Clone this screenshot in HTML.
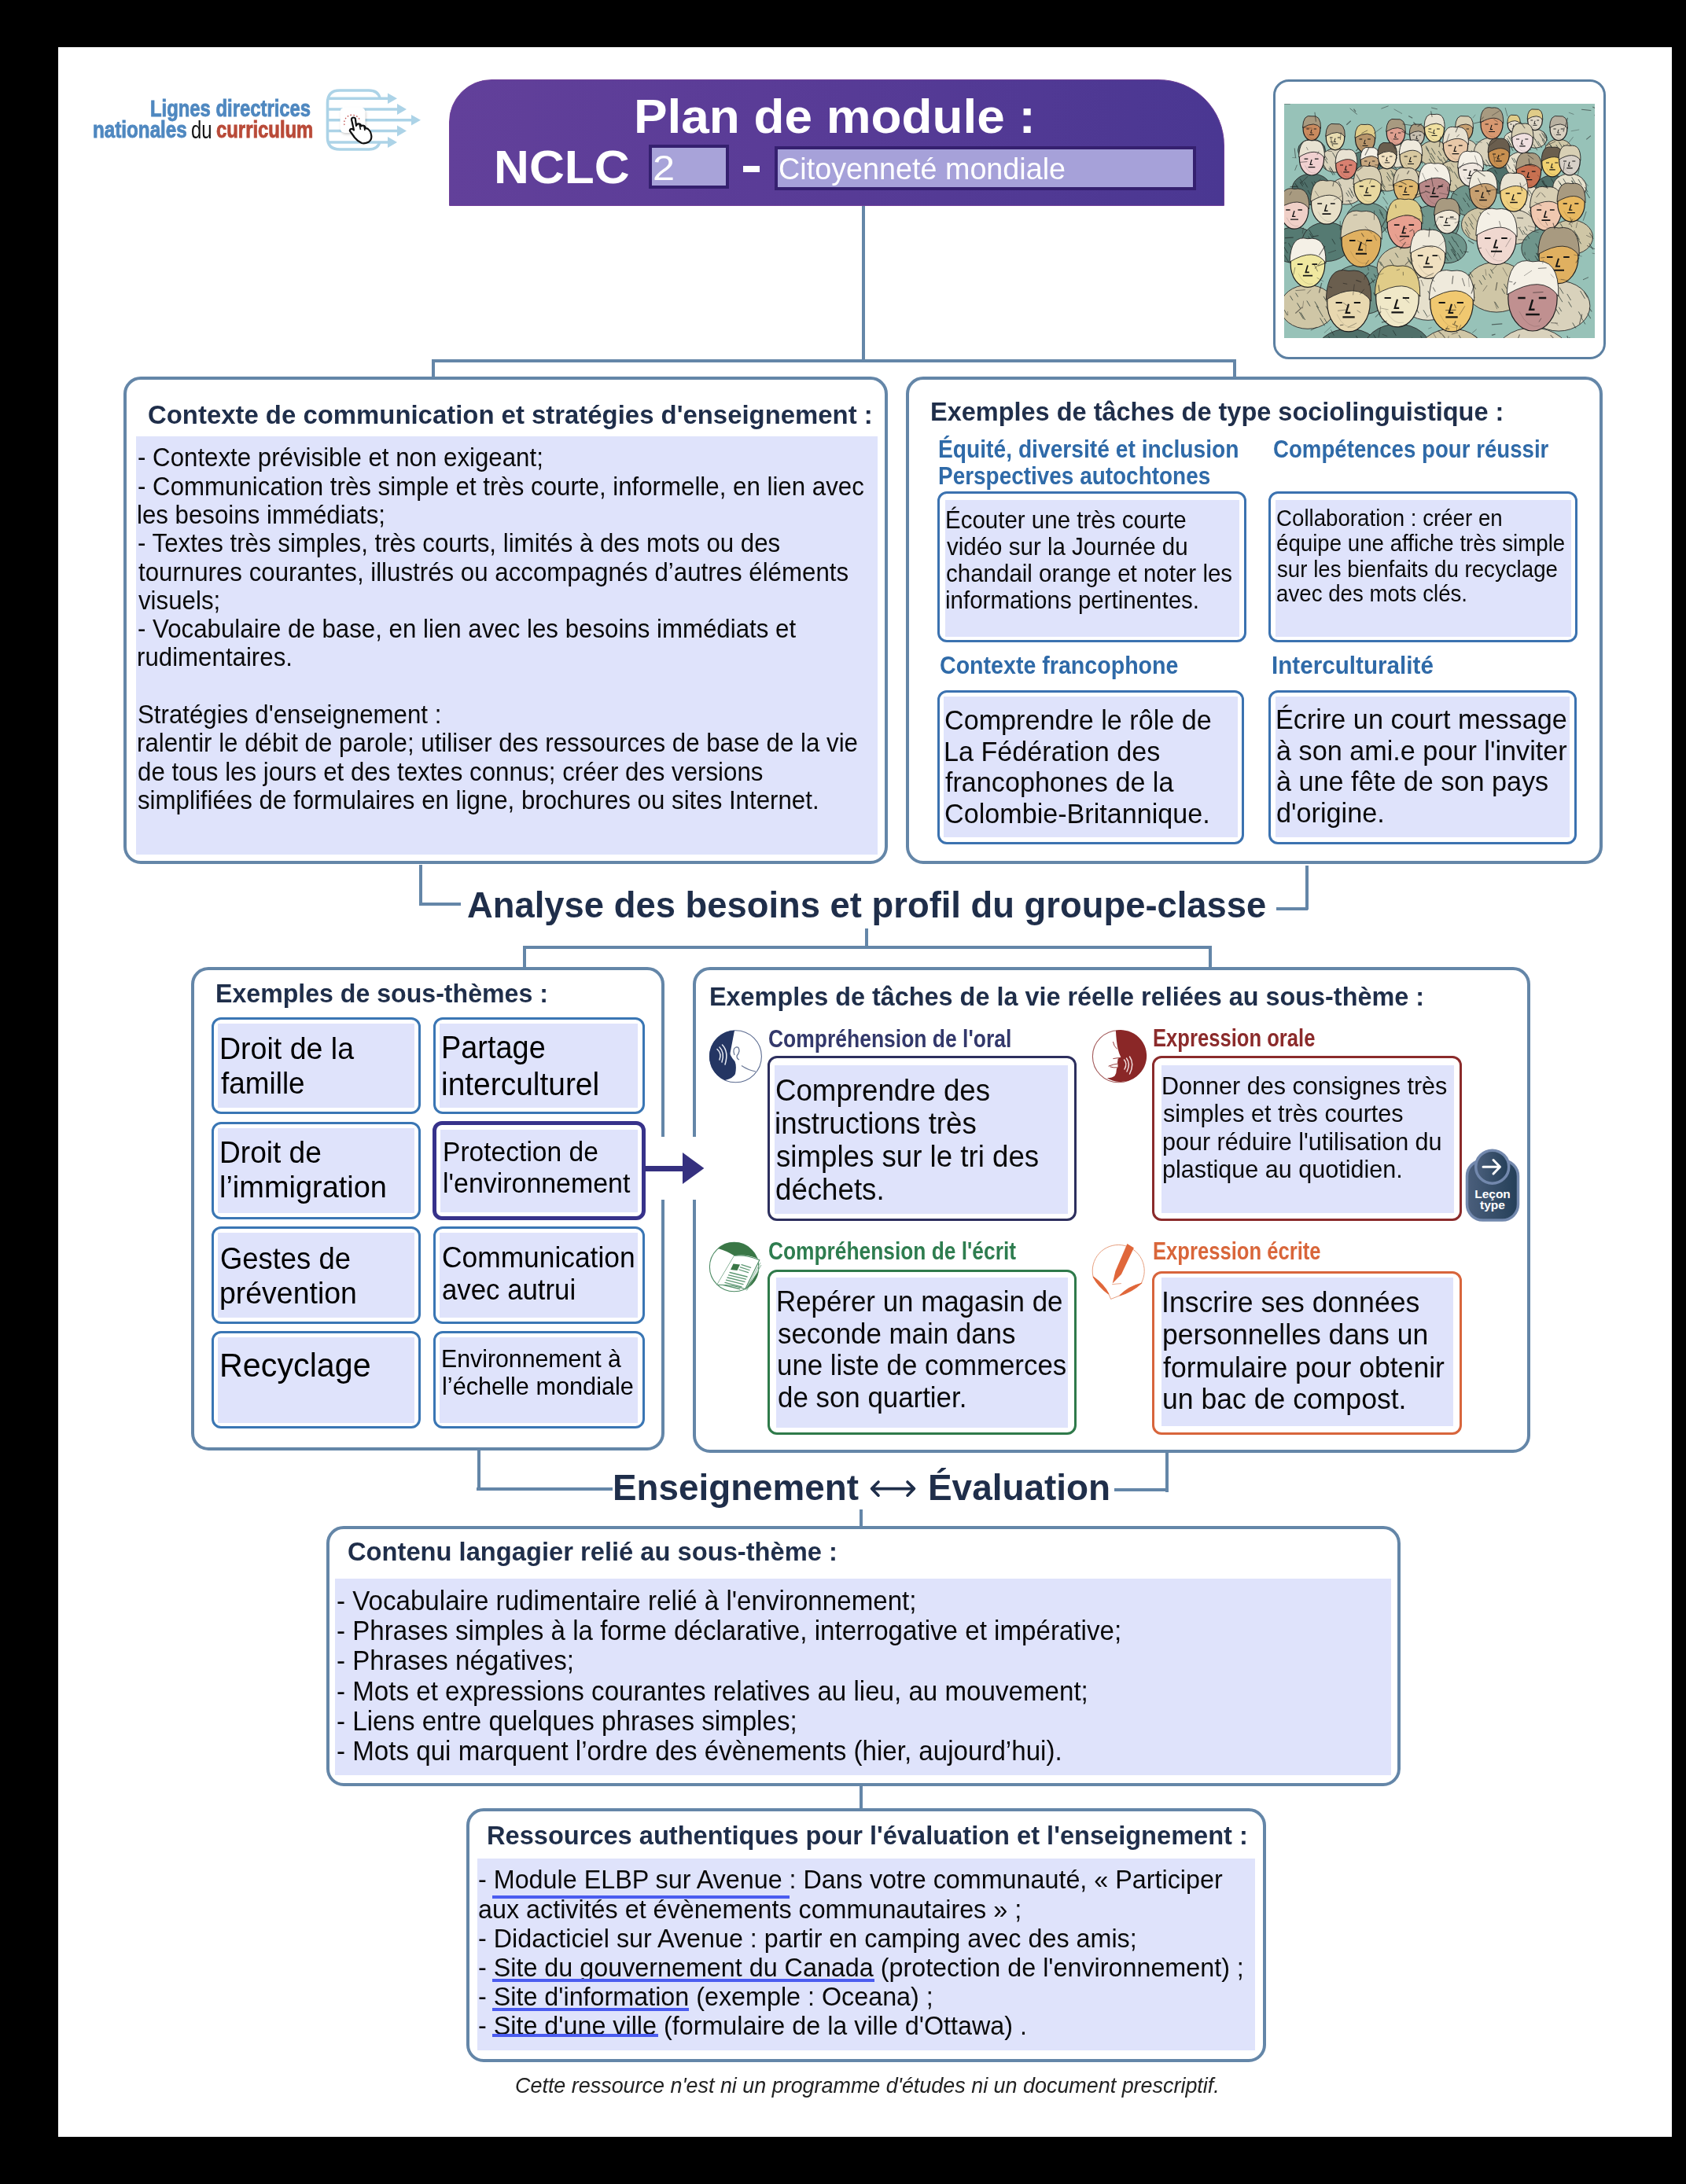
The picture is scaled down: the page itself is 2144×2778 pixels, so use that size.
<!DOCTYPE html>
<html><head><meta charset="utf-8">
<style>
html,body{margin:0;padding:0;}
body{width:2144px;height:2778px;background:#000;position:relative;overflow:hidden;font-family:"Liberation Sans",sans-serif;}
body>div,body>span,body>svg{position:absolute;box-sizing:border-box;}
.t{white-space:pre;transform-origin:0 0;display:block;}
</style></head><body>
<div style="left:74.0px;top:60.0px;width:2052.0px;height:2658.0px;background:#ffffff;"></div>
<span class="t" style="left:190.7px;top:122.6px;font-size:30.0px;line-height:30.0px;font-weight:bold;font-style:normal;color:#4f88c0;transform:scaleX(0.7948);-webkit-text-stroke:0.9px currentColor;">Lignes directrices</span>
<span class="t" style="left:118.2px;top:150.1px;font-size:30.0px;line-height:30.0px;font-weight:bold;font-style:normal;color:#4f88c0;transform:scaleX(0.8072);-webkit-text-stroke:0.9px currentColor;">nationales</span>
<span class="t" style="left:243.3px;top:149.7px;font-size:30.450000000000003px;line-height:30.450000000000003px;font-weight:normal;font-style:normal;color:#111;transform:scaleX(0.7875);">du</span>
<span class="t" style="left:275.4px;top:150.1px;font-size:30.0px;line-height:30.0px;font-weight:bold;font-style:normal;color:#b94a38;transform:scaleX(0.7955);-webkit-text-stroke:0.9px currentColor;">curriculum</span>
<svg style="left:405px;top:105px" width="140" height="95" viewBox="0 0 140 95">
<g fill="none" stroke="#acd3e7" stroke-width="3.6">
<path d="M11.5 26 Q11.5 10 27 10 L64 10 Q76 10 78 20 M11.5 26 L11.5 70 Q11.5 85 27 85 L64 85 Q76 85 78 75"/>
<line x1="13" y1="20.3" x2="90" y2="20.3"/><line x1="13" y1="34" x2="102" y2="34"/>
<line x1="13" y1="47.8" x2="120" y2="47.8"/><line x1="13" y1="61.5" x2="102" y2="61.5"/>
<line x1="13" y1="76" x2="90" y2="76"/>
</g>
<g fill="#acd3e7">
<polygon points="88,13.5 100,20.3 88,27"/><polygon points="100,27 112,34 100,41"/>
<polygon points="118,41 130,47.8 118,54.5"/><polygon points="100,54.5 112,61.5 100,68.5"/>
<polygon points="88,69 100,76 88,83"/>
</g>
<rect x="27.5" y="31.5" width="32" height="32.5" rx="6" fill="#fff" style="filter:drop-shadow(1px 2px 1.5px rgba(0,0,0,0.18))"/>
<g stroke="#c0504d" stroke-width="1.3" fill="none" stroke-dasharray="1.6 2.4">
<path d="M33 54 A10 10 0 1 1 53 49"/>
</g>
<path d="M42 47 Q42 44.5 44.5 44.5 Q47 44.5 47 47 L48 55 Q49 52 52 52.5 Q54 53 54 55.5 Q56 54 58 55 Q60 56.5 60 58.5 Q62 58 63.5 59.5 Q66 61.5 67 66 Q68.5 72 64 75.5 Q59 78 55 77 Q50 75 46 70 L41 63 Q39 61 40.5 59.5 Q42.5 58 45 60.5 Z" fill="#fff" stroke="#111" stroke-width="2.2" stroke-linejoin="round"/>
<path d="M52 53 L53.5 60 M58 55.5 L59 61" stroke="#111" stroke-width="1.6"/>
</svg>
<div style="left:571px;top:101px;width:986px;height:161px;border-radius:54px 84px 0 0;border:1.5px solid #70409a;background:linear-gradient(90deg,#62409a 0%,#5a3c97 40%,#4a3792 100%);"></div>
<span class="t" style="left:806.4px;top:118.0px;font-size:61.0px;line-height:61.0px;font-weight:bold;font-style:normal;color:#ffffff;transform:scaleX(1.0465);">Plan de module :</span>
<span class="t" style="left:628.0px;top:182.7px;font-size:60.0px;line-height:60.0px;font-weight:bold;font-style:normal;color:#ffffff;transform:scaleX(1.0366);">NCLC</span>
<div style="left:825.0px;top:184.0px;width:102.0px;height:56.0px;border:4px solid #35206f;border-radius:0;background:#a8a3d9;box-sizing:border-box;"></div>
<span class="t" style="left:829.5px;top:191.8px;font-size:44.625px;line-height:44.625px;font-weight:normal;font-style:normal;color:#ffffff;transform:scaleX(1.1328);">2</span>
<div style="left:945.0px;top:211.0px;width:21.0px;height:8.0px;background:#ffffff;"></div>
<div style="left:985.0px;top:186.0px;width:536.0px;height:55.5px;border:4px solid #35206f;border-radius:0;background:#a6a1d9;box-sizing:border-box;"></div>
<span class="t" style="left:990.1px;top:194.8px;font-size:39.165px;line-height:39.165px;font-weight:normal;font-style:normal;color:#ffffff;transform:scaleX(0.9640);">Citoyenneté mondiale</span>
<div style="left:1096.0px;top:262.0px;width:4.0px;height:198.0px;background:#6486a8;"></div>
<div style="left:549.0px;top:456.5px;width:1023.0px;height:4.0px;background:#6486a8;"></div>
<div style="left:549.0px;top:456.5px;width:4.0px;height:23.5px;background:#6486a8;"></div>
<div style="left:1568.0px;top:456.5px;width:4.0px;height:23.5px;background:#6486a8;"></div>
<div style="left:1619.2px;top:101.2px;width:422.8px;height:355.8px;border:3.6px solid #5c80a2;border-radius:20px;background:#ffffff;box-sizing:border-box;"></div>
<svg style="left:1633px;top:132px" width="395" height="298" viewBox="0 0 395 298">
<defs><clipPath id="ic"><rect width="395" height="298"/></clipPath></defs><g clip-path="url(#ic)">
<rect width="395" height="298" fill="#97c2b8"/>
<ellipse cx="35.0" cy="59.2" rx="17.5" ry="14.0" fill="#557a72" stroke="#2a2a2a" stroke-width="0.9"/>
<line x1="47.0" y1="65.8" x2="52.3" y2="74.7" stroke="#1f2f2c" stroke-width="0.7"/>
<line x1="33.4" y1="65.8" x2="37.0" y2="71.7" stroke="#1f2f2c" stroke-width="0.7"/>
<line x1="45.0" y1="58.0" x2="49.8" y2="66.0" stroke="#1f2f2c" stroke-width="0.7"/>
<line x1="24.7" y1="57.4" x2="28.1" y2="63.1" stroke="#1f2f2c" stroke-width="0.7"/>
<line x1="36.3" y1="66.5" x2="41.2" y2="74.7" stroke="#1f2f2c" stroke-width="0.7"/>
<line x1="38.1" y1="56.3" x2="42.5" y2="63.6" stroke="#1f2f2c" stroke-width="0.7"/>
<line x1="42.8" y1="61.5" x2="47.7" y2="69.7" stroke="#1f2f2c" stroke-width="0.7"/>
<line x1="45.9" y1="49.5" x2="49.0" y2="54.6" stroke="#1f2f2c" stroke-width="0.7"/>
<line x1="47.4" y1="60.5" x2="52.8" y2="69.4" stroke="#1f2f2c" stroke-width="0.7"/>
<line x1="29.3" y1="60.3" x2="32.9" y2="66.3" stroke="#1f2f2c" stroke-width="0.7"/>
<line x1="26.3" y1="54.2" x2="29.3" y2="59.2" stroke="#1f2f2c" stroke-width="0.7"/>
<line x1="21.4" y1="61.6" x2="25.6" y2="68.7" stroke="#1f2f2c" stroke-width="0.7"/>
<line x1="36.7" y1="67.3" x2="39.9" y2="72.8" stroke="#1f2f2c" stroke-width="0.7"/>
<line x1="26.9" y1="63.8" x2="31.5" y2="71.3" stroke="#1f2f2c" stroke-width="0.7"/>
<ellipse cx="65.0" cy="72.1" rx="18.7" ry="15.0" fill="#d9d2bc" stroke="#2a2a2a" stroke-width="0.9"/>
<line x1="49.9" y1="77.2" x2="54.1" y2="84.2" stroke="#1f2f2c" stroke-width="0.7"/>
<line x1="77.2" y1="68.8" x2="83.0" y2="78.6" stroke="#1f2f2c" stroke-width="0.7"/>
<line x1="77.2" y1="60.3" x2="80.8" y2="66.4" stroke="#1f2f2c" stroke-width="0.7"/>
<line x1="79.4" y1="70.7" x2="85.3" y2="80.6" stroke="#1f2f2c" stroke-width="0.7"/>
<line x1="61.4" y1="61.9" x2="66.3" y2="70.1" stroke="#1f2f2c" stroke-width="0.7"/>
<line x1="74.8" y1="66.3" x2="78.0" y2="71.7" stroke="#1f2f2c" stroke-width="0.7"/>
<line x1="59.1" y1="81.6" x2="64.4" y2="90.4" stroke="#1f2f2c" stroke-width="0.7"/>
<line x1="51.6" y1="65.8" x2="54.9" y2="71.3" stroke="#1f2f2c" stroke-width="0.7"/>
<line x1="49.6" y1="77.9" x2="53.1" y2="83.8" stroke="#1f2f2c" stroke-width="0.7"/>
<line x1="67.1" y1="70.2" x2="70.7" y2="76.1" stroke="#1f2f2c" stroke-width="0.7"/>
<line x1="73.1" y1="63.2" x2="78.1" y2="71.4" stroke="#1f2f2c" stroke-width="0.7"/>
<line x1="51.5" y1="69.6" x2="55.2" y2="75.7" stroke="#1f2f2c" stroke-width="0.7"/>
<line x1="56.9" y1="81.7" x2="62.3" y2="90.8" stroke="#1f2f2c" stroke-width="0.7"/>
<line x1="58.1" y1="79.8" x2="61.8" y2="85.9" stroke="#1f2f2c" stroke-width="0.7"/>
<ellipse cx="103.0" cy="76.1" rx="20.0" ry="16.0" fill="#557a72" stroke="#2a2a2a" stroke-width="0.9"/>
<line x1="121.6" y1="77.6" x2="126.3" y2="85.5" stroke="#1f2f2c" stroke-width="0.7"/>
<line x1="85.9" y1="66.9" x2="90.2" y2="74.1" stroke="#1f2f2c" stroke-width="0.7"/>
<line x1="84.6" y1="77.8" x2="90.1" y2="87.0" stroke="#1f2f2c" stroke-width="0.7"/>
<line x1="98.7" y1="65.2" x2="102.4" y2="71.3" stroke="#1f2f2c" stroke-width="0.7"/>
<line x1="108.1" y1="63.8" x2="112.2" y2="70.7" stroke="#1f2f2c" stroke-width="0.7"/>
<line x1="107.6" y1="66.5" x2="112.3" y2="74.4" stroke="#1f2f2c" stroke-width="0.7"/>
<line x1="115.4" y1="66.7" x2="119.6" y2="73.6" stroke="#1f2f2c" stroke-width="0.7"/>
<line x1="107.8" y1="70.8" x2="111.4" y2="76.9" stroke="#1f2f2c" stroke-width="0.7"/>
<line x1="107.1" y1="80.5" x2="110.6" y2="86.3" stroke="#1f2f2c" stroke-width="0.7"/>
<line x1="107.8" y1="76.5" x2="112.9" y2="84.9" stroke="#1f2f2c" stroke-width="0.7"/>
<line x1="98.8" y1="74.8" x2="102.1" y2="80.2" stroke="#1f2f2c" stroke-width="0.7"/>
<line x1="86.1" y1="66.0" x2="90.6" y2="73.6" stroke="#1f2f2c" stroke-width="0.7"/>
<line x1="93.8" y1="80.9" x2="98.0" y2="87.8" stroke="#1f2f2c" stroke-width="0.7"/>
<line x1="100.0" y1="84.8" x2="104.5" y2="92.2" stroke="#1f2f2c" stroke-width="0.7"/>
<ellipse cx="142.0" cy="66.1" rx="18.7" ry="15.0" fill="#e6e0cc" stroke="#2a2a2a" stroke-width="0.9"/>
<line x1="130.6" y1="70.2" x2="133.8" y2="75.6" stroke="#1f2f2c" stroke-width="0.7"/>
<line x1="132.5" y1="66.7" x2="138.0" y2="75.9" stroke="#1f2f2c" stroke-width="0.7"/>
<line x1="146.0" y1="60.5" x2="151.8" y2="70.1" stroke="#1f2f2c" stroke-width="0.7"/>
<line x1="131.6" y1="54.7" x2="135.4" y2="61.0" stroke="#1f2f2c" stroke-width="0.7"/>
<line x1="140.1" y1="55.7" x2="143.6" y2="61.5" stroke="#1f2f2c" stroke-width="0.7"/>
<line x1="137.4" y1="66.9" x2="140.8" y2="72.6" stroke="#1f2f2c" stroke-width="0.7"/>
<line x1="137.2" y1="74.0" x2="143.1" y2="83.9" stroke="#1f2f2c" stroke-width="0.7"/>
<line x1="147.5" y1="69.6" x2="152.3" y2="77.5" stroke="#1f2f2c" stroke-width="0.7"/>
<line x1="129.4" y1="55.1" x2="132.4" y2="60.2" stroke="#1f2f2c" stroke-width="0.7"/>
<line x1="156.4" y1="69.8" x2="162.3" y2="79.6" stroke="#1f2f2c" stroke-width="0.7"/>
<line x1="125.2" y1="68.4" x2="129.6" y2="75.8" stroke="#1f2f2c" stroke-width="0.7"/>
<line x1="150.1" y1="61.4" x2="156.1" y2="71.4" stroke="#1f2f2c" stroke-width="0.7"/>
<line x1="127.1" y1="66.4" x2="132.3" y2="75.1" stroke="#1f2f2c" stroke-width="0.7"/>
<line x1="156.0" y1="70.6" x2="161.2" y2="79.1" stroke="#1f2f2c" stroke-width="0.7"/>
<ellipse cx="169.0" cy="63.3" rx="15.0" ry="12.0" fill="#cfc6a6" stroke="#2a2a2a" stroke-width="0.9"/>
<line x1="164.8" y1="65.9" x2="170.5" y2="75.5" stroke="#1f2f2c" stroke-width="0.7"/>
<line x1="179.4" y1="61.2" x2="184.8" y2="70.2" stroke="#1f2f2c" stroke-width="0.7"/>
<line x1="179.2" y1="64.0" x2="184.1" y2="72.1" stroke="#1f2f2c" stroke-width="0.7"/>
<line x1="165.7" y1="64.1" x2="170.5" y2="72.2" stroke="#1f2f2c" stroke-width="0.7"/>
<line x1="157.2" y1="65.1" x2="163.2" y2="75.1" stroke="#1f2f2c" stroke-width="0.7"/>
<line x1="179.7" y1="66.7" x2="183.8" y2="73.6" stroke="#1f2f2c" stroke-width="0.7"/>
<line x1="175.6" y1="64.1" x2="179.9" y2="71.3" stroke="#1f2f2c" stroke-width="0.7"/>
<line x1="178.5" y1="55.3" x2="183.8" y2="64.1" stroke="#1f2f2c" stroke-width="0.7"/>
<line x1="155.8" y1="64.5" x2="160.2" y2="71.9" stroke="#1f2f2c" stroke-width="0.7"/>
<line x1="161.4" y1="66.2" x2="165.9" y2="73.7" stroke="#1f2f2c" stroke-width="0.7"/>
<line x1="172.2" y1="70.1" x2="176.0" y2="76.4" stroke="#1f2f2c" stroke-width="0.7"/>
<line x1="155.3" y1="59.2" x2="160.3" y2="67.6" stroke="#1f2f2c" stroke-width="0.7"/>
<line x1="160.6" y1="56.9" x2="166.4" y2="66.4" stroke="#1f2f2c" stroke-width="0.7"/>
<line x1="173.5" y1="61.7" x2="179.2" y2="71.1" stroke="#1f2f2c" stroke-width="0.7"/>
<ellipse cx="191.0" cy="63.1" rx="20.0" ry="16.0" fill="#cfc6a6" stroke="#2a2a2a" stroke-width="0.9"/>
<line x1="187.4" y1="56.4" x2="192.3" y2="64.5" stroke="#1f2f2c" stroke-width="0.7"/>
<line x1="202.4" y1="68.2" x2="206.0" y2="74.2" stroke="#1f2f2c" stroke-width="0.7"/>
<line x1="180.3" y1="55.6" x2="186.1" y2="65.2" stroke="#1f2f2c" stroke-width="0.7"/>
<line x1="180.1" y1="53.6" x2="184.2" y2="60.4" stroke="#1f2f2c" stroke-width="0.7"/>
<line x1="205.8" y1="51.4" x2="209.0" y2="56.8" stroke="#1f2f2c" stroke-width="0.7"/>
<line x1="209.0" y1="69.8" x2="212.3" y2="75.4" stroke="#1f2f2c" stroke-width="0.7"/>
<line x1="189.9" y1="72.3" x2="195.4" y2="81.4" stroke="#1f2f2c" stroke-width="0.7"/>
<line x1="186.6" y1="62.7" x2="191.6" y2="71.1" stroke="#1f2f2c" stroke-width="0.7"/>
<line x1="199.1" y1="70.3" x2="204.0" y2="78.4" stroke="#1f2f2c" stroke-width="0.7"/>
<line x1="184.3" y1="70.0" x2="188.1" y2="76.4" stroke="#1f2f2c" stroke-width="0.7"/>
<line x1="195.0" y1="66.4" x2="198.9" y2="72.8" stroke="#1f2f2c" stroke-width="0.7"/>
<line x1="185.5" y1="65.8" x2="190.2" y2="73.6" stroke="#1f2f2c" stroke-width="0.7"/>
<line x1="196.3" y1="60.0" x2="199.8" y2="66.0" stroke="#1f2f2c" stroke-width="0.7"/>
<line x1="201.1" y1="56.7" x2="206.4" y2="65.6" stroke="#1f2f2c" stroke-width="0.7"/>
<ellipse cx="229.0" cy="59.2" rx="17.5" ry="14.0" fill="#d9d2bc" stroke="#2a2a2a" stroke-width="0.9"/>
<line x1="244.9" y1="50.5" x2="248.2" y2="56.1" stroke="#1f2f2c" stroke-width="0.7"/>
<line x1="230.2" y1="61.3" x2="234.3" y2="68.2" stroke="#1f2f2c" stroke-width="0.7"/>
<line x1="215.2" y1="52.2" x2="220.6" y2="61.4" stroke="#1f2f2c" stroke-width="0.7"/>
<line x1="221.0" y1="62.9" x2="226.3" y2="71.6" stroke="#1f2f2c" stroke-width="0.7"/>
<line x1="230.1" y1="48.9" x2="233.8" y2="55.0" stroke="#1f2f2c" stroke-width="0.7"/>
<line x1="238.1" y1="59.3" x2="244.0" y2="69.0" stroke="#1f2f2c" stroke-width="0.7"/>
<line x1="229.0" y1="68.7" x2="232.5" y2="74.5" stroke="#1f2f2c" stroke-width="0.7"/>
<line x1="240.4" y1="62.6" x2="244.1" y2="68.7" stroke="#1f2f2c" stroke-width="0.7"/>
<line x1="226.1" y1="66.5" x2="230.2" y2="73.5" stroke="#1f2f2c" stroke-width="0.7"/>
<line x1="227.4" y1="52.2" x2="233.0" y2="61.7" stroke="#1f2f2c" stroke-width="0.7"/>
<line x1="212.8" y1="59.5" x2="217.8" y2="67.8" stroke="#1f2f2c" stroke-width="0.7"/>
<line x1="229.1" y1="65.0" x2="233.1" y2="71.7" stroke="#1f2f2c" stroke-width="0.7"/>
<line x1="223.3" y1="68.4" x2="226.6" y2="73.9" stroke="#1f2f2c" stroke-width="0.7"/>
<line x1="241.0" y1="64.6" x2="246.8" y2="74.2" stroke="#1f2f2c" stroke-width="0.7"/>
<ellipse cx="264.0" cy="61.0" rx="22.5" ry="18.0" fill="#d9d2bc" stroke="#2a2a2a" stroke-width="0.9"/>
<line x1="251.9" y1="70.6" x2="257.9" y2="80.5" stroke="#1f2f2c" stroke-width="0.7"/>
<line x1="284.1" y1="61.0" x2="289.5" y2="70.0" stroke="#1f2f2c" stroke-width="0.7"/>
<line x1="256.4" y1="70.9" x2="262.0" y2="80.1" stroke="#1f2f2c" stroke-width="0.7"/>
<line x1="257.6" y1="49.0" x2="261.9" y2="56.2" stroke="#1f2f2c" stroke-width="0.7"/>
<line x1="266.1" y1="67.1" x2="270.6" y2="74.6" stroke="#1f2f2c" stroke-width="0.7"/>
<line x1="244.1" y1="68.2" x2="247.3" y2="73.5" stroke="#1f2f2c" stroke-width="0.7"/>
<line x1="276.6" y1="51.4" x2="280.6" y2="58.0" stroke="#1f2f2c" stroke-width="0.7"/>
<line x1="276.1" y1="50.5" x2="279.6" y2="56.3" stroke="#1f2f2c" stroke-width="0.7"/>
<line x1="264.7" y1="65.9" x2="270.2" y2="75.1" stroke="#1f2f2c" stroke-width="0.7"/>
<line x1="272.0" y1="71.8" x2="276.5" y2="79.3" stroke="#1f2f2c" stroke-width="0.7"/>
<line x1="282.9" y1="49.1" x2="286.6" y2="55.2" stroke="#1f2f2c" stroke-width="0.7"/>
<line x1="265.1" y1="54.5" x2="270.3" y2="63.1" stroke="#1f2f2c" stroke-width="0.7"/>
<line x1="269.8" y1="60.6" x2="275.4" y2="69.8" stroke="#1f2f2c" stroke-width="0.7"/>
<line x1="266.5" y1="55.0" x2="270.7" y2="61.9" stroke="#1f2f2c" stroke-width="0.7"/>
<ellipse cx="292.0" cy="45.4" rx="12.5" ry="10.0" fill="#e6e0cc" stroke="#2a2a2a" stroke-width="0.9"/>
<line x1="285.2" y1="50.1" x2="291.1" y2="59.9" stroke="#1f2f2c" stroke-width="0.7"/>
<line x1="292.6" y1="46.0" x2="296.2" y2="52.0" stroke="#1f2f2c" stroke-width="0.7"/>
<line x1="292.8" y1="44.9" x2="297.7" y2="53.0" stroke="#1f2f2c" stroke-width="0.7"/>
<line x1="280.9" y1="51.8" x2="285.5" y2="59.4" stroke="#1f2f2c" stroke-width="0.7"/>
<line x1="289.7" y1="49.3" x2="294.4" y2="57.1" stroke="#1f2f2c" stroke-width="0.7"/>
<line x1="291.8" y1="47.7" x2="295.0" y2="53.0" stroke="#1f2f2c" stroke-width="0.7"/>
<line x1="292.9" y1="43.6" x2="298.8" y2="53.4" stroke="#1f2f2c" stroke-width="0.7"/>
<line x1="301.9" y1="41.5" x2="306.3" y2="48.9" stroke="#1f2f2c" stroke-width="0.7"/>
<line x1="283.3" y1="43.9" x2="288.7" y2="53.0" stroke="#1f2f2c" stroke-width="0.7"/>
<line x1="301.4" y1="44.6" x2="305.3" y2="51.1" stroke="#1f2f2c" stroke-width="0.7"/>
<line x1="284.8" y1="46.6" x2="290.6" y2="56.3" stroke="#1f2f2c" stroke-width="0.7"/>
<line x1="283.3" y1="49.0" x2="286.4" y2="54.1" stroke="#1f2f2c" stroke-width="0.7"/>
<line x1="284.8" y1="40.9" x2="289.9" y2="49.3" stroke="#1f2f2c" stroke-width="0.7"/>
<line x1="287.8" y1="42.8" x2="292.7" y2="50.9" stroke="#1f2f2c" stroke-width="0.7"/>
<ellipse cx="319.0" cy="44.3" rx="15.0" ry="12.0" fill="#d9d2bc" stroke="#2a2a2a" stroke-width="0.9"/>
<line x1="319.0" y1="45.1" x2="324.5" y2="54.4" stroke="#1f2f2c" stroke-width="0.7"/>
<line x1="322.5" y1="47.5" x2="327.6" y2="56.0" stroke="#1f2f2c" stroke-width="0.7"/>
<line x1="329.6" y1="35.3" x2="334.5" y2="43.4" stroke="#1f2f2c" stroke-width="0.7"/>
<line x1="328.1" y1="45.7" x2="332.7" y2="53.4" stroke="#1f2f2c" stroke-width="0.7"/>
<line x1="329.2" y1="44.3" x2="332.9" y2="50.4" stroke="#1f2f2c" stroke-width="0.7"/>
<line x1="311.0" y1="44.4" x2="315.8" y2="52.4" stroke="#1f2f2c" stroke-width="0.7"/>
<line x1="308.8" y1="51.0" x2="313.7" y2="59.1" stroke="#1f2f2c" stroke-width="0.7"/>
<line x1="314.7" y1="38.1" x2="319.5" y2="46.1" stroke="#1f2f2c" stroke-width="0.7"/>
<line x1="330.0" y1="38.3" x2="335.3" y2="47.2" stroke="#1f2f2c" stroke-width="0.7"/>
<line x1="310.4" y1="36.6" x2="316.1" y2="46.0" stroke="#1f2f2c" stroke-width="0.7"/>
<line x1="308.7" y1="36.4" x2="312.8" y2="43.4" stroke="#1f2f2c" stroke-width="0.7"/>
<line x1="317.2" y1="51.5" x2="321.8" y2="59.2" stroke="#1f2f2c" stroke-width="0.7"/>
<line x1="324.8" y1="38.4" x2="329.6" y2="46.5" stroke="#1f2f2c" stroke-width="0.7"/>
<line x1="327.4" y1="36.6" x2="332.1" y2="44.4" stroke="#1f2f2c" stroke-width="0.7"/>
<ellipse cx="349.0" cy="59.2" rx="17.5" ry="14.0" fill="#cfc6a6" stroke="#2a2a2a" stroke-width="0.9"/>
<line x1="362.5" y1="68.1" x2="365.8" y2="73.7" stroke="#1f2f2c" stroke-width="0.7"/>
<line x1="349.2" y1="63.8" x2="353.7" y2="71.3" stroke="#1f2f2c" stroke-width="0.7"/>
<line x1="355.1" y1="52.1" x2="358.3" y2="57.4" stroke="#1f2f2c" stroke-width="0.7"/>
<line x1="336.1" y1="48.9" x2="340.8" y2="56.7" stroke="#1f2f2c" stroke-width="0.7"/>
<line x1="349.5" y1="59.9" x2="352.9" y2="65.6" stroke="#1f2f2c" stroke-width="0.7"/>
<line x1="338.7" y1="52.4" x2="344.2" y2="61.6" stroke="#1f2f2c" stroke-width="0.7"/>
<line x1="365.1" y1="67.2" x2="368.3" y2="72.7" stroke="#1f2f2c" stroke-width="0.7"/>
<line x1="334.6" y1="67.8" x2="339.0" y2="75.1" stroke="#1f2f2c" stroke-width="0.7"/>
<line x1="357.7" y1="54.9" x2="362.1" y2="62.2" stroke="#1f2f2c" stroke-width="0.7"/>
<line x1="349.5" y1="57.0" x2="354.3" y2="65.0" stroke="#1f2f2c" stroke-width="0.7"/>
<line x1="333.1" y1="62.6" x2="338.6" y2="71.8" stroke="#1f2f2c" stroke-width="0.7"/>
<line x1="338.6" y1="57.5" x2="343.8" y2="66.2" stroke="#1f2f2c" stroke-width="0.7"/>
<line x1="345.9" y1="52.2" x2="349.4" y2="58.0" stroke="#1f2f2c" stroke-width="0.7"/>
<line x1="349.4" y1="48.5" x2="355.1" y2="58.0" stroke="#1f2f2c" stroke-width="0.7"/>
<ellipse cx="35.0" cy="108.8" rx="25.0" ry="19.9" fill="#4f6f69" stroke="#2a2a2a" stroke-width="0.9"/>
<line x1="52.6" y1="119.8" x2="58.4" y2="129.5" stroke="#1f2f2c" stroke-width="0.7"/>
<line x1="38.3" y1="98.7" x2="43.0" y2="106.6" stroke="#1f2f2c" stroke-width="0.7"/>
<line x1="27.6" y1="115.5" x2="31.4" y2="121.9" stroke="#1f2f2c" stroke-width="0.7"/>
<line x1="17.0" y1="114.9" x2="20.5" y2="120.7" stroke="#1f2f2c" stroke-width="0.7"/>
<line x1="55.3" y1="97.0" x2="59.3" y2="103.7" stroke="#1f2f2c" stroke-width="0.7"/>
<line x1="36.8" y1="104.0" x2="41.1" y2="111.1" stroke="#1f2f2c" stroke-width="0.7"/>
<line x1="20.1" y1="99.2" x2="23.7" y2="105.1" stroke="#1f2f2c" stroke-width="0.7"/>
<line x1="48.9" y1="102.0" x2="52.2" y2="107.5" stroke="#1f2f2c" stroke-width="0.7"/>
<line x1="53.2" y1="122.2" x2="58.9" y2="131.7" stroke="#1f2f2c" stroke-width="0.7"/>
<line x1="13.9" y1="101.1" x2="19.8" y2="110.9" stroke="#1f2f2c" stroke-width="0.7"/>
<line x1="25.6" y1="99.5" x2="29.8" y2="106.5" stroke="#1f2f2c" stroke-width="0.7"/>
<line x1="20.1" y1="95.4" x2="24.7" y2="102.9" stroke="#1f2f2c" stroke-width="0.7"/>
<line x1="34.9" y1="99.4" x2="38.2" y2="105.0" stroke="#1f2f2c" stroke-width="0.7"/>
<line x1="30.1" y1="110.0" x2="33.4" y2="115.6" stroke="#1f2f2c" stroke-width="0.7"/>
<ellipse cx="79.0" cy="111.0" rx="21.2" ry="17.0" fill="#d9d2bc" stroke="#2a2a2a" stroke-width="0.9"/>
<line x1="88.5" y1="104.0" x2="92.7" y2="111.1" stroke="#1f2f2c" stroke-width="0.7"/>
<line x1="61.1" y1="102.5" x2="65.2" y2="109.4" stroke="#1f2f2c" stroke-width="0.7"/>
<line x1="63.0" y1="103.9" x2="68.7" y2="113.4" stroke="#1f2f2c" stroke-width="0.7"/>
<line x1="81.0" y1="110.3" x2="86.9" y2="120.2" stroke="#1f2f2c" stroke-width="0.7"/>
<line x1="81.7" y1="122.5" x2="86.6" y2="130.7" stroke="#1f2f2c" stroke-width="0.7"/>
<line x1="91.3" y1="99.5" x2="96.1" y2="107.5" stroke="#1f2f2c" stroke-width="0.7"/>
<line x1="89.3" y1="98.8" x2="95.1" y2="108.4" stroke="#1f2f2c" stroke-width="0.7"/>
<line x1="65.5" y1="109.4" x2="69.0" y2="115.3" stroke="#1f2f2c" stroke-width="0.7"/>
<line x1="78.8" y1="112.9" x2="82.0" y2="118.2" stroke="#1f2f2c" stroke-width="0.7"/>
<line x1="96.7" y1="108.1" x2="101.3" y2="115.8" stroke="#1f2f2c" stroke-width="0.7"/>
<line x1="82.9" y1="106.8" x2="86.7" y2="113.2" stroke="#1f2f2c" stroke-width="0.7"/>
<line x1="85.2" y1="111.6" x2="89.0" y2="118.1" stroke="#1f2f2c" stroke-width="0.7"/>
<line x1="87.6" y1="105.0" x2="90.7" y2="110.1" stroke="#1f2f2c" stroke-width="0.7"/>
<line x1="68.9" y1="98.7" x2="72.3" y2="104.5" stroke="#1f2f2c" stroke-width="0.7"/>
<ellipse cx="109.0" cy="102.1" rx="18.7" ry="15.0" fill="#4f6f69" stroke="#2a2a2a" stroke-width="0.9"/>
<line x1="105.1" y1="110.1" x2="110.4" y2="118.9" stroke="#1f2f2c" stroke-width="0.7"/>
<line x1="93.2" y1="112.1" x2="99.0" y2="121.8" stroke="#1f2f2c" stroke-width="0.7"/>
<line x1="94.0" y1="110.3" x2="98.3" y2="117.4" stroke="#1f2f2c" stroke-width="0.7"/>
<line x1="108.2" y1="111.8" x2="111.9" y2="118.0" stroke="#1f2f2c" stroke-width="0.7"/>
<line x1="109.8" y1="111.0" x2="115.0" y2="119.6" stroke="#1f2f2c" stroke-width="0.7"/>
<line x1="107.9" y1="111.9" x2="113.3" y2="121.0" stroke="#1f2f2c" stroke-width="0.7"/>
<line x1="112.6" y1="92.9" x2="117.5" y2="101.0" stroke="#1f2f2c" stroke-width="0.7"/>
<line x1="107.4" y1="94.8" x2="110.6" y2="100.1" stroke="#1f2f2c" stroke-width="0.7"/>
<line x1="110.0" y1="93.1" x2="114.3" y2="100.3" stroke="#1f2f2c" stroke-width="0.7"/>
<line x1="114.9" y1="100.4" x2="118.7" y2="106.7" stroke="#1f2f2c" stroke-width="0.7"/>
<line x1="111.9" y1="99.6" x2="117.2" y2="108.5" stroke="#1f2f2c" stroke-width="0.7"/>
<line x1="110.1" y1="112.3" x2="115.9" y2="122.1" stroke="#1f2f2c" stroke-width="0.7"/>
<line x1="117.2" y1="95.6" x2="120.6" y2="101.2" stroke="#1f2f2c" stroke-width="0.7"/>
<line x1="122.8" y1="107.6" x2="127.7" y2="115.7" stroke="#1f2f2c" stroke-width="0.7"/>
<ellipse cx="131.0" cy="96.1" rx="18.7" ry="15.0" fill="#cfc6a6" stroke="#2a2a2a" stroke-width="0.9"/>
<line x1="123.1" y1="97.8" x2="128.3" y2="106.4" stroke="#1f2f2c" stroke-width="0.7"/>
<line x1="138.0" y1="88.5" x2="141.8" y2="94.9" stroke="#1f2f2c" stroke-width="0.7"/>
<line x1="121.9" y1="105.3" x2="126.4" y2="112.8" stroke="#1f2f2c" stroke-width="0.7"/>
<line x1="136.4" y1="88.6" x2="141.4" y2="97.1" stroke="#1f2f2c" stroke-width="0.7"/>
<line x1="135.5" y1="84.5" x2="139.3" y2="90.8" stroke="#1f2f2c" stroke-width="0.7"/>
<line x1="114.4" y1="85.2" x2="118.1" y2="91.3" stroke="#1f2f2c" stroke-width="0.7"/>
<line x1="123.2" y1="101.0" x2="129.0" y2="110.6" stroke="#1f2f2c" stroke-width="0.7"/>
<line x1="119.1" y1="89.5" x2="125.0" y2="99.4" stroke="#1f2f2c" stroke-width="0.7"/>
<line x1="130.4" y1="92.1" x2="134.5" y2="98.8" stroke="#1f2f2c" stroke-width="0.7"/>
<line x1="130.8" y1="87.3" x2="136.4" y2="96.6" stroke="#1f2f2c" stroke-width="0.7"/>
<line x1="141.6" y1="94.2" x2="147.1" y2="103.3" stroke="#1f2f2c" stroke-width="0.7"/>
<line x1="142.9" y1="101.3" x2="147.2" y2="108.5" stroke="#1f2f2c" stroke-width="0.7"/>
<line x1="139.7" y1="92.9" x2="143.1" y2="98.7" stroke="#1f2f2c" stroke-width="0.7"/>
<line x1="118.8" y1="102.8" x2="123.6" y2="110.7" stroke="#1f2f2c" stroke-width="0.7"/>
<ellipse cx="161.0" cy="102.0" rx="22.5" ry="18.0" fill="#cfc6a6" stroke="#2a2a2a" stroke-width="0.9"/>
<line x1="163.0" y1="107.5" x2="168.8" y2="117.1" stroke="#1f2f2c" stroke-width="0.7"/>
<line x1="158.0" y1="97.6" x2="161.2" y2="103.0" stroke="#1f2f2c" stroke-width="0.7"/>
<line x1="176.8" y1="89.9" x2="180.1" y2="95.3" stroke="#1f2f2c" stroke-width="0.7"/>
<line x1="163.7" y1="100.6" x2="168.8" y2="109.0" stroke="#1f2f2c" stroke-width="0.7"/>
<line x1="152.5" y1="108.3" x2="155.8" y2="113.7" stroke="#1f2f2c" stroke-width="0.7"/>
<line x1="148.9" y1="105.3" x2="152.2" y2="110.7" stroke="#1f2f2c" stroke-width="0.7"/>
<line x1="152.7" y1="107.0" x2="157.8" y2="115.4" stroke="#1f2f2c" stroke-width="0.7"/>
<line x1="151.9" y1="91.6" x2="155.9" y2="98.4" stroke="#1f2f2c" stroke-width="0.7"/>
<line x1="170.5" y1="97.5" x2="173.9" y2="103.1" stroke="#1f2f2c" stroke-width="0.7"/>
<line x1="169.8" y1="102.9" x2="175.6" y2="112.4" stroke="#1f2f2c" stroke-width="0.7"/>
<line x1="179.5" y1="112.0" x2="183.8" y2="119.1" stroke="#1f2f2c" stroke-width="0.7"/>
<line x1="173.8" y1="95.9" x2="177.7" y2="102.4" stroke="#1f2f2c" stroke-width="0.7"/>
<line x1="156.8" y1="112.5" x2="162.5" y2="122.0" stroke="#1f2f2c" stroke-width="0.7"/>
<line x1="150.4" y1="97.4" x2="154.5" y2="104.2" stroke="#1f2f2c" stroke-width="0.7"/>
<ellipse cx="218.0" cy="91.8" rx="25.0" ry="19.9" fill="#cfc6a6" stroke="#2a2a2a" stroke-width="0.9"/>
<line x1="226.3" y1="93.3" x2="231.7" y2="102.3" stroke="#1f2f2c" stroke-width="0.7"/>
<line x1="229.2" y1="86.9" x2="233.3" y2="93.9" stroke="#1f2f2c" stroke-width="0.7"/>
<line x1="201.8" y1="93.5" x2="205.4" y2="99.4" stroke="#1f2f2c" stroke-width="0.7"/>
<line x1="198.8" y1="89.5" x2="204.4" y2="98.7" stroke="#1f2f2c" stroke-width="0.7"/>
<line x1="232.6" y1="82.6" x2="235.8" y2="87.9" stroke="#1f2f2c" stroke-width="0.7"/>
<line x1="202.0" y1="84.8" x2="205.1" y2="89.9" stroke="#1f2f2c" stroke-width="0.7"/>
<line x1="234.0" y1="88.5" x2="238.7" y2="96.4" stroke="#1f2f2c" stroke-width="0.7"/>
<line x1="208.9" y1="92.1" x2="212.9" y2="98.8" stroke="#1f2f2c" stroke-width="0.7"/>
<line x1="207.4" y1="79.2" x2="211.3" y2="85.8" stroke="#1f2f2c" stroke-width="0.7"/>
<line x1="195.8" y1="95.3" x2="199.1" y2="100.8" stroke="#1f2f2c" stroke-width="0.7"/>
<line x1="232.8" y1="88.5" x2="237.9" y2="97.1" stroke="#1f2f2c" stroke-width="0.7"/>
<line x1="217.5" y1="102.8" x2="221.5" y2="109.5" stroke="#1f2f2c" stroke-width="0.7"/>
<line x1="216.1" y1="86.4" x2="221.5" y2="95.4" stroke="#1f2f2c" stroke-width="0.7"/>
<line x1="210.2" y1="80.1" x2="214.6" y2="87.6" stroke="#1f2f2c" stroke-width="0.7"/>
<ellipse cx="273.0" cy="97.0" rx="21.2" ry="17.0" fill="#4f6f69" stroke="#2a2a2a" stroke-width="0.9"/>
<line x1="256.0" y1="99.1" x2="259.1" y2="104.3" stroke="#1f2f2c" stroke-width="0.7"/>
<line x1="283.2" y1="108.3" x2="287.3" y2="115.0" stroke="#1f2f2c" stroke-width="0.7"/>
<line x1="253.3" y1="93.1" x2="256.5" y2="98.5" stroke="#1f2f2c" stroke-width="0.7"/>
<line x1="271.6" y1="97.2" x2="274.7" y2="102.3" stroke="#1f2f2c" stroke-width="0.7"/>
<line x1="267.5" y1="83.9" x2="270.8" y2="89.4" stroke="#1f2f2c" stroke-width="0.7"/>
<line x1="289.8" y1="106.5" x2="293.6" y2="112.7" stroke="#1f2f2c" stroke-width="0.7"/>
<line x1="259.6" y1="99.5" x2="264.6" y2="107.9" stroke="#1f2f2c" stroke-width="0.7"/>
<line x1="265.9" y1="93.4" x2="270.5" y2="101.0" stroke="#1f2f2c" stroke-width="0.7"/>
<line x1="264.0" y1="105.8" x2="268.4" y2="113.1" stroke="#1f2f2c" stroke-width="0.7"/>
<line x1="282.2" y1="91.2" x2="285.6" y2="97.0" stroke="#1f2f2c" stroke-width="0.7"/>
<line x1="289.7" y1="106.4" x2="295.0" y2="115.2" stroke="#1f2f2c" stroke-width="0.7"/>
<line x1="253.8" y1="95.7" x2="259.2" y2="104.7" stroke="#1f2f2c" stroke-width="0.7"/>
<line x1="265.5" y1="88.6" x2="269.6" y2="95.4" stroke="#1f2f2c" stroke-width="0.7"/>
<line x1="276.5" y1="98.6" x2="280.9" y2="106.0" stroke="#1f2f2c" stroke-width="0.7"/>
<ellipse cx="303.0" cy="78.0" rx="21.2" ry="17.0" fill="#e6e0cc" stroke="#2a2a2a" stroke-width="0.9"/>
<line x1="292.0" y1="69.3" x2="295.9" y2="75.7" stroke="#1f2f2c" stroke-width="0.7"/>
<line x1="290.0" y1="83.6" x2="293.9" y2="90.1" stroke="#1f2f2c" stroke-width="0.7"/>
<line x1="304.9" y1="85.1" x2="309.4" y2="92.5" stroke="#1f2f2c" stroke-width="0.7"/>
<line x1="293.5" y1="86.8" x2="299.2" y2="96.4" stroke="#1f2f2c" stroke-width="0.7"/>
<line x1="296.7" y1="78.3" x2="302.6" y2="88.1" stroke="#1f2f2c" stroke-width="0.7"/>
<line x1="302.3" y1="70.2" x2="305.5" y2="75.4" stroke="#1f2f2c" stroke-width="0.7"/>
<line x1="320.8" y1="84.7" x2="325.0" y2="91.6" stroke="#1f2f2c" stroke-width="0.7"/>
<line x1="304.1" y1="77.5" x2="307.9" y2="83.9" stroke="#1f2f2c" stroke-width="0.7"/>
<line x1="322.5" y1="81.1" x2="326.2" y2="87.3" stroke="#1f2f2c" stroke-width="0.7"/>
<line x1="283.5" y1="76.4" x2="287.7" y2="83.3" stroke="#1f2f2c" stroke-width="0.7"/>
<line x1="314.8" y1="82.5" x2="319.6" y2="90.5" stroke="#1f2f2c" stroke-width="0.7"/>
<line x1="289.4" y1="68.6" x2="293.3" y2="75.2" stroke="#1f2f2c" stroke-width="0.7"/>
<line x1="293.4" y1="86.4" x2="298.0" y2="93.9" stroke="#1f2f2c" stroke-width="0.7"/>
<line x1="308.4" y1="89.5" x2="312.2" y2="95.8" stroke="#1f2f2c" stroke-width="0.7"/>
<ellipse cx="311.0" cy="124.8" rx="25.0" ry="19.9" fill="#e6e0cc" stroke="#2a2a2a" stroke-width="0.9"/>
<line x1="290.1" y1="125.9" x2="293.6" y2="131.8" stroke="#1f2f2c" stroke-width="0.7"/>
<line x1="297.2" y1="136.0" x2="300.6" y2="141.8" stroke="#1f2f2c" stroke-width="0.7"/>
<line x1="293.6" y1="119.4" x2="298.5" y2="127.5" stroke="#1f2f2c" stroke-width="0.7"/>
<line x1="312.3" y1="135.3" x2="317.4" y2="143.7" stroke="#1f2f2c" stroke-width="0.7"/>
<line x1="291.5" y1="131.1" x2="296.1" y2="138.8" stroke="#1f2f2c" stroke-width="0.7"/>
<line x1="311.3" y1="109.7" x2="314.8" y2="115.6" stroke="#1f2f2c" stroke-width="0.7"/>
<line x1="296.6" y1="129.2" x2="302.0" y2="138.1" stroke="#1f2f2c" stroke-width="0.7"/>
<line x1="308.2" y1="110.2" x2="312.4" y2="117.3" stroke="#1f2f2c" stroke-width="0.7"/>
<line x1="310.7" y1="136.9" x2="316.6" y2="146.7" stroke="#1f2f2c" stroke-width="0.7"/>
<line x1="302.4" y1="121.0" x2="307.1" y2="128.8" stroke="#1f2f2c" stroke-width="0.7"/>
<line x1="334.3" y1="128.7" x2="337.5" y2="134.0" stroke="#1f2f2c" stroke-width="0.7"/>
<line x1="291.1" y1="113.2" x2="296.1" y2="121.6" stroke="#1f2f2c" stroke-width="0.7"/>
<line x1="319.2" y1="131.1" x2="324.6" y2="140.0" stroke="#1f2f2c" stroke-width="0.7"/>
<line x1="293.3" y1="122.2" x2="298.9" y2="131.5" stroke="#1f2f2c" stroke-width="0.7"/>
<ellipse cx="341.0" cy="108.0" rx="21.2" ry="17.0" fill="#4f6f69" stroke="#2a2a2a" stroke-width="0.9"/>
<line x1="349.4" y1="100.6" x2="354.0" y2="108.4" stroke="#1f2f2c" stroke-width="0.7"/>
<line x1="339.3" y1="94.9" x2="345.3" y2="104.9" stroke="#1f2f2c" stroke-width="0.7"/>
<line x1="352.9" y1="99.8" x2="357.8" y2="107.9" stroke="#1f2f2c" stroke-width="0.7"/>
<line x1="332.7" y1="104.0" x2="337.3" y2="111.7" stroke="#1f2f2c" stroke-width="0.7"/>
<line x1="333.0" y1="103.1" x2="337.1" y2="110.0" stroke="#1f2f2c" stroke-width="0.7"/>
<line x1="347.6" y1="101.0" x2="351.2" y2="107.0" stroke="#1f2f2c" stroke-width="0.7"/>
<line x1="350.2" y1="102.9" x2="356.0" y2="112.6" stroke="#1f2f2c" stroke-width="0.7"/>
<line x1="343.5" y1="112.7" x2="347.5" y2="119.4" stroke="#1f2f2c" stroke-width="0.7"/>
<line x1="354.0" y1="96.9" x2="357.4" y2="102.6" stroke="#1f2f2c" stroke-width="0.7"/>
<line x1="324.9" y1="111.6" x2="330.0" y2="120.1" stroke="#1f2f2c" stroke-width="0.7"/>
<line x1="328.3" y1="104.7" x2="333.8" y2="113.9" stroke="#1f2f2c" stroke-width="0.7"/>
<line x1="344.7" y1="96.9" x2="348.4" y2="103.0" stroke="#1f2f2c" stroke-width="0.7"/>
<line x1="327.4" y1="97.7" x2="331.6" y2="104.8" stroke="#1f2f2c" stroke-width="0.7"/>
<line x1="324.0" y1="117.6" x2="328.3" y2="124.8" stroke="#1f2f2c" stroke-width="0.7"/>
<ellipse cx="363.0" cy="106.0" rx="21.2" ry="17.0" fill="#e6e0cc" stroke="#2a2a2a" stroke-width="0.9"/>
<line x1="348.6" y1="97.8" x2="352.1" y2="103.5" stroke="#1f2f2c" stroke-width="0.7"/>
<line x1="370.6" y1="104.7" x2="376.4" y2="114.3" stroke="#1f2f2c" stroke-width="0.7"/>
<line x1="367.9" y1="110.8" x2="372.7" y2="118.9" stroke="#1f2f2c" stroke-width="0.7"/>
<line x1="355.7" y1="112.3" x2="359.5" y2="118.6" stroke="#1f2f2c" stroke-width="0.7"/>
<line x1="382.3" y1="105.9" x2="386.1" y2="112.2" stroke="#1f2f2c" stroke-width="0.7"/>
<line x1="350.6" y1="100.3" x2="354.9" y2="107.5" stroke="#1f2f2c" stroke-width="0.7"/>
<line x1="365.3" y1="97.8" x2="369.3" y2="104.4" stroke="#1f2f2c" stroke-width="0.7"/>
<line x1="354.8" y1="95.2" x2="359.9" y2="103.8" stroke="#1f2f2c" stroke-width="0.7"/>
<line x1="353.2" y1="106.1" x2="357.1" y2="112.6" stroke="#1f2f2c" stroke-width="0.7"/>
<line x1="352.4" y1="107.9" x2="357.0" y2="115.5" stroke="#1f2f2c" stroke-width="0.7"/>
<line x1="365.9" y1="97.6" x2="371.8" y2="107.3" stroke="#1f2f2c" stroke-width="0.7"/>
<line x1="382.8" y1="110.3" x2="388.6" y2="120.0" stroke="#1f2f2c" stroke-width="0.7"/>
<line x1="365.7" y1="93.3" x2="370.7" y2="101.6" stroke="#1f2f2c" stroke-width="0.7"/>
<line x1="374.0" y1="96.0" x2="378.4" y2="103.4" stroke="#1f2f2c" stroke-width="0.7"/>
<ellipse cx="13.0" cy="179.7" rx="28.7" ry="22.9" fill="#557a72" stroke="#2a2a2a" stroke-width="0.9"/>
<line x1="23.6" y1="172.7" x2="29.4" y2="182.3" stroke="#1f2f2c" stroke-width="0.7"/>
<line x1="5.5" y1="177.2" x2="8.9" y2="182.8" stroke="#1f2f2c" stroke-width="0.7"/>
<line x1="38.5" y1="166.1" x2="44.2" y2="175.7" stroke="#1f2f2c" stroke-width="0.7"/>
<line x1="15.3" y1="180.5" x2="20.0" y2="188.3" stroke="#1f2f2c" stroke-width="0.7"/>
<line x1="0.3" y1="192.3" x2="6.3" y2="202.3" stroke="#1f2f2c" stroke-width="0.7"/>
<line x1="30.1" y1="181.9" x2="33.5" y2="187.5" stroke="#1f2f2c" stroke-width="0.7"/>
<line x1="30.5" y1="171.3" x2="36.2" y2="180.8" stroke="#1f2f2c" stroke-width="0.7"/>
<line x1="-0.9" y1="181.0" x2="4.5" y2="190.1" stroke="#1f2f2c" stroke-width="0.7"/>
<line x1="-3.9" y1="180.1" x2="-0.7" y2="185.5" stroke="#1f2f2c" stroke-width="0.7"/>
<line x1="-12.2" y1="167.7" x2="-6.2" y2="177.6" stroke="#1f2f2c" stroke-width="0.7"/>
<line x1="36.7" y1="183.8" x2="40.6" y2="190.4" stroke="#1f2f2c" stroke-width="0.7"/>
<line x1="22.2" y1="186.5" x2="26.4" y2="193.4" stroke="#1f2f2c" stroke-width="0.7"/>
<line x1="17.9" y1="188.7" x2="21.0" y2="193.8" stroke="#1f2f2c" stroke-width="0.7"/>
<line x1="-3.2" y1="177.4" x2="0.3" y2="183.1" stroke="#1f2f2c" stroke-width="0.7"/>
<ellipse cx="54.0" cy="175.6" rx="31.2" ry="24.9" fill="#557a72" stroke="#2a2a2a" stroke-width="0.9"/>
<line x1="31.7" y1="170.8" x2="35.7" y2="177.5" stroke="#1f2f2c" stroke-width="0.7"/>
<line x1="32.4" y1="164.8" x2="38.2" y2="174.5" stroke="#1f2f2c" stroke-width="0.7"/>
<line x1="27.9" y1="184.7" x2="33.0" y2="193.3" stroke="#1f2f2c" stroke-width="0.7"/>
<line x1="70.8" y1="170.7" x2="75.3" y2="178.2" stroke="#1f2f2c" stroke-width="0.7"/>
<line x1="30.7" y1="168.6" x2="36.4" y2="178.1" stroke="#1f2f2c" stroke-width="0.7"/>
<line x1="78.2" y1="176.6" x2="82.4" y2="183.7" stroke="#1f2f2c" stroke-width="0.7"/>
<line x1="41.2" y1="188.6" x2="45.6" y2="195.9" stroke="#1f2f2c" stroke-width="0.7"/>
<line x1="77.7" y1="181.2" x2="83.2" y2="190.4" stroke="#1f2f2c" stroke-width="0.7"/>
<line x1="31.6" y1="160.1" x2="37.4" y2="169.8" stroke="#1f2f2c" stroke-width="0.7"/>
<line x1="44.1" y1="175.0" x2="48.3" y2="182.1" stroke="#1f2f2c" stroke-width="0.7"/>
<line x1="26.2" y1="189.2" x2="30.1" y2="195.7" stroke="#1f2f2c" stroke-width="0.7"/>
<line x1="60.8" y1="171.8" x2="64.9" y2="178.7" stroke="#1f2f2c" stroke-width="0.7"/>
<line x1="43.6" y1="184.9" x2="49.2" y2="194.3" stroke="#1f2f2c" stroke-width="0.7"/>
<line x1="76.1" y1="164.9" x2="81.6" y2="174.1" stroke="#1f2f2c" stroke-width="0.7"/>
<ellipse cx="106.0" cy="147.7" rx="27.5" ry="21.9" fill="#6f958b" stroke="#2a2a2a" stroke-width="0.9"/>
<line x1="106.1" y1="143.2" x2="109.3" y2="148.5" stroke="#1f2f2c" stroke-width="0.7"/>
<line x1="116.0" y1="147.4" x2="119.8" y2="153.6" stroke="#1f2f2c" stroke-width="0.7"/>
<line x1="96.0" y1="143.2" x2="99.7" y2="149.4" stroke="#1f2f2c" stroke-width="0.7"/>
<line x1="83.8" y1="159.9" x2="89.7" y2="169.7" stroke="#1f2f2c" stroke-width="0.7"/>
<line x1="114.5" y1="158.4" x2="118.8" y2="165.5" stroke="#1f2f2c" stroke-width="0.7"/>
<line x1="121.7" y1="137.6" x2="127.0" y2="146.3" stroke="#1f2f2c" stroke-width="0.7"/>
<line x1="109.4" y1="159.6" x2="112.7" y2="165.1" stroke="#1f2f2c" stroke-width="0.7"/>
<line x1="121.1" y1="134.4" x2="125.7" y2="142.1" stroke="#1f2f2c" stroke-width="0.7"/>
<line x1="129.2" y1="130.4" x2="132.9" y2="136.6" stroke="#1f2f2c" stroke-width="0.7"/>
<line x1="95.7" y1="140.9" x2="98.9" y2="146.2" stroke="#1f2f2c" stroke-width="0.7"/>
<line x1="126.3" y1="156.8" x2="130.5" y2="163.8" stroke="#1f2f2c" stroke-width="0.7"/>
<line x1="98.6" y1="149.3" x2="101.8" y2="154.6" stroke="#1f2f2c" stroke-width="0.7"/>
<line x1="81.9" y1="159.5" x2="85.8" y2="166.0" stroke="#1f2f2c" stroke-width="0.7"/>
<line x1="105.9" y1="160.6" x2="111.9" y2="170.5" stroke="#1f2f2c" stroke-width="0.7"/>
<ellipse cx="155.0" cy="143.8" rx="25.0" ry="19.9" fill="#557a72" stroke="#2a2a2a" stroke-width="0.9"/>
<line x1="172.7" y1="134.1" x2="178.3" y2="143.4" stroke="#1f2f2c" stroke-width="0.7"/>
<line x1="164.0" y1="129.8" x2="168.0" y2="136.4" stroke="#1f2f2c" stroke-width="0.7"/>
<line x1="171.8" y1="154.5" x2="174.9" y2="159.6" stroke="#1f2f2c" stroke-width="0.7"/>
<line x1="161.3" y1="148.6" x2="166.0" y2="156.4" stroke="#1f2f2c" stroke-width="0.7"/>
<line x1="156.5" y1="135.0" x2="162.4" y2="144.8" stroke="#1f2f2c" stroke-width="0.7"/>
<line x1="177.3" y1="147.2" x2="181.2" y2="153.7" stroke="#1f2f2c" stroke-width="0.7"/>
<line x1="169.9" y1="156.4" x2="173.7" y2="162.7" stroke="#1f2f2c" stroke-width="0.7"/>
<line x1="151.3" y1="153.9" x2="155.3" y2="160.6" stroke="#1f2f2c" stroke-width="0.7"/>
<line x1="176.4" y1="151.0" x2="180.6" y2="158.1" stroke="#1f2f2c" stroke-width="0.7"/>
<line x1="139.5" y1="153.4" x2="142.9" y2="159.0" stroke="#1f2f2c" stroke-width="0.7"/>
<line x1="163.9" y1="136.0" x2="169.1" y2="144.6" stroke="#1f2f2c" stroke-width="0.7"/>
<line x1="155.1" y1="136.8" x2="158.9" y2="143.2" stroke="#1f2f2c" stroke-width="0.7"/>
<line x1="169.2" y1="143.5" x2="172.6" y2="149.1" stroke="#1f2f2c" stroke-width="0.7"/>
<line x1="155.7" y1="156.8" x2="161.4" y2="166.3" stroke="#1f2f2c" stroke-width="0.7"/>
<ellipse cx="191.0" cy="153.6" rx="31.2" ry="24.9" fill="#6f958b" stroke="#2a2a2a" stroke-width="0.9"/>
<line x1="200.8" y1="144.0" x2="205.7" y2="152.2" stroke="#1f2f2c" stroke-width="0.7"/>
<line x1="167.0" y1="170.0" x2="171.3" y2="177.2" stroke="#1f2f2c" stroke-width="0.7"/>
<line x1="192.7" y1="153.4" x2="195.8" y2="158.6" stroke="#1f2f2c" stroke-width="0.7"/>
<line x1="196.8" y1="144.3" x2="200.6" y2="150.6" stroke="#1f2f2c" stroke-width="0.7"/>
<line x1="208.7" y1="137.1" x2="212.6" y2="143.5" stroke="#1f2f2c" stroke-width="0.7"/>
<line x1="206.0" y1="142.9" x2="209.8" y2="149.3" stroke="#1f2f2c" stroke-width="0.7"/>
<line x1="193.8" y1="140.7" x2="199.5" y2="150.2" stroke="#1f2f2c" stroke-width="0.7"/>
<line x1="219.5" y1="135.1" x2="223.9" y2="142.4" stroke="#1f2f2c" stroke-width="0.7"/>
<line x1="205.7" y1="148.0" x2="211.4" y2="157.7" stroke="#1f2f2c" stroke-width="0.7"/>
<line x1="191.0" y1="140.5" x2="195.7" y2="148.3" stroke="#1f2f2c" stroke-width="0.7"/>
<line x1="199.5" y1="147.1" x2="204.5" y2="155.4" stroke="#1f2f2c" stroke-width="0.7"/>
<line x1="207.6" y1="152.9" x2="212.1" y2="160.4" stroke="#1f2f2c" stroke-width="0.7"/>
<line x1="211.2" y1="159.0" x2="215.8" y2="166.6" stroke="#1f2f2c" stroke-width="0.7"/>
<line x1="217.4" y1="140.3" x2="222.8" y2="149.2" stroke="#1f2f2c" stroke-width="0.7"/>
<ellipse cx="207.0" cy="182.8" rx="25.0" ry="19.9" fill="#6f958b" stroke="#2a2a2a" stroke-width="0.9"/>
<line x1="188.8" y1="179.9" x2="193.9" y2="188.2" stroke="#1f2f2c" stroke-width="0.7"/>
<line x1="209.2" y1="174.6" x2="214.4" y2="183.2" stroke="#1f2f2c" stroke-width="0.7"/>
<line x1="217.4" y1="174.7" x2="222.0" y2="182.5" stroke="#1f2f2c" stroke-width="0.7"/>
<line x1="223.5" y1="184.8" x2="227.3" y2="191.1" stroke="#1f2f2c" stroke-width="0.7"/>
<line x1="193.1" y1="195.6" x2="196.2" y2="200.9" stroke="#1f2f2c" stroke-width="0.7"/>
<line x1="204.6" y1="193.0" x2="208.6" y2="199.6" stroke="#1f2f2c" stroke-width="0.7"/>
<line x1="212.1" y1="185.0" x2="217.5" y2="194.0" stroke="#1f2f2c" stroke-width="0.7"/>
<line x1="207.2" y1="188.4" x2="212.7" y2="197.6" stroke="#1f2f2c" stroke-width="0.7"/>
<line x1="185.0" y1="170.5" x2="188.6" y2="176.4" stroke="#1f2f2c" stroke-width="0.7"/>
<line x1="213.5" y1="184.1" x2="218.7" y2="192.7" stroke="#1f2f2c" stroke-width="0.7"/>
<line x1="212.8" y1="168.7" x2="217.0" y2="175.8" stroke="#1f2f2c" stroke-width="0.7"/>
<line x1="216.2" y1="191.2" x2="221.4" y2="199.9" stroke="#1f2f2c" stroke-width="0.7"/>
<line x1="220.1" y1="189.6" x2="224.6" y2="197.1" stroke="#1f2f2c" stroke-width="0.7"/>
<line x1="214.0" y1="182.1" x2="218.2" y2="189.0" stroke="#1f2f2c" stroke-width="0.7"/>
<ellipse cx="237.0" cy="122.8" rx="25.0" ry="19.9" fill="#6f958b" stroke="#2a2a2a" stroke-width="0.9"/>
<line x1="221.1" y1="127.4" x2="226.6" y2="136.6" stroke="#1f2f2c" stroke-width="0.7"/>
<line x1="250.4" y1="108.9" x2="254.6" y2="116.0" stroke="#1f2f2c" stroke-width="0.7"/>
<line x1="230.7" y1="113.5" x2="236.6" y2="123.3" stroke="#1f2f2c" stroke-width="0.7"/>
<line x1="215.6" y1="121.5" x2="220.9" y2="130.3" stroke="#1f2f2c" stroke-width="0.7"/>
<line x1="259.8" y1="111.4" x2="264.1" y2="118.6" stroke="#1f2f2c" stroke-width="0.7"/>
<line x1="248.5" y1="108.3" x2="252.2" y2="114.5" stroke="#1f2f2c" stroke-width="0.7"/>
<line x1="255.3" y1="111.3" x2="259.4" y2="118.2" stroke="#1f2f2c" stroke-width="0.7"/>
<line x1="227.5" y1="119.6" x2="230.8" y2="125.0" stroke="#1f2f2c" stroke-width="0.7"/>
<line x1="215.2" y1="136.4" x2="220.5" y2="145.2" stroke="#1f2f2c" stroke-width="0.7"/>
<line x1="248.0" y1="113.9" x2="251.7" y2="120.1" stroke="#1f2f2c" stroke-width="0.7"/>
<line x1="239.4" y1="114.2" x2="243.8" y2="121.5" stroke="#1f2f2c" stroke-width="0.7"/>
<line x1="257.2" y1="117.8" x2="261.2" y2="124.5" stroke="#1f2f2c" stroke-width="0.7"/>
<line x1="259.5" y1="125.1" x2="262.6" y2="130.3" stroke="#1f2f2c" stroke-width="0.7"/>
<line x1="232.5" y1="126.2" x2="235.6" y2="131.5" stroke="#1f2f2c" stroke-width="0.7"/>
<ellipse cx="253.0" cy="153.7" rx="27.5" ry="21.9" fill="#cfc6a6" stroke="#2a2a2a" stroke-width="0.9"/>
<line x1="256.5" y1="165.9" x2="262.1" y2="175.3" stroke="#1f2f2c" stroke-width="0.7"/>
<line x1="274.8" y1="142.1" x2="280.4" y2="151.4" stroke="#1f2f2c" stroke-width="0.7"/>
<line x1="275.4" y1="143.3" x2="279.6" y2="150.2" stroke="#1f2f2c" stroke-width="0.7"/>
<line x1="229.8" y1="149.9" x2="233.5" y2="156.2" stroke="#1f2f2c" stroke-width="0.7"/>
<line x1="268.1" y1="162.4" x2="272.5" y2="169.8" stroke="#1f2f2c" stroke-width="0.7"/>
<line x1="247.9" y1="155.6" x2="253.1" y2="164.4" stroke="#1f2f2c" stroke-width="0.7"/>
<line x1="251.6" y1="152.3" x2="256.5" y2="160.4" stroke="#1f2f2c" stroke-width="0.7"/>
<line x1="236.6" y1="152.2" x2="241.2" y2="159.9" stroke="#1f2f2c" stroke-width="0.7"/>
<line x1="248.8" y1="137.9" x2="252.7" y2="144.3" stroke="#1f2f2c" stroke-width="0.7"/>
<line x1="276.1" y1="156.5" x2="280.7" y2="164.1" stroke="#1f2f2c" stroke-width="0.7"/>
<line x1="265.4" y1="153.0" x2="270.1" y2="160.8" stroke="#1f2f2c" stroke-width="0.7"/>
<line x1="260.7" y1="143.4" x2="264.0" y2="149.0" stroke="#1f2f2c" stroke-width="0.7"/>
<line x1="230.2" y1="160.0" x2="235.5" y2="168.8" stroke="#1f2f2c" stroke-width="0.7"/>
<line x1="234.3" y1="144.2" x2="239.8" y2="153.4" stroke="#1f2f2c" stroke-width="0.7"/>
<ellipse cx="292.0" cy="156.7" rx="27.5" ry="21.9" fill="#d9d2bc" stroke="#2a2a2a" stroke-width="0.9"/>
<line x1="267.3" y1="149.8" x2="271.5" y2="156.7" stroke="#1f2f2c" stroke-width="0.7"/>
<line x1="270.5" y1="167.9" x2="274.5" y2="174.6" stroke="#1f2f2c" stroke-width="0.7"/>
<line x1="305.9" y1="156.2" x2="309.1" y2="161.5" stroke="#1f2f2c" stroke-width="0.7"/>
<line x1="286.5" y1="147.1" x2="289.7" y2="152.3" stroke="#1f2f2c" stroke-width="0.7"/>
<line x1="274.0" y1="158.7" x2="277.1" y2="163.8" stroke="#1f2f2c" stroke-width="0.7"/>
<line x1="282.3" y1="153.1" x2="287.0" y2="160.8" stroke="#1f2f2c" stroke-width="0.7"/>
<line x1="273.3" y1="162.3" x2="277.0" y2="168.6" stroke="#1f2f2c" stroke-width="0.7"/>
<line x1="303.6" y1="161.0" x2="307.0" y2="166.7" stroke="#1f2f2c" stroke-width="0.7"/>
<line x1="276.8" y1="148.5" x2="281.9" y2="157.0" stroke="#1f2f2c" stroke-width="0.7"/>
<line x1="287.1" y1="151.9" x2="292.7" y2="161.2" stroke="#1f2f2c" stroke-width="0.7"/>
<line x1="277.9" y1="148.9" x2="281.9" y2="155.6" stroke="#1f2f2c" stroke-width="0.7"/>
<line x1="277.4" y1="140.7" x2="280.4" y2="145.8" stroke="#1f2f2c" stroke-width="0.7"/>
<line x1="298.7" y1="157.7" x2="304.1" y2="166.8" stroke="#1f2f2c" stroke-width="0.7"/>
<line x1="316.5" y1="149.1" x2="321.5" y2="157.4" stroke="#1f2f2c" stroke-width="0.7"/>
<ellipse cx="333.0" cy="183.6" rx="31.2" ry="24.9" fill="#6f958b" stroke="#2a2a2a" stroke-width="0.9"/>
<line x1="336.4" y1="176.9" x2="339.8" y2="182.5" stroke="#1f2f2c" stroke-width="0.7"/>
<line x1="349.1" y1="177.6" x2="354.4" y2="186.5" stroke="#1f2f2c" stroke-width="0.7"/>
<line x1="318.9" y1="193.3" x2="322.3" y2="198.9" stroke="#1f2f2c" stroke-width="0.7"/>
<line x1="332.6" y1="181.9" x2="338.4" y2="191.5" stroke="#1f2f2c" stroke-width="0.7"/>
<line x1="320.4" y1="189.7" x2="324.1" y2="195.8" stroke="#1f2f2c" stroke-width="0.7"/>
<line x1="357.9" y1="171.3" x2="363.2" y2="180.1" stroke="#1f2f2c" stroke-width="0.7"/>
<line x1="324.3" y1="190.1" x2="328.8" y2="197.7" stroke="#1f2f2c" stroke-width="0.7"/>
<line x1="347.2" y1="197.2" x2="352.6" y2="206.2" stroke="#1f2f2c" stroke-width="0.7"/>
<line x1="331.7" y1="173.3" x2="337.3" y2="182.6" stroke="#1f2f2c" stroke-width="0.7"/>
<line x1="321.8" y1="197.5" x2="327.5" y2="207.0" stroke="#1f2f2c" stroke-width="0.7"/>
<line x1="310.8" y1="197.3" x2="316.5" y2="206.9" stroke="#1f2f2c" stroke-width="0.7"/>
<line x1="319.7" y1="177.7" x2="325.2" y2="187.0" stroke="#1f2f2c" stroke-width="0.7"/>
<line x1="321.3" y1="190.3" x2="327.0" y2="199.7" stroke="#1f2f2c" stroke-width="0.7"/>
<line x1="308.0" y1="165.2" x2="311.9" y2="171.8" stroke="#1f2f2c" stroke-width="0.7"/>
<ellipse cx="365.0" cy="169.7" rx="27.5" ry="21.9" fill="#cfc6a6" stroke="#2a2a2a" stroke-width="0.9"/>
<line x1="368.4" y1="160.9" x2="373.4" y2="169.2" stroke="#1f2f2c" stroke-width="0.7"/>
<line x1="348.8" y1="167.6" x2="353.7" y2="175.7" stroke="#1f2f2c" stroke-width="0.7"/>
<line x1="388.4" y1="164.1" x2="393.1" y2="172.0" stroke="#1f2f2c" stroke-width="0.7"/>
<line x1="387.8" y1="177.4" x2="392.7" y2="185.5" stroke="#1f2f2c" stroke-width="0.7"/>
<line x1="371.2" y1="165.7" x2="375.5" y2="172.8" stroke="#1f2f2c" stroke-width="0.7"/>
<line x1="353.5" y1="179.2" x2="359.1" y2="188.6" stroke="#1f2f2c" stroke-width="0.7"/>
<line x1="358.9" y1="181.8" x2="362.0" y2="187.0" stroke="#1f2f2c" stroke-width="0.7"/>
<line x1="346.3" y1="168.8" x2="350.2" y2="175.4" stroke="#1f2f2c" stroke-width="0.7"/>
<line x1="357.8" y1="184.0" x2="361.3" y2="189.8" stroke="#1f2f2c" stroke-width="0.7"/>
<line x1="349.2" y1="159.8" x2="354.2" y2="168.2" stroke="#1f2f2c" stroke-width="0.7"/>
<line x1="351.3" y1="152.4" x2="356.0" y2="160.2" stroke="#1f2f2c" stroke-width="0.7"/>
<line x1="359.5" y1="160.2" x2="364.0" y2="167.6" stroke="#1f2f2c" stroke-width="0.7"/>
<line x1="372.7" y1="170.1" x2="377.6" y2="178.3" stroke="#1f2f2c" stroke-width="0.7"/>
<line x1="368.1" y1="179.3" x2="374.0" y2="189.1" stroke="#1f2f2c" stroke-width="0.7"/>
<ellipse cx="30.0" cy="258.4" rx="34.9" ry="27.9" fill="#cfc6a6" stroke="#2a2a2a" stroke-width="0.9"/>
<line x1="14.5" y1="240.6" x2="17.6" y2="245.7" stroke="#1f2f2c" stroke-width="0.7"/>
<line x1="50.0" y1="244.9" x2="54.2" y2="251.9" stroke="#1f2f2c" stroke-width="0.7"/>
<line x1="7.5" y1="244.3" x2="11.0" y2="250.1" stroke="#1f2f2c" stroke-width="0.7"/>
<line x1="19.1" y1="264.7" x2="24.5" y2="273.7" stroke="#1f2f2c" stroke-width="0.7"/>
<line x1="16.5" y1="253.4" x2="20.6" y2="260.2" stroke="#1f2f2c" stroke-width="0.7"/>
<line x1="41.0" y1="256.9" x2="45.9" y2="265.1" stroke="#1f2f2c" stroke-width="0.7"/>
<line x1="21.0" y1="265.4" x2="26.7" y2="275.0" stroke="#1f2f2c" stroke-width="0.7"/>
<line x1="45.6" y1="272.5" x2="51.5" y2="282.4" stroke="#1f2f2c" stroke-width="0.7"/>
<line x1="50.8" y1="272.8" x2="54.8" y2="279.3" stroke="#1f2f2c" stroke-width="0.7"/>
<line x1="52.9" y1="257.4" x2="57.9" y2="265.8" stroke="#1f2f2c" stroke-width="0.7"/>
<line x1="-0.1" y1="261.9" x2="4.1" y2="269.0" stroke="#1f2f2c" stroke-width="0.7"/>
<line x1="28.8" y1="250.5" x2="33.0" y2="257.5" stroke="#1f2f2c" stroke-width="0.7"/>
<line x1="45.7" y1="264.9" x2="49.4" y2="271.2" stroke="#1f2f2c" stroke-width="0.7"/>
<line x1="38.8" y1="251.5" x2="43.9" y2="259.9" stroke="#1f2f2c" stroke-width="0.7"/>
<ellipse cx="98.0" cy="236.2" rx="39.9" ry="31.9" fill="#6f958b" stroke="#2a2a2a" stroke-width="0.9"/>
<line x1="85.6" y1="246.7" x2="91.1" y2="255.9" stroke="#1f2f2c" stroke-width="0.7"/>
<line x1="122.6" y1="237.7" x2="126.9" y2="244.8" stroke="#1f2f2c" stroke-width="0.7"/>
<line x1="113.5" y1="240.3" x2="119.0" y2="249.4" stroke="#1f2f2c" stroke-width="0.7"/>
<line x1="120.6" y1="216.9" x2="124.7" y2="223.7" stroke="#1f2f2c" stroke-width="0.7"/>
<line x1="110.7" y1="221.8" x2="114.2" y2="227.8" stroke="#1f2f2c" stroke-width="0.7"/>
<line x1="61.6" y1="238.5" x2="67.4" y2="248.2" stroke="#1f2f2c" stroke-width="0.7"/>
<line x1="133.2" y1="217.3" x2="138.3" y2="225.7" stroke="#1f2f2c" stroke-width="0.7"/>
<line x1="92.0" y1="240.7" x2="96.1" y2="247.6" stroke="#1f2f2c" stroke-width="0.7"/>
<line x1="130.5" y1="257.5" x2="133.6" y2="262.7" stroke="#1f2f2c" stroke-width="0.7"/>
<line x1="114.0" y1="216.5" x2="117.1" y2="221.7" stroke="#1f2f2c" stroke-width="0.7"/>
<line x1="82.0" y1="245.4" x2="88.0" y2="255.3" stroke="#1f2f2c" stroke-width="0.7"/>
<line x1="69.6" y1="226.5" x2="72.6" y2="231.6" stroke="#1f2f2c" stroke-width="0.7"/>
<line x1="101.2" y1="233.7" x2="105.3" y2="240.5" stroke="#1f2f2c" stroke-width="0.7"/>
<line x1="83.7" y1="248.6" x2="89.2" y2="257.8" stroke="#1f2f2c" stroke-width="0.7"/>
<ellipse cx="153.0" cy="208.4" rx="34.9" ry="27.9" fill="#cfc6a6" stroke="#2a2a2a" stroke-width="0.9"/>
<line x1="134.9" y1="216.1" x2="139.1" y2="223.1" stroke="#1f2f2c" stroke-width="0.7"/>
<line x1="129.5" y1="210.1" x2="134.6" y2="218.4" stroke="#1f2f2c" stroke-width="0.7"/>
<line x1="134.4" y1="198.0" x2="140.0" y2="207.3" stroke="#1f2f2c" stroke-width="0.7"/>
<line x1="149.2" y1="220.7" x2="153.9" y2="228.4" stroke="#1f2f2c" stroke-width="0.7"/>
<line x1="179.0" y1="222.6" x2="183.3" y2="229.7" stroke="#1f2f2c" stroke-width="0.7"/>
<line x1="130.2" y1="222.7" x2="134.0" y2="229.1" stroke="#1f2f2c" stroke-width="0.7"/>
<line x1="157.5" y1="197.6" x2="161.7" y2="204.6" stroke="#1f2f2c" stroke-width="0.7"/>
<line x1="141.3" y1="189.7" x2="145.0" y2="195.7" stroke="#1f2f2c" stroke-width="0.7"/>
<line x1="156.4" y1="209.3" x2="159.8" y2="215.1" stroke="#1f2f2c" stroke-width="0.7"/>
<line x1="120.7" y1="217.6" x2="125.7" y2="226.0" stroke="#1f2f2c" stroke-width="0.7"/>
<line x1="120.5" y1="200.2" x2="123.9" y2="205.9" stroke="#1f2f2c" stroke-width="0.7"/>
<line x1="171.9" y1="227.2" x2="176.2" y2="234.2" stroke="#1f2f2c" stroke-width="0.7"/>
<line x1="122.3" y1="200.8" x2="127.0" y2="208.6" stroke="#1f2f2c" stroke-width="0.7"/>
<line x1="156.8" y1="195.2" x2="161.6" y2="203.3" stroke="#1f2f2c" stroke-width="0.7"/>
<ellipse cx="183.0" cy="247.4" rx="34.9" ry="27.9" fill="#e6e0cc" stroke="#2a2a2a" stroke-width="0.9"/>
<line x1="166.8" y1="233.1" x2="170.7" y2="239.6" stroke="#1f2f2c" stroke-width="0.7"/>
<line x1="166.6" y1="258.5" x2="171.3" y2="266.3" stroke="#1f2f2c" stroke-width="0.7"/>
<line x1="211.9" y1="227.3" x2="217.5" y2="236.6" stroke="#1f2f2c" stroke-width="0.7"/>
<line x1="212.1" y1="247.5" x2="217.2" y2="255.9" stroke="#1f2f2c" stroke-width="0.7"/>
<line x1="168.0" y1="226.3" x2="172.7" y2="234.1" stroke="#1f2f2c" stroke-width="0.7"/>
<line x1="154.4" y1="244.5" x2="160.0" y2="253.9" stroke="#1f2f2c" stroke-width="0.7"/>
<line x1="154.4" y1="240.3" x2="159.7" y2="249.2" stroke="#1f2f2c" stroke-width="0.7"/>
<line x1="167.6" y1="235.4" x2="173.4" y2="245.0" stroke="#1f2f2c" stroke-width="0.7"/>
<line x1="182.7" y1="238.0" x2="187.3" y2="245.7" stroke="#1f2f2c" stroke-width="0.7"/>
<line x1="193.9" y1="258.4" x2="199.2" y2="267.2" stroke="#1f2f2c" stroke-width="0.7"/>
<line x1="211.6" y1="245.2" x2="217.1" y2="254.4" stroke="#1f2f2c" stroke-width="0.7"/>
<line x1="177.0" y1="262.3" x2="181.9" y2="270.5" stroke="#1f2f2c" stroke-width="0.7"/>
<line x1="150.9" y1="231.1" x2="154.8" y2="237.8" stroke="#1f2f2c" stroke-width="0.7"/>
<line x1="197.7" y1="246.2" x2="201.5" y2="252.6" stroke="#1f2f2c" stroke-width="0.7"/>
<ellipse cx="270.0" cy="233.2" rx="39.9" ry="31.9" fill="#cfc6a6" stroke="#2a2a2a" stroke-width="0.9"/>
<line x1="279.5" y1="229.1" x2="283.4" y2="235.7" stroke="#1f2f2c" stroke-width="0.7"/>
<line x1="237.6" y1="238.7" x2="242.3" y2="246.7" stroke="#1f2f2c" stroke-width="0.7"/>
<line x1="252.4" y1="218.0" x2="255.9" y2="223.9" stroke="#1f2f2c" stroke-width="0.7"/>
<line x1="236.1" y1="214.1" x2="240.0" y2="220.6" stroke="#1f2f2c" stroke-width="0.7"/>
<line x1="248.0" y1="224.3" x2="251.5" y2="230.1" stroke="#1f2f2c" stroke-width="0.7"/>
<line x1="260.5" y1="216.5" x2="263.5" y2="221.6" stroke="#1f2f2c" stroke-width="0.7"/>
<line x1="262.5" y1="210.4" x2="265.8" y2="215.9" stroke="#1f2f2c" stroke-width="0.7"/>
<line x1="303.7" y1="247.5" x2="309.0" y2="256.3" stroke="#1f2f2c" stroke-width="0.7"/>
<line x1="234.1" y1="216.2" x2="237.3" y2="221.5" stroke="#1f2f2c" stroke-width="0.7"/>
<line x1="276.7" y1="235.2" x2="280.6" y2="241.8" stroke="#1f2f2c" stroke-width="0.7"/>
<line x1="268.0" y1="252.1" x2="272.5" y2="259.6" stroke="#1f2f2c" stroke-width="0.7"/>
<line x1="291.0" y1="249.7" x2="296.4" y2="258.8" stroke="#1f2f2c" stroke-width="0.7"/>
<line x1="237.8" y1="226.3" x2="243.6" y2="235.9" stroke="#1f2f2c" stroke-width="0.7"/>
<line x1="298.6" y1="244.5" x2="303.1" y2="252.2" stroke="#1f2f2c" stroke-width="0.7"/>
<ellipse cx="349.0" cy="257.2" rx="39.9" ry="31.9" fill="#d9d2bc" stroke="#2a2a2a" stroke-width="0.9"/>
<line x1="322.7" y1="261.8" x2="326.8" y2="268.7" stroke="#1f2f2c" stroke-width="0.7"/>
<line x1="359.8" y1="241.9" x2="364.6" y2="250.0" stroke="#1f2f2c" stroke-width="0.7"/>
<line x1="378.0" y1="272.2" x2="382.9" y2="280.4" stroke="#1f2f2c" stroke-width="0.7"/>
<line x1="349.4" y1="258.7" x2="352.7" y2="264.2" stroke="#1f2f2c" stroke-width="0.7"/>
<line x1="374.3" y1="264.4" x2="378.6" y2="271.7" stroke="#1f2f2c" stroke-width="0.7"/>
<line x1="361.4" y1="251.7" x2="365.5" y2="258.6" stroke="#1f2f2c" stroke-width="0.7"/>
<line x1="328.8" y1="260.2" x2="333.5" y2="268.1" stroke="#1f2f2c" stroke-width="0.7"/>
<line x1="350.1" y1="233.5" x2="355.0" y2="241.6" stroke="#1f2f2c" stroke-width="0.7"/>
<line x1="345.0" y1="259.9" x2="349.8" y2="267.8" stroke="#1f2f2c" stroke-width="0.7"/>
<line x1="381.3" y1="239.1" x2="385.7" y2="246.5" stroke="#1f2f2c" stroke-width="0.7"/>
<line x1="385.9" y1="266.7" x2="389.8" y2="273.2" stroke="#1f2f2c" stroke-width="0.7"/>
<line x1="366.7" y1="278.5" x2="370.9" y2="285.5" stroke="#1f2f2c" stroke-width="0.7"/>
<line x1="376.5" y1="237.9" x2="382.5" y2="247.9" stroke="#1f2f2c" stroke-width="0.7"/>
<line x1="348.3" y1="243.0" x2="353.9" y2="252.2" stroke="#1f2f2c" stroke-width="0.7"/>
<ellipse cx="82.0" cy="321.0" rx="43.7" ry="34.9" fill="#4f6f69" stroke="#2a2a2a" stroke-width="0.9"/>
<line x1="105.7" y1="300.7" x2="109.1" y2="306.3" stroke="#1f2f2c" stroke-width="0.7"/>
<line x1="49.6" y1="306.4" x2="53.4" y2="312.7" stroke="#1f2f2c" stroke-width="0.7"/>
<line x1="56.2" y1="295.4" x2="60.2" y2="302.1" stroke="#1f2f2c" stroke-width="0.7"/>
<line x1="83.4" y1="311.4" x2="87.1" y2="317.4" stroke="#1f2f2c" stroke-width="0.7"/>
<line x1="42.2" y1="315.4" x2="46.7" y2="322.8" stroke="#1f2f2c" stroke-width="0.7"/>
<line x1="119.8" y1="305.7" x2="123.1" y2="311.2" stroke="#1f2f2c" stroke-width="0.7"/>
<line x1="77.1" y1="332.4" x2="82.8" y2="341.8" stroke="#1f2f2c" stroke-width="0.7"/>
<line x1="47.0" y1="319.0" x2="50.1" y2="324.3" stroke="#1f2f2c" stroke-width="0.7"/>
<line x1="112.3" y1="343.5" x2="115.5" y2="348.8" stroke="#1f2f2c" stroke-width="0.7"/>
<line x1="118.2" y1="335.2" x2="121.7" y2="341.1" stroke="#1f2f2c" stroke-width="0.7"/>
<line x1="68.4" y1="341.2" x2="74.2" y2="351.0" stroke="#1f2f2c" stroke-width="0.7"/>
<line x1="59.0" y1="308.3" x2="63.3" y2="315.3" stroke="#1f2f2c" stroke-width="0.7"/>
<line x1="91.4" y1="295.0" x2="96.4" y2="303.4" stroke="#1f2f2c" stroke-width="0.7"/>
<line x1="79.2" y1="318.6" x2="82.5" y2="324.0" stroke="#1f2f2c" stroke-width="0.7"/>
<ellipse cx="144.0" cy="315.0" rx="43.7" ry="34.9" fill="#4f6f69" stroke="#2a2a2a" stroke-width="0.9"/>
<line x1="120.0" y1="319.8" x2="125.6" y2="329.2" stroke="#1f2f2c" stroke-width="0.7"/>
<line x1="162.6" y1="297.6" x2="167.7" y2="305.9" stroke="#1f2f2c" stroke-width="0.7"/>
<line x1="138.3" y1="288.2" x2="142.3" y2="294.9" stroke="#1f2f2c" stroke-width="0.7"/>
<line x1="128.9" y1="319.8" x2="132.7" y2="326.2" stroke="#1f2f2c" stroke-width="0.7"/>
<line x1="152.4" y1="323.2" x2="156.0" y2="329.1" stroke="#1f2f2c" stroke-width="0.7"/>
<line x1="113.5" y1="323.1" x2="117.9" y2="330.5" stroke="#1f2f2c" stroke-width="0.7"/>
<line x1="113.6" y1="293.4" x2="119.4" y2="303.1" stroke="#1f2f2c" stroke-width="0.7"/>
<line x1="153.0" y1="305.8" x2="156.6" y2="311.8" stroke="#1f2f2c" stroke-width="0.7"/>
<line x1="184.5" y1="323.0" x2="189.7" y2="331.7" stroke="#1f2f2c" stroke-width="0.7"/>
<line x1="132.6" y1="303.4" x2="136.8" y2="310.4" stroke="#1f2f2c" stroke-width="0.7"/>
<line x1="115.0" y1="319.9" x2="119.3" y2="327.0" stroke="#1f2f2c" stroke-width="0.7"/>
<line x1="170.2" y1="308.5" x2="174.6" y2="315.8" stroke="#1f2f2c" stroke-width="0.7"/>
<line x1="144.5" y1="335.9" x2="148.6" y2="342.6" stroke="#1f2f2c" stroke-width="0.7"/>
<line x1="160.7" y1="299.5" x2="165.4" y2="307.4" stroke="#1f2f2c" stroke-width="0.7"/>
<ellipse cx="213.0" cy="321.0" rx="43.7" ry="34.9" fill="#cfc6a6" stroke="#2a2a2a" stroke-width="0.9"/>
<line x1="182.1" y1="338.5" x2="188.0" y2="348.3" stroke="#1f2f2c" stroke-width="0.7"/>
<line x1="178.5" y1="326.8" x2="182.1" y2="332.9" stroke="#1f2f2c" stroke-width="0.7"/>
<line x1="211.2" y1="303.6" x2="215.4" y2="310.7" stroke="#1f2f2c" stroke-width="0.7"/>
<line x1="190.1" y1="326.3" x2="194.2" y2="333.2" stroke="#1f2f2c" stroke-width="0.7"/>
<line x1="199.3" y1="323.5" x2="204.3" y2="331.8" stroke="#1f2f2c" stroke-width="0.7"/>
<line x1="194.0" y1="327.5" x2="197.0" y2="332.5" stroke="#1f2f2c" stroke-width="0.7"/>
<line x1="222.1" y1="294.2" x2="226.2" y2="301.1" stroke="#1f2f2c" stroke-width="0.7"/>
<line x1="220.6" y1="338.0" x2="224.8" y2="344.9" stroke="#1f2f2c" stroke-width="0.7"/>
<line x1="194.8" y1="298.7" x2="200.5" y2="308.1" stroke="#1f2f2c" stroke-width="0.7"/>
<line x1="235.0" y1="298.8" x2="240.0" y2="307.1" stroke="#1f2f2c" stroke-width="0.7"/>
<line x1="209.2" y1="304.2" x2="214.5" y2="313.1" stroke="#1f2f2c" stroke-width="0.7"/>
<line x1="173.4" y1="295.0" x2="178.1" y2="302.9" stroke="#1f2f2c" stroke-width="0.7"/>
<line x1="229.2" y1="344.4" x2="234.6" y2="353.4" stroke="#1f2f2c" stroke-width="0.7"/>
<line x1="243.6" y1="327.8" x2="247.0" y2="333.6" stroke="#1f2f2c" stroke-width="0.7"/>
<ellipse cx="316.0" cy="324.7" rx="49.9" ry="39.9" fill="#d9d2bc" stroke="#2a2a2a" stroke-width="0.9"/>
<line x1="303.1" y1="320.5" x2="307.0" y2="327.1" stroke="#1f2f2c" stroke-width="0.7"/>
<line x1="332.0" y1="328.8" x2="337.9" y2="338.7" stroke="#1f2f2c" stroke-width="0.7"/>
<line x1="360.6" y1="351.6" x2="364.8" y2="358.5" stroke="#1f2f2c" stroke-width="0.7"/>
<line x1="346.8" y1="331.4" x2="351.9" y2="339.9" stroke="#1f2f2c" stroke-width="0.7"/>
<line x1="362.6" y1="297.1" x2="367.0" y2="304.4" stroke="#1f2f2c" stroke-width="0.7"/>
<line x1="306.8" y1="331.8" x2="310.4" y2="337.9" stroke="#1f2f2c" stroke-width="0.7"/>
<line x1="361.8" y1="305.5" x2="366.0" y2="312.4" stroke="#1f2f2c" stroke-width="0.7"/>
<line x1="282.6" y1="316.4" x2="287.8" y2="325.1" stroke="#1f2f2c" stroke-width="0.7"/>
<line x1="277.0" y1="303.0" x2="282.0" y2="311.3" stroke="#1f2f2c" stroke-width="0.7"/>
<line x1="327.5" y1="336.8" x2="331.3" y2="343.1" stroke="#1f2f2c" stroke-width="0.7"/>
<line x1="345.1" y1="336.2" x2="350.5" y2="345.1" stroke="#1f2f2c" stroke-width="0.7"/>
<line x1="280.4" y1="320.8" x2="283.5" y2="325.8" stroke="#1f2f2c" stroke-width="0.7"/>
<line x1="349.7" y1="348.7" x2="355.4" y2="358.2" stroke="#1f2f2c" stroke-width="0.7"/>
<line x1="271.5" y1="313.8" x2="276.1" y2="321.5" stroke="#1f2f2c" stroke-width="0.7"/>
<ellipse cx="35.0" cy="32.0" rx="10.9" ry="14.7" fill="#c98a5e" stroke="#1e1e1e" stroke-width="1.2"/>
<path d="M23.5 30.5 Q24.1 12.9 35.0 15.8 Q47.0 13.6 46.5 31.3 Q39.4 21.0 23.5 30.5 Z" fill="#a89a80" stroke="#222" stroke-width="0.9"/>
<path d="M28.4 32.0 h3.3 M37.7 32.0 h3.3 M31.9 39.4 h6.1 M35.0 32.7 l-1.3 4.4 h2.2" fill="none" stroke="#151515" stroke-width="0.90"/>
<path d="M29.0 37.9 Q32.8 46.0 38.3 44.5" fill="none" stroke="#000" stroke-width="0.4" opacity="0.3"/>
<ellipse cx="65.0" cy="43.0" rx="11.7" ry="15.8" fill="#e8dcb0" stroke="#1e1e1e" stroke-width="1.2"/>
<path d="M52.7 41.4 Q53.3 22.5 65.0 25.7 Q77.9 23.3 77.3 42.2 Q69.7 31.2 52.7 41.4 Z" fill="#a89a80" stroke="#222" stroke-width="0.9"/>
<path d="M58.0 43.0 h3.5 M67.9 43.0 h3.5 M61.7 50.9 h6.6 M65.0 43.8 l-1.4 4.7 h2.3" fill="none" stroke="#151515" stroke-width="0.94"/>
<path d="M58.6 49.3 Q62.7 58.0 68.5 56.4" fill="none" stroke="#000" stroke-width="0.4" opacity="0.3"/>
<ellipse cx="103.0" cy="45.0" rx="12.5" ry="16.8" fill="#b8956a" stroke="#1e1e1e" stroke-width="1.2"/>
<path d="M89.9 43.3 Q90.5 23.2 103.0 26.5 Q116.7 24.0 116.1 44.2 Q108.0 32.4 89.9 43.3 Z" fill="#e0cc88" stroke="#222" stroke-width="0.9"/>
<path d="M95.5 45.0 h3.7 M106.1 45.0 h3.7 M99.5 53.4 h7.0 M103.0 45.8 l-1.5 5.0 h2.5" fill="none" stroke="#151515" stroke-width="1.00"/>
<path d="M96.1 51.7 Q100.5 61.0 106.7 59.3" fill="none" stroke="#000" stroke-width="0.4" opacity="0.3"/>
<ellipse cx="142.0" cy="37.0" rx="11.7" ry="15.8" fill="#e0a090" stroke="#1e1e1e" stroke-width="1.2"/>
<path d="M129.7 35.4 Q130.3 16.5 142.0 19.7 Q154.9 17.3 154.3 36.2 Q146.7 25.2 129.7 35.4 Z" fill="#a89a80" stroke="#222" stroke-width="0.9"/>
<path d="M135.0 37.0 h3.5 M144.9 37.0 h3.5 M138.7 44.9 h6.6 M142.0 37.8 l-1.4 4.7 h2.3" fill="none" stroke="#151515" stroke-width="0.94"/>
<path d="M135.6 43.3 Q139.7 52.0 145.5 50.4" fill="none" stroke="#000" stroke-width="0.4" opacity="0.3"/>
<ellipse cx="169.0" cy="40.0" rx="9.4" ry="12.6" fill="#c8c0b0" stroke="#1e1e1e" stroke-width="1.2"/>
<path d="M159.2 38.7 Q159.6 23.6 169.0 26.1 Q179.3 24.2 178.8 39.4 Q172.7 30.5 159.2 38.7 Z" fill="#a89a80" stroke="#222" stroke-width="0.9"/>
<path d="M163.4 40.0 h2.8 M171.3 40.0 h2.8 M166.4 46.3 h5.2 M169.0 40.6 l-1.1 3.8 h1.9" fill="none" stroke="#151515" stroke-width="0.90"/>
<path d="M163.9 45.0 Q167.1 52.0 171.8 50.7" fill="none" stroke="#000" stroke-width="0.4" opacity="0.3"/>
<ellipse cx="191.0" cy="32.0" rx="12.5" ry="16.8" fill="#f0e0a0" stroke="#1e1e1e" stroke-width="1.2"/>
<path d="M177.9 30.3 Q178.5 10.2 191.0 13.5 Q204.7 11.0 204.1 31.2 Q196.0 19.4 177.9 30.3 Z" fill="#e8e2d2" stroke="#222" stroke-width="0.9"/>
<path d="M183.5 32.0 h3.7 M194.1 32.0 h3.7 M187.5 40.4 h7.0 M191.0 32.8 l-1.5 5.0 h2.5" fill="none" stroke="#151515" stroke-width="1.00"/>
<path d="M184.1 38.7 Q188.5 48.0 194.7 46.3" fill="none" stroke="#000" stroke-width="0.4" opacity="0.3"/>
<ellipse cx="229.0" cy="32.0" rx="10.9" ry="14.7" fill="#c8a070" stroke="#1e1e1e" stroke-width="1.2"/>
<path d="M217.5 30.5 Q218.1 12.9 229.0 15.8 Q241.0 13.6 240.5 31.3 Q233.4 21.0 217.5 30.5 Z" fill="#d8cfb4" stroke="#222" stroke-width="0.9"/>
<path d="M222.4 32.0 h3.3 M231.7 32.0 h3.3 M225.9 39.4 h6.1 M229.0 32.7 l-1.3 4.4 h2.2" fill="none" stroke="#151515" stroke-width="0.90"/>
<path d="M223.0 37.9 Q226.8 46.0 232.3 44.5" fill="none" stroke="#000" stroke-width="0.4" opacity="0.3"/>
<ellipse cx="264.0" cy="26.0" rx="14.0" ry="18.9" fill="#d89870" stroke="#1e1e1e" stroke-width="1.2"/>
<path d="M249.3 24.1 Q250.0 1.4 264.0 5.2 Q279.4 2.4 278.7 25.1 Q269.6 11.8 249.3 24.1 Z" fill="#a89a80" stroke="#222" stroke-width="0.9"/>
<path d="M255.6 26.0 h4.2 M267.5 26.0 h4.2 M260.1 35.5 h7.9 M264.0 26.9 l-1.7 5.7 h2.8" fill="none" stroke="#151515" stroke-width="1.12"/>
<path d="M256.3 33.6 Q261.2 44.0 268.2 42.1" fill="none" stroke="#000" stroke-width="0.4" opacity="0.3"/>
<ellipse cx="292.0" cy="26.0" rx="7.8" ry="10.5" fill="#e8e0d0" stroke="#1e1e1e" stroke-width="1.2"/>
<path d="M283.8 24.9 Q284.2 12.3 292.0 14.4 Q300.6 12.9 300.2 25.5 Q295.1 18.1 283.8 24.9 Z" fill="#e0cc88" stroke="#222" stroke-width="0.9"/>
<path d="M287.3 26.0 h2.3 M293.9 26.0 h2.3 M289.8 31.2 h4.4 M292.0 26.5 l-0.9 3.1 h1.6" fill="none" stroke="#151515" stroke-width="0.90"/>
<path d="M287.7 30.2 Q290.4 36.0 294.3 34.9" fill="none" stroke="#000" stroke-width="0.4" opacity="0.3"/>
<ellipse cx="319.0" cy="21.0" rx="9.4" ry="12.6" fill="#e0d8c8" stroke="#1e1e1e" stroke-width="1.2"/>
<path d="M309.2 19.7 Q309.6 4.6 319.0 7.1 Q329.3 5.2 328.8 20.4 Q322.7 11.5 309.2 19.7 Z" fill="#e0cc88" stroke="#222" stroke-width="0.9"/>
<path d="M313.4 21.0 h2.8 M321.3 21.0 h2.8 M316.4 27.3 h5.2 M319.0 21.6 l-1.1 3.8 h1.9" fill="none" stroke="#151515" stroke-width="0.90"/>
<path d="M313.9 26.0 Q317.1 33.0 321.8 31.7" fill="none" stroke="#000" stroke-width="0.4" opacity="0.3"/>
<ellipse cx="349.0" cy="32.0" rx="10.9" ry="14.7" fill="#d8d0c0" stroke="#1e1e1e" stroke-width="1.2"/>
<path d="M337.5 30.5 Q338.1 12.9 349.0 15.8 Q361.0 13.6 360.5 31.3 Q353.4 21.0 337.5 30.5 Z" fill="#b8b0a0" stroke="#222" stroke-width="0.9"/>
<path d="M342.4 32.0 h3.3 M351.7 32.0 h3.3 M345.9 39.4 h6.1 M349.0 32.7 l-1.3 4.4 h2.2" fill="none" stroke="#151515" stroke-width="0.90"/>
<path d="M343.0 37.9 Q346.8 46.0 352.3 44.5" fill="none" stroke="#000" stroke-width="0.4" opacity="0.3"/>
<ellipse cx="35.0" cy="70.0" rx="15.6" ry="21.0" fill="#f0d0d0" stroke="#1e1e1e" stroke-width="1.2"/>
<path d="M18.6 67.9 Q19.4 42.7 35.0 46.9 Q52.2 43.8 51.4 69.0 Q41.2 54.2 18.6 67.9 Z" fill="#e8e2d2" stroke="#222" stroke-width="0.9"/>
<path d="M25.6 70.0 h4.7 M38.9 70.0 h4.7 M30.6 80.5 h8.7 M35.0 71.0 l-1.9 6.3 h3.1" fill="none" stroke="#151515" stroke-width="1.25"/>
<path d="M26.4 78.4 Q31.9 90.0 39.7 87.8" fill="none" stroke="#000" stroke-width="0.4" opacity="0.3"/>
<ellipse cx="79.0" cy="78.0" rx="13.3" ry="17.9" fill="#d88070" stroke="#1e1e1e" stroke-width="1.2"/>
<path d="M65.1 76.2 Q65.7 54.8 79.0 58.4 Q93.6 55.7 92.9 77.1 Q84.3 64.6 65.1 76.2 Z" fill="#e8e2d2" stroke="#222" stroke-width="0.9"/>
<path d="M71.0 78.0 h4.0 M82.3 78.0 h4.0 M75.3 86.9 h7.4 M79.0 78.9 l-1.6 5.4 h2.7" fill="none" stroke="#151515" stroke-width="1.06"/>
<path d="M71.7 85.1 Q76.3 95.0 83.0 93.2" fill="none" stroke="#000" stroke-width="0.4" opacity="0.3"/>
<ellipse cx="109.0" cy="73.0" rx="11.7" ry="15.8" fill="#c8a880" stroke="#1e1e1e" stroke-width="1.2"/>
<path d="M96.7 71.4 Q97.3 52.5 109.0 55.7 Q121.9 53.3 121.3 72.2 Q113.7 61.2 96.7 71.4 Z" fill="#f4f0e6" stroke="#222" stroke-width="0.9"/>
<path d="M102.0 73.0 h3.5 M111.9 73.0 h3.5 M105.7 80.9 h6.6 M109.0 73.8 l-1.4 4.7 h2.3" fill="none" stroke="#151515" stroke-width="0.94"/>
<path d="M102.6 79.3 Q106.7 88.0 112.5 86.4" fill="none" stroke="#000" stroke-width="0.4" opacity="0.3"/>
<ellipse cx="131.0" cy="67.0" rx="11.7" ry="15.8" fill="#f0e0c0" stroke="#1e1e1e" stroke-width="1.2"/>
<path d="M118.7 65.4 Q119.3 46.5 131.0 49.7 Q143.9 47.3 143.3 66.2 Q135.7 55.2 118.7 65.4 Z" fill="#6a5e4e" stroke="#222" stroke-width="0.9"/>
<path d="M124.0 67.0 h3.5 M133.9 67.0 h3.5 M127.7 74.9 h6.6 M131.0 67.8 l-1.4 4.7 h2.3" fill="none" stroke="#151515" stroke-width="0.94"/>
<path d="M124.6 73.3 Q128.7 82.0 134.5 80.4" fill="none" stroke="#000" stroke-width="0.4" opacity="0.3"/>
<ellipse cx="161.0" cy="67.0" rx="14.0" ry="18.9" fill="#d8c8a0" stroke="#1e1e1e" stroke-width="1.2"/>
<path d="M146.3 65.1 Q147.0 42.4 161.0 46.2 Q176.4 43.4 175.7 66.1 Q166.6 52.8 146.3 65.1 Z" fill="#efeadc" stroke="#222" stroke-width="0.9"/>
<path d="M152.6 67.0 h4.2 M164.5 67.0 h4.2 M157.1 76.5 h7.9 M161.0 67.9 l-1.7 5.7 h2.8" fill="none" stroke="#151515" stroke-width="1.12"/>
<path d="M153.3 74.6 Q158.2 85.0 165.2 83.1" fill="none" stroke="#000" stroke-width="0.4" opacity="0.3"/>
<ellipse cx="218.0" cy="53.0" rx="15.6" ry="21.0" fill="#e8c8a8" stroke="#1e1e1e" stroke-width="1.2"/>
<path d="M201.6 50.9 Q202.4 25.7 218.0 29.9 Q235.2 26.8 234.4 52.0 Q224.2 37.2 201.6 50.9 Z" fill="#e8e2d2" stroke="#222" stroke-width="0.9"/>
<path d="M208.6 53.0 h4.7 M221.9 53.0 h4.7 M213.6 63.5 h8.7 M218.0 54.0 l-1.9 6.3 h3.1" fill="none" stroke="#151515" stroke-width="1.25"/>
<path d="M209.4 61.4 Q214.9 73.0 222.7 70.8" fill="none" stroke="#000" stroke-width="0.4" opacity="0.3"/>
<ellipse cx="273.0" cy="64.0" rx="13.3" ry="17.9" fill="#c89050" stroke="#1e1e1e" stroke-width="1.2"/>
<path d="M259.1 62.2 Q259.7 40.8 273.0 44.4 Q287.6 41.7 286.9 63.1 Q278.3 50.6 259.1 62.2 Z" fill="#6a5e4e" stroke="#222" stroke-width="0.9"/>
<path d="M265.0 64.0 h4.0 M276.3 64.0 h4.0 M269.3 72.9 h7.4 M273.0 64.9 l-1.6 5.4 h2.7" fill="none" stroke="#151515" stroke-width="1.06"/>
<path d="M265.7 71.1 Q270.3 81.0 277.0 79.2" fill="none" stroke="#000" stroke-width="0.4" opacity="0.3"/>
<ellipse cx="303.0" cy="45.0" rx="13.3" ry="17.9" fill="#f0e0e0" stroke="#1e1e1e" stroke-width="1.2"/>
<path d="M289.1 43.2 Q289.7 21.8 303.0 25.4 Q317.6 22.7 316.9 44.1 Q308.3 31.6 289.1 43.2 Z" fill="#d8cfb4" stroke="#222" stroke-width="0.9"/>
<path d="M295.0 45.0 h4.0 M306.3 45.0 h4.0 M299.3 53.9 h7.4 M303.0 45.9 l-1.6 5.4 h2.7" fill="none" stroke="#151515" stroke-width="1.06"/>
<path d="M295.7 52.1 Q300.3 62.0 307.0 60.2" fill="none" stroke="#000" stroke-width="0.4" opacity="0.3"/>
<ellipse cx="311.0" cy="86.0" rx="15.6" ry="21.0" fill="#c87050" stroke="#1e1e1e" stroke-width="1.2"/>
<path d="M294.6 83.9 Q295.4 58.7 311.0 62.9 Q328.2 59.8 327.4 85.0 Q317.2 70.2 294.6 83.9 Z" fill="#a89a80" stroke="#222" stroke-width="0.9"/>
<path d="M301.6 86.0 h4.7 M314.9 86.0 h4.7 M306.6 96.5 h8.7 M311.0 87.0 l-1.9 6.3 h3.1" fill="none" stroke="#151515" stroke-width="1.25"/>
<path d="M302.4 94.4 Q307.9 106.0 315.7 103.8" fill="none" stroke="#000" stroke-width="0.4" opacity="0.3"/>
<ellipse cx="341.0" cy="75.0" rx="13.3" ry="17.9" fill="#f0d070" stroke="#1e1e1e" stroke-width="1.2"/>
<path d="M327.1 73.2 Q327.7 51.8 341.0 55.4 Q355.6 52.7 354.9 74.1 Q346.3 61.6 327.1 73.2 Z" fill="#6a5e4e" stroke="#222" stroke-width="0.9"/>
<path d="M333.0 75.0 h4.0 M344.3 75.0 h4.0 M337.3 83.9 h7.4 M341.0 75.9 l-1.6 5.4 h2.7" fill="none" stroke="#151515" stroke-width="1.06"/>
<path d="M333.7 82.1 Q338.3 92.0 345.0 90.2" fill="none" stroke="#000" stroke-width="0.4" opacity="0.3"/>
<ellipse cx="363.0" cy="73.0" rx="13.3" ry="17.9" fill="#d8d0c8" stroke="#1e1e1e" stroke-width="1.2"/>
<path d="M349.1 71.2 Q349.7 49.8 363.0 53.4 Q377.6 50.7 376.9 72.1 Q368.3 59.6 349.1 71.2 Z" fill="#d8cfb4" stroke="#222" stroke-width="0.9"/>
<path d="M355.0 73.0 h4.0 M366.3 73.0 h4.0 M359.3 81.9 h7.4 M363.0 73.9 l-1.6 5.4 h2.7" fill="none" stroke="#151515" stroke-width="1.06"/>
<path d="M355.7 80.1 Q360.3 90.0 367.0 88.2" fill="none" stroke="#000" stroke-width="0.4" opacity="0.3"/>
<ellipse cx="13.0" cy="135.0" rx="17.9" ry="24.2" fill="#f0d0c8" stroke="#1e1e1e" stroke-width="1.2"/>
<path d="M-5.8 132.6 Q-4.9 103.6 13.0 108.4 Q32.7 104.8 31.8 133.8 Q20.2 116.9 -5.8 132.6 Z" fill="#a89a80" stroke="#222" stroke-width="0.9"/>
<path d="M2.2 135.0 h5.4 M17.5 135.0 h5.4 M8.0 147.1 h10.0 M13.0 136.2 l-2.2 7.2 h3.6" fill="none" stroke="#151515" stroke-width="1.44"/>
<path d="M3.1 144.7 Q9.4 157.9 18.4 155.5" fill="none" stroke="#000" stroke-width="0.4" opacity="0.3"/>
<ellipse cx="54.0" cy="127.0" rx="19.5" ry="26.2" fill="#e8e0c8" stroke="#1e1e1e" stroke-width="1.2"/>
<path d="M33.5 124.4 Q34.5 92.9 54.0 98.1 Q75.5 94.2 74.5 125.7 Q61.8 107.3 33.5 124.4 Z" fill="#d8cfb4" stroke="#222" stroke-width="0.9"/>
<path d="M42.3 127.0 h5.8 M58.9 127.0 h5.8 M48.5 140.1 h10.9 M54.0 128.3 l-2.3 7.9 h3.9" fill="none" stroke="#151515" stroke-width="1.56"/>
<path d="M43.3 137.5 Q50.1 151.9 59.9 149.3" fill="none" stroke="#000" stroke-width="0.4" opacity="0.3"/>
<ellipse cx="106.0" cy="105.0" rx="17.2" ry="23.1" fill="#e8d8a0" stroke="#1e1e1e" stroke-width="1.2"/>
<path d="M88.0 102.7 Q88.8 75.0 106.0 79.6 Q124.9 76.1 124.0 103.8 Q112.9 87.7 88.0 102.7 Z" fill="#d8cfb4" stroke="#222" stroke-width="0.9"/>
<path d="M95.7 105.0 h5.1 M110.3 105.0 h5.1 M101.2 116.5 h9.6 M106.0 106.2 l-2.1 6.9 h3.4" fill="none" stroke="#151515" stroke-width="1.38"/>
<path d="M96.6 114.2 Q102.6 126.9 111.1 124.6" fill="none" stroke="#000" stroke-width="0.4" opacity="0.3"/>
<ellipse cx="155.0" cy="105.0" rx="15.6" ry="21.0" fill="#e0b870" stroke="#1e1e1e" stroke-width="1.2"/>
<path d="M138.6 102.9 Q139.4 77.7 155.0 81.9 Q172.2 78.8 171.4 104.0 Q161.2 89.2 138.6 102.9 Z" fill="#d8cfb4" stroke="#222" stroke-width="0.9"/>
<path d="M145.6 105.0 h4.7 M158.9 105.0 h4.7 M150.6 115.5 h8.7 M155.0 106.0 l-1.9 6.3 h3.1" fill="none" stroke="#151515" stroke-width="1.25"/>
<path d="M146.4 113.4 Q151.9 125.0 159.7 122.8" fill="none" stroke="#000" stroke-width="0.4" opacity="0.3"/>
<ellipse cx="191.0" cy="105.0" rx="19.5" ry="26.2" fill="#b88888" stroke="#1e1e1e" stroke-width="1.2"/>
<path d="M170.5 102.4 Q171.5 70.9 191.0 76.1 Q212.4 72.2 211.5 103.7 Q198.8 85.3 170.5 102.4 Z" fill="#f4f0e6" stroke="#222" stroke-width="0.9"/>
<path d="M179.3 105.0 h5.8 M195.9 105.0 h5.8 M185.5 118.1 h10.9 M191.0 106.3 l-2.3 7.9 h3.9" fill="none" stroke="#151515" stroke-width="1.56"/>
<path d="M180.3 115.5 Q187.1 129.9 196.8 127.3" fill="none" stroke="#000" stroke-width="0.4" opacity="0.3"/>
<ellipse cx="207.0" cy="144.0" rx="15.6" ry="21.0" fill="#f0e8d8" stroke="#1e1e1e" stroke-width="1.2"/>
<path d="M190.6 141.9 Q191.4 116.7 207.0 120.9 Q224.2 117.8 223.4 142.9 Q213.2 128.2 190.6 141.9 Z" fill="#a89a80" stroke="#222" stroke-width="0.9"/>
<path d="M197.6 144.0 h4.7 M210.9 144.0 h4.7 M202.6 154.5 h8.7 M207.0 145.1 l-1.9 6.3 h3.1" fill="none" stroke="#151515" stroke-width="1.25"/>
<path d="M198.4 152.4 Q203.9 163.9 211.7 161.8" fill="none" stroke="#000" stroke-width="0.4" opacity="0.3"/>
<ellipse cx="237.0" cy="84.0" rx="15.6" ry="21.0" fill="#f0e8e0" stroke="#1e1e1e" stroke-width="1.2"/>
<path d="M220.6 81.9 Q221.4 56.7 237.0 60.9 Q254.2 57.8 253.4 83.0 Q243.2 68.2 220.6 81.9 Z" fill="#f4f0e6" stroke="#222" stroke-width="0.9"/>
<path d="M227.6 84.0 h4.7 M240.9 84.0 h4.7 M232.6 94.5 h8.7 M237.0 85.0 l-1.9 6.3 h3.1" fill="none" stroke="#151515" stroke-width="1.25"/>
<path d="M228.4 92.4 Q233.9 104.0 241.7 101.8" fill="none" stroke="#000" stroke-width="0.4" opacity="0.3"/>
<ellipse cx="253.0" cy="111.0" rx="17.2" ry="23.1" fill="#c8a070" stroke="#1e1e1e" stroke-width="1.2"/>
<path d="M235.0 108.7 Q235.8 81.0 253.0 85.6 Q271.9 82.1 271.0 109.8 Q259.9 93.7 235.0 108.7 Z" fill="#efeadc" stroke="#222" stroke-width="0.9"/>
<path d="M242.7 111.0 h5.1 M257.3 111.0 h5.1 M248.2 122.5 h9.6 M253.0 112.2 l-2.1 6.9 h3.4" fill="none" stroke="#151515" stroke-width="1.38"/>
<path d="M243.6 120.2 Q249.6 132.9 258.1 130.6" fill="none" stroke="#000" stroke-width="0.4" opacity="0.3"/>
<ellipse cx="292.0" cy="114.0" rx="17.2" ry="23.1" fill="#f0d080" stroke="#1e1e1e" stroke-width="1.2"/>
<path d="M274.0 111.7 Q274.8 84.0 292.0 88.6 Q310.9 85.1 310.0 112.8 Q298.9 96.7 274.0 111.7 Z" fill="#e8e2d2" stroke="#222" stroke-width="0.9"/>
<path d="M281.7 114.0 h5.1 M296.3 114.0 h5.1 M287.2 125.5 h9.6 M292.0 115.2 l-2.1 6.9 h3.4" fill="none" stroke="#151515" stroke-width="1.38"/>
<path d="M282.6 123.2 Q288.6 135.9 297.1 133.6" fill="none" stroke="#000" stroke-width="0.4" opacity="0.3"/>
<ellipse cx="333.0" cy="135.0" rx="19.5" ry="26.2" fill="#f0c8b0" stroke="#1e1e1e" stroke-width="1.2"/>
<path d="M312.5 132.4 Q313.5 100.9 333.0 106.1 Q354.4 102.2 353.5 133.7 Q340.8 115.3 312.5 132.4 Z" fill="#d8cfb4" stroke="#222" stroke-width="0.9"/>
<path d="M321.3 135.0 h5.8 M337.9 135.0 h5.8 M327.5 148.1 h10.9 M333.0 136.3 l-2.3 7.9 h3.9" fill="none" stroke="#151515" stroke-width="1.56"/>
<path d="M322.3 145.5 Q329.1 159.9 338.9 157.3" fill="none" stroke="#000" stroke-width="0.4" opacity="0.3"/>
<ellipse cx="365.0" cy="127.0" rx="17.2" ry="23.1" fill="#e8b860" stroke="#1e1e1e" stroke-width="1.2"/>
<path d="M347.0 124.7 Q347.8 97.0 365.0 101.6 Q383.9 98.1 383.0 125.8 Q371.9 109.7 347.0 124.7 Z" fill="#a89a80" stroke="#222" stroke-width="0.9"/>
<path d="M354.7 127.0 h5.1 M369.3 127.0 h5.1 M360.2 138.6 h9.6 M365.0 128.2 l-2.1 6.9 h3.4" fill="none" stroke="#151515" stroke-width="1.38"/>
<path d="M355.6 136.2 Q361.6 148.9 370.1 146.6" fill="none" stroke="#000" stroke-width="0.4" opacity="0.3"/>
<ellipse cx="30.0" cy="204.0" rx="21.8" ry="29.4" fill="#f0e8a0" stroke="#1e1e1e" stroke-width="1.2"/>
<path d="M7.1 201.1 Q8.2 165.8 30.0 171.7 Q54.0 167.2 52.9 202.5 Q38.7 181.9 7.1 201.1 Z" fill="#f4f0e6" stroke="#222" stroke-width="0.9"/>
<path d="M16.9 204.0 h6.6 M35.5 204.0 h6.6 M23.9 218.7 h12.2 M30.0 205.5 l-2.6 8.8 h4.4" fill="none" stroke="#151515" stroke-width="1.75"/>
<path d="M18.0 215.8 Q25.6 231.9 36.6 229.0" fill="none" stroke="#000" stroke-width="0.4" opacity="0.3"/>
<ellipse cx="98.0" cy="174.0" rx="25.0" ry="33.6" fill="#e0b060" stroke="#1e1e1e" stroke-width="1.2"/>
<path d="M71.8 170.6 Q73.0 130.3 98.0 137.0 Q125.5 132.0 124.2 172.3 Q108.0 148.8 71.8 170.6 Z" fill="#d8cfb4" stroke="#222" stroke-width="0.9"/>
<path d="M83.0 174.0 h7.5 M104.2 174.0 h7.5 M91.0 190.8 h14.0 M98.0 175.7 l-3.0 10.1 h5.0" fill="none" stroke="#151515" stroke-width="2.00"/>
<path d="M84.3 187.4 Q93.0 205.9 105.5 202.6" fill="none" stroke="#000" stroke-width="0.4" opacity="0.3"/>
<ellipse cx="153.0" cy="154.0" rx="21.8" ry="29.4" fill="#e8a090" stroke="#1e1e1e" stroke-width="1.2"/>
<path d="M130.1 151.1 Q131.2 115.8 153.0 121.7 Q177.0 117.2 175.9 152.5 Q161.7 131.9 130.1 151.1 Z" fill="#e0cc88" stroke="#222" stroke-width="0.9"/>
<path d="M139.9 154.0 h6.6 M158.5 154.0 h6.6 M146.9 168.7 h12.2 M153.0 155.5 l-2.6 8.8 h4.4" fill="none" stroke="#151515" stroke-width="1.75"/>
<path d="M141.0 165.8 Q148.6 181.9 159.6 179.0" fill="none" stroke="#000" stroke-width="0.4" opacity="0.3"/>
<ellipse cx="183.0" cy="193.0" rx="21.8" ry="29.4" fill="#f0e0c0" stroke="#1e1e1e" stroke-width="1.2"/>
<path d="M160.1 190.1 Q161.2 154.8 183.0 160.7 Q207.0 156.2 205.9 191.5 Q191.7 170.9 160.1 190.1 Z" fill="#efeadc" stroke="#222" stroke-width="0.9"/>
<path d="M169.9 193.0 h6.6 M188.5 193.0 h6.6 M176.9 207.7 h12.2 M183.0 194.5 l-2.6 8.8 h4.4" fill="none" stroke="#151515" stroke-width="1.75"/>
<path d="M171.0 204.8 Q178.6 220.9 189.6 218.0" fill="none" stroke="#000" stroke-width="0.4" opacity="0.3"/>
<ellipse cx="270.0" cy="171.0" rx="25.0" ry="33.6" fill="#f0d8d0" stroke="#1e1e1e" stroke-width="1.2"/>
<path d="M243.8 167.6 Q245.0 127.3 270.0 134.0 Q297.5 129.0 296.2 169.3 Q280.0 145.8 243.8 167.6 Z" fill="#f4f0e6" stroke="#222" stroke-width="0.9"/>
<path d="M255.0 171.0 h7.5 M276.2 171.0 h7.5 M263.0 187.8 h14.0 M270.0 172.7 l-3.0 10.1 h5.0" fill="none" stroke="#151515" stroke-width="2.00"/>
<path d="M256.3 184.4 Q265.0 202.9 277.5 199.6" fill="none" stroke="#000" stroke-width="0.4" opacity="0.3"/>
<ellipse cx="349.0" cy="195.0" rx="25.0" ry="33.6" fill="#e0b060" stroke="#1e1e1e" stroke-width="1.2"/>
<path d="M322.8 191.6 Q324.0 151.3 349.0 158.0 Q376.5 153.0 375.2 193.3 Q359.0 169.8 322.8 191.6 Z" fill="#a89a80" stroke="#222" stroke-width="0.9"/>
<path d="M334.0 195.0 h7.5 M355.2 195.0 h7.5 M342.0 211.8 h14.0 M349.0 196.7 l-3.0 10.1 h5.0" fill="none" stroke="#151515" stroke-width="2.00"/>
<path d="M335.3 208.4 Q344.0 226.9 356.5 223.6" fill="none" stroke="#000" stroke-width="0.4" opacity="0.3"/>
<ellipse cx="82.0" cy="253.0" rx="27.3" ry="36.8" fill="#e8d8b0" stroke="#1e1e1e" stroke-width="1.2"/>
<path d="M53.3 249.3 Q54.7 205.2 82.0 212.6 Q112.0 207.1 110.7 251.2 Q92.9 225.4 53.3 249.3 Z" fill="#6a5e4e" stroke="#222" stroke-width="0.9"/>
<path d="M65.6 253.0 h8.2 M88.8 253.0 h8.2 M74.4 271.4 h15.3 M82.0 254.8 l-3.3 11.0 h5.5" fill="none" stroke="#151515" stroke-width="2.19"/>
<path d="M67.0 267.7 Q76.5 287.9 90.2 284.2" fill="none" stroke="#000" stroke-width="0.4" opacity="0.3"/>
<ellipse cx="144.0" cy="247.0" rx="27.3" ry="36.8" fill="#f0e8c8" stroke="#1e1e1e" stroke-width="1.2"/>
<path d="M115.3 243.3 Q116.7 199.2 144.0 206.6 Q174.0 201.1 172.7 245.2 Q154.9 219.4 115.3 243.3 Z" fill="#e0cc88" stroke="#222" stroke-width="0.9"/>
<path d="M127.6 247.0 h8.2 M150.8 247.0 h8.2 M136.4 265.4 h15.3 M144.0 248.8 l-3.3 11.0 h5.5" fill="none" stroke="#151515" stroke-width="2.19"/>
<path d="M129.0 261.7 Q138.5 281.9 152.2 278.2" fill="none" stroke="#000" stroke-width="0.4" opacity="0.3"/>
<ellipse cx="213.0" cy="253.0" rx="27.3" ry="36.8" fill="#f0c870" stroke="#1e1e1e" stroke-width="1.2"/>
<path d="M184.3 249.3 Q185.7 205.2 213.0 212.6 Q243.0 207.1 241.7 251.2 Q223.9 225.4 184.3 249.3 Z" fill="#efeadc" stroke="#222" stroke-width="0.9"/>
<path d="M196.6 253.0 h8.2 M219.8 253.0 h8.2 M205.4 271.4 h15.3 M213.0 254.8 l-3.3 11.0 h5.5" fill="none" stroke="#151515" stroke-width="2.19"/>
<path d="M198.0 267.7 Q207.5 287.9 221.2 284.2" fill="none" stroke="#000" stroke-width="0.4" opacity="0.3"/>
<ellipse cx="316.0" cy="247.0" rx="31.2" ry="42.0" fill="#c09090" stroke="#1e1e1e" stroke-width="1.2"/>
<path d="M283.2 242.8 Q284.8 192.4 316.0 200.8 Q350.3 194.5 348.8 244.9 Q328.5 215.5 283.2 242.8 Z" fill="#f4f0e6" stroke="#222" stroke-width="0.9"/>
<path d="M297.3 247.0 h9.4 M323.8 247.0 h9.4 M307.3 268.0 h17.5 M316.0 249.1 l-3.7 12.6 h6.2" fill="none" stroke="#151515" stroke-width="2.50"/>
<path d="M298.8 263.8 Q309.8 286.9 325.4 282.7" fill="none" stroke="#000" stroke-width="0.4" opacity="0.3"/>
<line x1="164.4" y1="23.3" x2="167.9" y2="27.1" stroke="#1a1a1a" stroke-width="1.24" opacity="0.55"/>
<line x1="129.9" y1="145.7" x2="123.9" y2="157.1" stroke="#1a1a1a" stroke-width="1.26" opacity="0.55"/>
<line x1="224.3" y1="149.3" x2="216.7" y2="151.6" stroke="#1a1a1a" stroke-width="0.74" opacity="0.55"/>
<line x1="292.0" y1="77.0" x2="295.4" y2="84.6" stroke="#1a1a1a" stroke-width="0.88" opacity="0.55"/>
<line x1="141.6" y1="128.3" x2="142.3" y2="132.7" stroke="#1a1a1a" stroke-width="1.17" opacity="0.55"/>
<line x1="24.4" y1="157.3" x2="23.2" y2="165.2" stroke="#1a1a1a" stroke-width="0.68" opacity="0.55"/>
<line x1="39.2" y1="110.8" x2="44.0" y2="118.2" stroke="#1a1a1a" stroke-width="0.68" opacity="0.55"/>
<line x1="296.0" y1="145.2" x2="304.1" y2="145.5" stroke="#1a1a1a" stroke-width="1.27" opacity="0.55"/>
<line x1="2.8" y1="176.8" x2="-4.8" y2="177.8" stroke="#1a1a1a" stroke-width="0.98" opacity="0.55"/>
<line x1="145.7" y1="89.7" x2="142.4" y2="99.1" stroke="#1a1a1a" stroke-width="0.75" opacity="0.55"/>
<line x1="196.6" y1="153.8" x2="193.3" y2="157.0" stroke="#1a1a1a" stroke-width="0.57" opacity="0.55"/>
<line x1="99.5" y1="80.5" x2="92.9" y2="85.4" stroke="#1a1a1a" stroke-width="1.19" opacity="0.55"/>
<line x1="158.9" y1="85.2" x2="156.3" y2="89.3" stroke="#1a1a1a" stroke-width="1.29" opacity="0.55"/>
<line x1="328.5" y1="97.8" x2="335.1" y2="108.0" stroke="#1a1a1a" stroke-width="1.13" opacity="0.55"/>
<line x1="253.7" y1="16.9" x2="250.4" y2="19.9" stroke="#1a1a1a" stroke-width="1.00" opacity="0.55"/>
<line x1="218.1" y1="276.3" x2="216.3" y2="280.2" stroke="#1a1a1a" stroke-width="1.25" opacity="0.55"/>
<line x1="297.3" y1="172.8" x2="308.7" y2="173.0" stroke="#1a1a1a" stroke-width="0.83" opacity="0.55"/>
<line x1="268.5" y1="293.1" x2="263.9" y2="294.4" stroke="#1a1a1a" stroke-width="1.13" opacity="0.55"/>
<line x1="174.0" y1="224.0" x2="177.2" y2="231.8" stroke="#1a1a1a" stroke-width="0.85" opacity="0.55"/>
<line x1="46.6" y1="95.3" x2="43.4" y2="98.8" stroke="#1a1a1a" stroke-width="0.59" opacity="0.55"/>
<line x1="329.4" y1="198.5" x2="328.7" y2="203.6" stroke="#1a1a1a" stroke-width="0.59" opacity="0.55"/>
<line x1="122.5" y1="284.3" x2="120.0" y2="297.2" stroke="#1a1a1a" stroke-width="0.67" opacity="0.55"/>
<line x1="163.9" y1="159.8" x2="159.3" y2="162.4" stroke="#1a1a1a" stroke-width="1.20" opacity="0.55"/>
<line x1="186.6" y1="9.4" x2="188.2" y2="16.9" stroke="#1a1a1a" stroke-width="1.04" opacity="0.55"/>
<line x1="366.6" y1="147.1" x2="362.2" y2="153.6" stroke="#1a1a1a" stroke-width="1.12" opacity="0.55"/>
<line x1="41.6" y1="221.2" x2="50.1" y2="226.1" stroke="#1a1a1a" stroke-width="0.66" opacity="0.55"/>
<line x1="136.8" y1="48.8" x2="141.3" y2="57.7" stroke="#1a1a1a" stroke-width="0.92" opacity="0.55"/>
<line x1="153.5" y1="171.1" x2="146.8" y2="174.7" stroke="#1a1a1a" stroke-width="0.97" opacity="0.55"/>
<line x1="189.8" y1="292.2" x2="195.4" y2="301.6" stroke="#1a1a1a" stroke-width="0.69" opacity="0.55"/>
<line x1="103.2" y1="217.7" x2="101.7" y2="224.1" stroke="#1a1a1a" stroke-width="0.55" opacity="0.55"/>
<line x1="325.8" y1="112.5" x2="320.6" y2="119.0" stroke="#1a1a1a" stroke-width="0.99" opacity="0.55"/>
<line x1="221.0" y1="290.8" x2="212.8" y2="293.2" stroke="#1a1a1a" stroke-width="0.89" opacity="0.55"/>
<line x1="91.4" y1="224.4" x2="98.1" y2="226.7" stroke="#1a1a1a" stroke-width="1.18" opacity="0.55"/>
<line x1="13.9" y1="208.1" x2="11.8" y2="217.4" stroke="#1a1a1a" stroke-width="0.77" opacity="0.55"/>
<line x1="59.9" y1="283.3" x2="51.0" y2="291.5" stroke="#1a1a1a" stroke-width="0.58" opacity="0.55"/>
<line x1="309.7" y1="65.1" x2="317.3" y2="70.6" stroke="#1a1a1a" stroke-width="0.99" opacity="0.55"/>
<line x1="47.7" y1="227.9" x2="44.4" y2="240.5" stroke="#1a1a1a" stroke-width="1.24" opacity="0.55"/>
<line x1="272.3" y1="108.5" x2="261.2" y2="110.2" stroke="#1a1a1a" stroke-width="0.73" opacity="0.55"/>
<line x1="338.8" y1="216.6" x2="343.1" y2="221.4" stroke="#1a1a1a" stroke-width="0.52" opacity="0.55"/>
<line x1="212.2" y1="75.6" x2="216.1" y2="80.8" stroke="#1a1a1a" stroke-width="0.61" opacity="0.55"/>
<line x1="191.5" y1="81.2" x2="195.8" y2="86.5" stroke="#1a1a1a" stroke-width="0.91" opacity="0.55"/>
<line x1="345.2" y1="47.7" x2="333.8" y2="53.1" stroke="#1a1a1a" stroke-width="0.99" opacity="0.55"/>
<line x1="214.8" y1="218.7" x2="213.6" y2="229.2" stroke="#1a1a1a" stroke-width="1.24" opacity="0.55"/>
<line x1="306.2" y1="77.4" x2="319.4" y2="79.7" stroke="#1a1a1a" stroke-width="0.79" opacity="0.55"/>
<line x1="311.0" y1="69.6" x2="312.1" y2="77.2" stroke="#1a1a1a" stroke-width="1.08" opacity="0.55"/>
<line x1="372.7" y1="150.7" x2="371.2" y2="158.0" stroke="#1a1a1a" stroke-width="0.69" opacity="0.55"/>
<line x1="375.2" y1="32.9" x2="364.8" y2="34.8" stroke="#1a1a1a" stroke-width="0.56" opacity="0.55"/>
<line x1="356.2" y1="30.4" x2="355.1" y2="35.5" stroke="#1a1a1a" stroke-width="1.29" opacity="0.55"/>
<line x1="122.2" y1="259.9" x2="132.6" y2="261.9" stroke="#1a1a1a" stroke-width="0.55" opacity="0.55"/>
<line x1="11.7" y1="170.1" x2="0.9" y2="170.7" stroke="#1a1a1a" stroke-width="1.18" opacity="0.55"/>
<line x1="310.0" y1="155.3" x2="319.0" y2="157.5" stroke="#1a1a1a" stroke-width="0.65" opacity="0.55"/>
<line x1="208.0" y1="105.6" x2="208.1" y2="111.5" stroke="#1a1a1a" stroke-width="1.06" opacity="0.55"/>
<line x1="164.8" y1="144.8" x2="173.4" y2="147.0" stroke="#1a1a1a" stroke-width="0.95" opacity="0.55"/>
<line x1="384.2" y1="167.3" x2="390.5" y2="170.2" stroke="#1a1a1a" stroke-width="0.77" opacity="0.55"/>
<line x1="277.3" y1="279.8" x2="263.9" y2="280.8" stroke="#1a1a1a" stroke-width="1.24" opacity="0.55"/>
<line x1="339.2" y1="278.6" x2="348.0" y2="279.2" stroke="#1a1a1a" stroke-width="0.97" opacity="0.55"/>
<line x1="270.9" y1="182.6" x2="266.2" y2="195.1" stroke="#1a1a1a" stroke-width="0.57" opacity="0.55"/>
<line x1="205.1" y1="285.9" x2="210.2" y2="286.4" stroke="#1a1a1a" stroke-width="1.20" opacity="0.55"/>
<line x1="378.1" y1="7.2" x2="390.3" y2="8.4" stroke="#1a1a1a" stroke-width="1.05" opacity="0.55"/>
<line x1="205.3" y1="172.9" x2="196.6" y2="181.2" stroke="#1a1a1a" stroke-width="0.50" opacity="0.55"/>
<line x1="26.8" y1="236.7" x2="14.5" y2="237.6" stroke="#1a1a1a" stroke-width="0.83" opacity="0.55"/>
<line x1="132.5" y1="103.3" x2="144.2" y2="103.9" stroke="#1a1a1a" stroke-width="0.71" opacity="0.55"/>
<line x1="231.3" y1="156.8" x2="236.6" y2="166.1" stroke="#1a1a1a" stroke-width="0.86" opacity="0.55"/>
<line x1="92.6" y1="262.8" x2="97.3" y2="265.7" stroke="#1a1a1a" stroke-width="0.70" opacity="0.55"/>
<line x1="189.2" y1="233.5" x2="192.4" y2="239.1" stroke="#1a1a1a" stroke-width="1.02" opacity="0.55"/>
<line x1="102.8" y1="155.8" x2="111.7" y2="165.0" stroke="#1a1a1a" stroke-width="0.65" opacity="0.55"/>
<line x1="91.7" y1="89.8" x2="97.5" y2="99.5" stroke="#1a1a1a" stroke-width="1.04" opacity="0.55"/>
<line x1="312.2" y1="160.9" x2="323.5" y2="163.8" stroke="#1a1a1a" stroke-width="0.70" opacity="0.55"/>
<line x1="86.0" y1="123.5" x2="78.3" y2="123.7" stroke="#1a1a1a" stroke-width="0.79" opacity="0.55"/>
<line x1="359.8" y1="295.2" x2="361.7" y2="300.2" stroke="#1a1a1a" stroke-width="1.13" opacity="0.55"/>
<line x1="309.0" y1="100.8" x2="302.8" y2="105.5" stroke="#1a1a1a" stroke-width="0.73" opacity="0.55"/>
<line x1="234.4" y1="221.0" x2="235.3" y2="233.1" stroke="#1a1a1a" stroke-width="0.51" opacity="0.55"/>
<line x1="197.1" y1="113.4" x2="210.0" y2="116.0" stroke="#1a1a1a" stroke-width="0.61" opacity="0.55"/>
<line x1="81.2" y1="261.7" x2="68.0" y2="263.3" stroke="#1a1a1a" stroke-width="0.77" opacity="0.55"/>
<line x1="367.6" y1="42.2" x2="359.2" y2="52.8" stroke="#1a1a1a" stroke-width="0.65" opacity="0.55"/>
<line x1="53.6" y1="202.1" x2="43.1" y2="206.2" stroke="#1a1a1a" stroke-width="1.26" opacity="0.55"/>
<line x1="179.2" y1="110.9" x2="185.5" y2="113.4" stroke="#1a1a1a" stroke-width="1.25" opacity="0.55"/>
<line x1="28.3" y1="55.1" x2="30.4" y2="59.1" stroke="#1a1a1a" stroke-width="0.75" opacity="0.55"/>
<line x1="72.2" y1="36.6" x2="71.4" y2="46.0" stroke="#1a1a1a" stroke-width="0.95" opacity="0.55"/>
<line x1="301.1" y1="157.0" x2="296.4" y2="157.8" stroke="#1a1a1a" stroke-width="0.68" opacity="0.55"/>
<line x1="30.3" y1="92.2" x2="20.6" y2="101.2" stroke="#1a1a1a" stroke-width="0.90" opacity="0.55"/>
<line x1="63.3" y1="98.5" x2="61.8" y2="105.2" stroke="#1a1a1a" stroke-width="1.13" opacity="0.55"/>
<line x1="384.2" y1="137.0" x2="380.2" y2="148.8" stroke="#1a1a1a" stroke-width="0.87" opacity="0.55"/>
<line x1="75.4" y1="281.3" x2="71.1" y2="281.6" stroke="#1a1a1a" stroke-width="1.11" opacity="0.55"/>
<line x1="158.2" y1="15.5" x2="163.2" y2="18.3" stroke="#1a1a1a" stroke-width="1.09" opacity="0.55"/>
<line x1="83.6" y1="5.8" x2="92.8" y2="13.5" stroke="#1a1a1a" stroke-width="0.90" opacity="0.55"/>
<line x1="257.9" y1="138.6" x2="261.3" y2="140.9" stroke="#1a1a1a" stroke-width="0.74" opacity="0.55"/>
<line x1="16.4" y1="77.7" x2="13.6" y2="84.8" stroke="#1a1a1a" stroke-width="0.88" opacity="0.55"/>
<line x1="246.4" y1="94.5" x2="252.0" y2="106.1" stroke="#1a1a1a" stroke-width="0.96" opacity="0.55"/>
<line x1="164.7" y1="161.0" x2="165.6" y2="168.2" stroke="#1a1a1a" stroke-width="1.23" opacity="0.55"/>
<line x1="92.2" y1="278.9" x2="80.7" y2="284.6" stroke="#1a1a1a" stroke-width="0.63" opacity="0.55"/>
<line x1="201.0" y1="293.4" x2="204.5" y2="297.9" stroke="#1a1a1a" stroke-width="1.08" opacity="0.55"/>
<line x1="92.9" y1="173.9" x2="104.7" y2="180.3" stroke="#1a1a1a" stroke-width="0.73" opacity="0.55"/>
<line x1="38.3" y1="204.8" x2="42.7" y2="213.3" stroke="#1a1a1a" stroke-width="0.90" opacity="0.55"/>
<line x1="364.4" y1="153.2" x2="365.9" y2="157.0" stroke="#1a1a1a" stroke-width="0.90" opacity="0.55"/>
<line x1="106.3" y1="171.1" x2="102.8" y2="179.0" stroke="#1a1a1a" stroke-width="0.57" opacity="0.55"/>
<line x1="196.5" y1="143.6" x2="190.6" y2="155.9" stroke="#1a1a1a" stroke-width="0.72" opacity="0.55"/>
<line x1="174.9" y1="25.2" x2="169.7" y2="28.9" stroke="#1a1a1a" stroke-width="1.16" opacity="0.55"/>
<line x1="315.2" y1="75.9" x2="306.6" y2="78.6" stroke="#1a1a1a" stroke-width="0.84" opacity="0.55"/>
<line x1="219.3" y1="281.9" x2="219.6" y2="290.7" stroke="#1a1a1a" stroke-width="0.73" opacity="0.55"/>
<line x1="332.3" y1="149.9" x2="335.1" y2="155.2" stroke="#1a1a1a" stroke-width="0.67" opacity="0.55"/>
<line x1="329.5" y1="239.4" x2="316.3" y2="240.3" stroke="#1a1a1a" stroke-width="1.05" opacity="0.55"/>
<line x1="315.0" y1="212.1" x2="305.1" y2="218.8" stroke="#1a1a1a" stroke-width="0.64" opacity="0.55"/>
<line x1="321.8" y1="90.4" x2="331.3" y2="99.5" stroke="#1a1a1a" stroke-width="0.52" opacity="0.55"/>
<line x1="202.2" y1="102.3" x2="194.1" y2="108.4" stroke="#1a1a1a" stroke-width="1.23" opacity="0.55"/>
<line x1="368.3" y1="192.0" x2="378.8" y2="194.1" stroke="#1a1a1a" stroke-width="0.59" opacity="0.55"/>
<line x1="388.0" y1="259.7" x2="391.2" y2="264.5" stroke="#1a1a1a" stroke-width="1.06" opacity="0.55"/>
<line x1="299.5" y1="293.5" x2="297.5" y2="298.4" stroke="#1a1a1a" stroke-width="1.08" opacity="0.55"/>
<line x1="23.1" y1="258.6" x2="14.3" y2="266.5" stroke="#1a1a1a" stroke-width="1.20" opacity="0.55"/>
<line x1="224.8" y1="281.1" x2="221.0" y2="289.2" stroke="#1a1a1a" stroke-width="0.81" opacity="0.55"/>
<line x1="139.6" y1="6.8" x2="150.0" y2="12.6" stroke="#1a1a1a" stroke-width="0.68" opacity="0.55"/>
<line x1="258.2" y1="231.0" x2="252.9" y2="238.5" stroke="#1a1a1a" stroke-width="0.75" opacity="0.55"/>
<line x1="107.8" y1="55.8" x2="102.9" y2="65.5" stroke="#1a1a1a" stroke-width="1.25" opacity="0.55"/>
<line x1="130.6" y1="276.3" x2="123.9" y2="278.2" stroke="#1a1a1a" stroke-width="1.26" opacity="0.55"/>
<line x1="244.7" y1="286.8" x2="239.1" y2="291.6" stroke="#1a1a1a" stroke-width="0.72" opacity="0.55"/>
<line x1="206.4" y1="145.4" x2="219.0" y2="146.8" stroke="#1a1a1a" stroke-width="0.93" opacity="0.55"/>
<line x1="186.8" y1="221.9" x2="191.1" y2="226.1" stroke="#1a1a1a" stroke-width="0.96" opacity="0.55"/>
<line x1="95.3" y1="97.6" x2="99.7" y2="98.6" stroke="#1a1a1a" stroke-width="0.78" opacity="0.55"/>
<line x1="208.1" y1="282.8" x2="204.7" y2="290.1" stroke="#1a1a1a" stroke-width="0.83" opacity="0.55"/>
<line x1="93.0" y1="141.2" x2="87.8" y2="141.9" stroke="#1a1a1a" stroke-width="0.85" opacity="0.55"/>
<line x1="270.8" y1="227.2" x2="269.0" y2="237.5" stroke="#1a1a1a" stroke-width="1.25" opacity="0.55"/>
<line x1="356.5" y1="74.8" x2="354.7" y2="88.7" stroke="#1a1a1a" stroke-width="0.92" opacity="0.55"/>
<line x1="74.8" y1="228.3" x2="80.2" y2="229.3" stroke="#1a1a1a" stroke-width="0.94" opacity="0.55"/>
<line x1="107.7" y1="214.5" x2="103.0" y2="219.9" stroke="#1a1a1a" stroke-width="1.11" opacity="0.55"/>
<line x1="255.9" y1="210.4" x2="257.0" y2="218.6" stroke="#1a1a1a" stroke-width="0.59" opacity="0.55"/>
<line x1="187.6" y1="284.5" x2="183.3" y2="286.1" stroke="#1a1a1a" stroke-width="0.56" opacity="0.55"/>
<line x1="106.4" y1="207.0" x2="107.4" y2="212.1" stroke="#1a1a1a" stroke-width="0.84" opacity="0.55"/>
<line x1="226.4" y1="221.8" x2="229.6" y2="231.8" stroke="#1a1a1a" stroke-width="1.05" opacity="0.55"/>
<line x1="243.2" y1="13.8" x2="239.9" y2="18.0" stroke="#1a1a1a" stroke-width="0.54" opacity="0.55"/>
<line x1="187.1" y1="5.0" x2="194.8" y2="6.8" stroke="#1a1a1a" stroke-width="0.87" opacity="0.55"/>
<line x1="41.7" y1="284.2" x2="33.8" y2="288.2" stroke="#1a1a1a" stroke-width="0.97" opacity="0.55"/>
<line x1="124.7" y1="293.1" x2="131.2" y2="295.7" stroke="#1a1a1a" stroke-width="0.68" opacity="0.55"/>
<line x1="341.9" y1="151.6" x2="344.2" y2="159.3" stroke="#1a1a1a" stroke-width="1.21" opacity="0.55"/>
<line x1="101.7" y1="235.8" x2="96.5" y2="242.5" stroke="#1a1a1a" stroke-width="0.79" opacity="0.55"/>
<line x1="172.6" y1="135.0" x2="178.2" y2="143.6" stroke="#1a1a1a" stroke-width="0.83" opacity="0.55"/>
<line x1="120.0" y1="230.3" x2="121.2" y2="238.9" stroke="#1a1a1a" stroke-width="1.20" opacity="0.55"/>
<line x1="179.6" y1="112.0" x2="166.5" y2="116.4" stroke="#1a1a1a" stroke-width="1.13" opacity="0.55"/>
<line x1="158.6" y1="200.0" x2="153.8" y2="205.1" stroke="#1a1a1a" stroke-width="1.08" opacity="0.55"/>
<line x1="375.2" y1="195.4" x2="370.9" y2="202.6" stroke="#1a1a1a" stroke-width="1.02" opacity="0.55"/>
<line x1="89.3" y1="229.6" x2="87.6" y2="243.3" stroke="#1a1a1a" stroke-width="0.77" opacity="0.55"/>
<line x1="281.1" y1="5.0" x2="284.1" y2="16.2" stroke="#1a1a1a" stroke-width="0.71" opacity="0.55"/>
<line x1="242.3" y1="65.8" x2="246.7" y2="79.1" stroke="#1a1a1a" stroke-width="0.66" opacity="0.55"/>
<line x1="360.5" y1="17.8" x2="357.4" y2="29.6" stroke="#1a1a1a" stroke-width="1.17" opacity="0.55"/>
<line x1="154.5" y1="175.9" x2="147.4" y2="185.1" stroke="#1a1a1a" stroke-width="1.10" opacity="0.55"/>
<line x1="228.7" y1="75.0" x2="222.9" y2="82.7" stroke="#1a1a1a" stroke-width="0.94" opacity="0.55"/>
<line x1="389.9" y1="40.7" x2="384.3" y2="45.3" stroke="#1a1a1a" stroke-width="1.08" opacity="0.55"/>
<line x1="375.4" y1="81.8" x2="373.4" y2="90.9" stroke="#1a1a1a" stroke-width="0.90" opacity="0.55"/>
<line x1="66.0" y1="186.4" x2="55.9" y2="189.9" stroke="#1a1a1a" stroke-width="0.73" opacity="0.55"/>
<line x1="318.4" y1="125.2" x2="327.4" y2="129.6" stroke="#1a1a1a" stroke-width="0.87" opacity="0.55"/>
<line x1="209.3" y1="295.4" x2="206.4" y2="308.6" stroke="#1a1a1a" stroke-width="0.78" opacity="0.55"/>
<line x1="299.8" y1="22.5" x2="306.2" y2="31.3" stroke="#1a1a1a" stroke-width="1.05" opacity="0.55"/>
<line x1="327.2" y1="113.3" x2="332.2" y2="119.0" stroke="#1a1a1a" stroke-width="0.93" opacity="0.55"/>
<line x1="9.5" y1="111.6" x2="6.9" y2="116.4" stroke="#1a1a1a" stroke-width="0.75" opacity="0.55"/>
<line x1="344.7" y1="278.2" x2="348.8" y2="282.3" stroke="#1a1a1a" stroke-width="0.59" opacity="0.55"/>
<line x1="33.9" y1="236.6" x2="29.3" y2="241.5" stroke="#1a1a1a" stroke-width="0.89" opacity="0.55"/>
<line x1="274.7" y1="8.4" x2="264.1" y2="15.2" stroke="#1a1a1a" stroke-width="0.67" opacity="0.55"/>
<line x1="277.9" y1="208.4" x2="284.1" y2="219.5" stroke="#1a1a1a" stroke-width="0.67" opacity="0.55"/>
<line x1="187.2" y1="93.5" x2="189.4" y2="105.4" stroke="#1a1a1a" stroke-width="0.96" opacity="0.55"/>
<line x1="240.7" y1="294.1" x2="245.4" y2="298.1" stroke="#1a1a1a" stroke-width="1.00" opacity="0.55"/>
<line x1="59.3" y1="287.3" x2="63.4" y2="294.7" stroke="#1a1a1a" stroke-width="0.84" opacity="0.55"/>
<line x1="326.9" y1="272.8" x2="323.9" y2="277.6" stroke="#1a1a1a" stroke-width="0.78" opacity="0.55"/>
<line x1="279.0" y1="64.4" x2="267.2" y2="69.0" stroke="#1a1a1a" stroke-width="0.68" opacity="0.55"/>
<line x1="143.9" y1="68.2" x2="141.1" y2="71.6" stroke="#1a1a1a" stroke-width="1.06" opacity="0.55"/>
<line x1="24.7" y1="250.7" x2="23.4" y2="260.4" stroke="#1a1a1a" stroke-width="0.58" opacity="0.55"/>
<line x1="17.5" y1="105.2" x2="7.5" y2="105.7" stroke="#1a1a1a" stroke-width="1.19" opacity="0.55"/>
<line x1="24.7" y1="30.3" x2="35.7" y2="31.1" stroke="#1a1a1a" stroke-width="0.64" opacity="0.55"/>
<line x1="107.7" y1="198.8" x2="103.5" y2="204.7" stroke="#1a1a1a" stroke-width="0.87" opacity="0.55"/>
<line x1="114.2" y1="167.3" x2="117.5" y2="174.1" stroke="#1a1a1a" stroke-width="0.70" opacity="0.55"/>
<line x1="115.4" y1="77.8" x2="122.5" y2="78.1" stroke="#1a1a1a" stroke-width="0.97" opacity="0.55"/>
<line x1="106.1" y1="33.7" x2="98.4" y2="37.7" stroke="#1a1a1a" stroke-width="0.91" opacity="0.55"/>
<line x1="123.2" y1="264.4" x2="115.9" y2="271.5" stroke="#1a1a1a" stroke-width="1.03" opacity="0.55"/>
<line x1="273.5" y1="149.1" x2="275.6" y2="156.7" stroke="#1a1a1a" stroke-width="0.90" opacity="0.55"/>
<line x1="185.1" y1="157.6" x2="183.9" y2="169.4" stroke="#1a1a1a" stroke-width="1.21" opacity="0.55"/>
<line x1="88.5" y1="6.6" x2="91.0" y2="10.1" stroke="#1a1a1a" stroke-width="1.14" opacity="0.55"/>
<line x1="245.0" y1="85.1" x2="255.5" y2="92.3" stroke="#1a1a1a" stroke-width="1.17" opacity="0.55"/>
<line x1="270.0" y1="206.1" x2="264.1" y2="212.3" stroke="#1a1a1a" stroke-width="0.82" opacity="0.55"/>
<line x1="218.4" y1="262.4" x2="205.2" y2="262.7" stroke="#1a1a1a" stroke-width="1.17" opacity="0.55"/>
<line x1="29.4" y1="73.6" x2="20.0" y2="74.4" stroke="#1a1a1a" stroke-width="0.91" opacity="0.55"/>
<line x1="122.4" y1="256.9" x2="121.7" y2="270.8" stroke="#1a1a1a" stroke-width="0.56" opacity="0.55"/>
<line x1="392.3" y1="4.0" x2="399.4" y2="7.5" stroke="#1a1a1a" stroke-width="1.01" opacity="0.55"/>
<line x1="43.7" y1="167.6" x2="35.5" y2="169.2" stroke="#1a1a1a" stroke-width="1.11" opacity="0.55"/>
<line x1="233.8" y1="173.6" x2="241.2" y2="178.0" stroke="#1a1a1a" stroke-width="1.22" opacity="0.55"/>
<line x1="266.3" y1="64.6" x2="267.9" y2="73.9" stroke="#1a1a1a" stroke-width="0.77" opacity="0.55"/>
<line x1="228.2" y1="188.2" x2="234.4" y2="188.6" stroke="#1a1a1a" stroke-width="1.03" opacity="0.55"/>
<line x1="84.7" y1="21.7" x2="79.3" y2="26.7" stroke="#1a1a1a" stroke-width="1.27" opacity="0.55"/>
<line x1="220.7" y1="30.2" x2="218.0" y2="36.2" stroke="#1a1a1a" stroke-width="1.15" opacity="0.55"/>
<line x1="286.0" y1="226.0" x2="290.3" y2="226.8" stroke="#1a1a1a" stroke-width="1.14" opacity="0.55"/>
<line x1="55.5" y1="60.1" x2="61.1" y2="60.7" stroke="#1a1a1a" stroke-width="0.88" opacity="0.55"/>
<line x1="378.4" y1="95.7" x2="386.9" y2="104.7" stroke="#1a1a1a" stroke-width="0.65" opacity="0.55"/>
<line x1="250.9" y1="183.3" x2="246.5" y2="184.2" stroke="#1a1a1a" stroke-width="0.95" opacity="0.55"/>
<line x1="151.2" y1="245.4" x2="159.1" y2="253.4" stroke="#1a1a1a" stroke-width="0.65" opacity="0.55"/>
<line x1="195.6" y1="288.6" x2="200.5" y2="293.2" stroke="#1a1a1a" stroke-width="1.23" opacity="0.55"/>
<line x1="266.4" y1="19.6" x2="271.7" y2="23.2" stroke="#1a1a1a" stroke-width="0.73" opacity="0.55"/>
<line x1="333.6" y1="208.8" x2="322.9" y2="209.4" stroke="#1a1a1a" stroke-width="1.00" opacity="0.55"/>
<line x1="151.3" y1="213.8" x2="151.4" y2="218.4" stroke="#1a1a1a" stroke-width="0.89" opacity="0.55"/>
<line x1="151.7" y1="158.2" x2="155.9" y2="158.9" stroke="#1a1a1a" stroke-width="1.29" opacity="0.55"/>
<line x1="146.6" y1="98.3" x2="155.5" y2="102.8" stroke="#1a1a1a" stroke-width="1.23" opacity="0.55"/>
<line x1="71.2" y1="149.1" x2="71.3" y2="160.7" stroke="#1a1a1a" stroke-width="0.95" opacity="0.55"/>
<line x1="94.4" y1="56.5" x2="91.3" y2="60.2" stroke="#1a1a1a" stroke-width="1.19" opacity="0.55"/>
<line x1="13.2" y1="56.5" x2="14.5" y2="68.8" stroke="#1a1a1a" stroke-width="1.00" opacity="0.55"/>
<line x1="294.6" y1="226.8" x2="291.7" y2="230.2" stroke="#1a1a1a" stroke-width="1.16" opacity="0.55"/>
<line x1="58.4" y1="48.4" x2="62.6" y2="48.9" stroke="#1a1a1a" stroke-width="1.20" opacity="0.55"/>
<line x1="150.5" y1="25.8" x2="162.8" y2="27.6" stroke="#1a1a1a" stroke-width="0.98" opacity="0.55"/>
<line x1="361.9" y1="11.1" x2="368.4" y2="13.5" stroke="#1a1a1a" stroke-width="0.65" opacity="0.55"/>
<line x1="44.3" y1="59.8" x2="41.9" y2="64.9" stroke="#1a1a1a" stroke-width="0.63" opacity="0.55"/>
<line x1="211.5" y1="111.9" x2="220.2" y2="116.3" stroke="#1a1a1a" stroke-width="0.91" opacity="0.55"/>
<line x1="153.3" y1="141.3" x2="163.3" y2="142.6" stroke="#1a1a1a" stroke-width="0.65" opacity="0.55"/>
<line x1="132.6" y1="2.8" x2="123.4" y2="6.2" stroke="#1a1a1a" stroke-width="0.81" opacity="0.55"/>
<line x1="214.0" y1="280.1" x2="221.2" y2="283.2" stroke="#1a1a1a" stroke-width="1.07" opacity="0.55"/>
<line x1="147.0" y1="210.6" x2="142.8" y2="211.9" stroke="#1a1a1a" stroke-width="0.73" opacity="0.55"/>
<line x1="115.7" y1="223.6" x2="107.1" y2="230.5" stroke="#1a1a1a" stroke-width="1.24" opacity="0.55"/>
<line x1="73.4" y1="117.2" x2="62.9" y2="122.4" stroke="#1a1a1a" stroke-width="0.59" opacity="0.55"/>
<line x1="387.0" y1="220.7" x2="380.0" y2="223.8" stroke="#1a1a1a" stroke-width="0.98" opacity="0.55"/>
<line x1="378.7" y1="267.6" x2="375.6" y2="280.1" stroke="#1a1a1a" stroke-width="1.30" opacity="0.55"/>
<line x1="331.5" y1="195.4" x2="326.1" y2="196.1" stroke="#1a1a1a" stroke-width="0.82" opacity="0.55"/>
<line x1="222.8" y1="39.2" x2="219.2" y2="42.2" stroke="#1a1a1a" stroke-width="1.00" opacity="0.55"/>
<line x1="110.5" y1="96.2" x2="108.5" y2="101.8" stroke="#1a1a1a" stroke-width="0.86" opacity="0.55"/>
<line x1="338.6" y1="294.1" x2="343.8" y2="299.7" stroke="#1a1a1a" stroke-width="1.06" opacity="0.55"/>
<line x1="75.0" y1="253.0" x2="82.7" y2="258.6" stroke="#1a1a1a" stroke-width="0.77" opacity="0.55"/>
<line x1="0.4" y1="0.3" x2="7.7" y2="0.3" stroke="#1a1a1a" stroke-width="0.72" opacity="0.55"/>
<line x1="391.6" y1="190.0" x2="402.5" y2="192.3" stroke="#1a1a1a" stroke-width="0.69" opacity="0.55"/>
<line x1="190.2" y1="215.3" x2="178.2" y2="221.2" stroke="#1a1a1a" stroke-width="0.84" opacity="0.55"/>
<line x1="125.5" y1="118.4" x2="131.8" y2="127.9" stroke="#1a1a1a" stroke-width="0.87" opacity="0.55"/>
<line x1="270.8" y1="45.3" x2="260.2" y2="53.9" stroke="#1a1a1a" stroke-width="0.66" opacity="0.55"/>
<line x1="243.6" y1="48.3" x2="251.6" y2="49.2" stroke="#1a1a1a" stroke-width="0.65" opacity="0.55"/>
<line x1="288.6" y1="170.6" x2="281.5" y2="182.2" stroke="#1a1a1a" stroke-width="0.55" opacity="0.55"/>
<line x1="38.9" y1="10.7" x2="40.4" y2="22.8" stroke="#1a1a1a" stroke-width="1.05" opacity="0.55"/>
<line x1="216.4" y1="255.1" x2="218.4" y2="259.9" stroke="#1a1a1a" stroke-width="1.01" opacity="0.55"/>
<line x1="10.1" y1="68.3" x2="15.7" y2="68.9" stroke="#1a1a1a" stroke-width="0.55" opacity="0.55"/>
<line x1="210.0" y1="38.2" x2="206.1" y2="49.8" stroke="#1a1a1a" stroke-width="0.78" opacity="0.55"/>
<line x1="47.5" y1="200.0" x2="39.1" y2="209.7" stroke="#1a1a1a" stroke-width="0.94" opacity="0.55"/>
<line x1="229.9" y1="257.2" x2="222.6" y2="268.9" stroke="#1a1a1a" stroke-width="0.73" opacity="0.55"/>
<line x1="305.9" y1="188.6" x2="306.3" y2="192.7" stroke="#1a1a1a" stroke-width="0.88" opacity="0.55"/>
<line x1="104.0" y1="179.3" x2="103.8" y2="188.4" stroke="#1a1a1a" stroke-width="0.55" opacity="0.55"/>
<line x1="52.0" y1="180.9" x2="44.4" y2="192.6" stroke="#1a1a1a" stroke-width="1.13" opacity="0.55"/>
<line x1="114.6" y1="135.8" x2="114.4" y2="147.8" stroke="#1a1a1a" stroke-width="0.82" opacity="0.55"/>
<line x1="363.6" y1="144.2" x2="366.4" y2="152.6" stroke="#1a1a1a" stroke-width="0.79" opacity="0.55"/>
<line x1="394.9" y1="13.8" x2="396.3" y2="18.4" stroke="#1a1a1a" stroke-width="1.04" opacity="0.55"/>
<line x1="59.5" y1="44.4" x2="61.9" y2="54.2" stroke="#1a1a1a" stroke-width="1.11" opacity="0.55"/>
<line x1="175.6" y1="87.9" x2="180.8" y2="99.7" stroke="#1a1a1a" stroke-width="0.67" opacity="0.55"/>
<line x1="4.5" y1="264.0" x2="4.8" y2="269.3" stroke="#1a1a1a" stroke-width="0.61" opacity="0.55"/>
<line x1="351.7" y1="223.2" x2="362.2" y2="225.4" stroke="#1a1a1a" stroke-width="0.67" opacity="0.55"/>
<line x1="176.1" y1="180.3" x2="189.3" y2="182.4" stroke="#1a1a1a" stroke-width="0.77" opacity="0.55"/>
<line x1="56.8" y1="232.5" x2="61.0" y2="234.0" stroke="#1a1a1a" stroke-width="1.02" opacity="0.55"/>
<line x1="185.7" y1="268.4" x2="180.9" y2="272.1" stroke="#1a1a1a" stroke-width="0.54" opacity="0.55"/>
<line x1="238.3" y1="140.2" x2="246.0" y2="150.9" stroke="#1a1a1a" stroke-width="0.67" opacity="0.55"/>
<line x1="254.1" y1="21.9" x2="241.0" y2="25.1" stroke="#1a1a1a" stroke-width="0.99" opacity="0.55"/>
<line x1="126.5" y1="215.7" x2="115.1" y2="219.3" stroke="#1a1a1a" stroke-width="0.53" opacity="0.55"/>
<line x1="199.1" y1="41.7" x2="197.2" y2="55.1" stroke="#1a1a1a" stroke-width="1.19" opacity="0.55"/>
<line x1="98.3" y1="164.5" x2="101.4" y2="169.2" stroke="#1a1a1a" stroke-width="1.09" opacity="0.55"/>
<line x1="299.9" y1="100.3" x2="302.7" y2="111.0" stroke="#1a1a1a" stroke-width="1.08" opacity="0.55"/>
<line x1="183.1" y1="35.2" x2="188.5" y2="36.9" stroke="#1a1a1a" stroke-width="1.16" opacity="0.55"/>
<line x1="196.0" y1="192.1" x2="199.2" y2="199.1" stroke="#1a1a1a" stroke-width="0.64" opacity="0.55"/>
<line x1="385.0" y1="180.4" x2="395.1" y2="184.8" stroke="#1a1a1a" stroke-width="0.98" opacity="0.55"/>
<line x1="242.2" y1="229.4" x2="238.0" y2="241.5" stroke="#1a1a1a" stroke-width="1.28" opacity="0.55"/>
<line x1="160.7" y1="193.2" x2="163.8" y2="200.7" stroke="#1a1a1a" stroke-width="0.79" opacity="0.55"/>
<line x1="255.7" y1="105.0" x2="261.3" y2="116.2" stroke="#1a1a1a" stroke-width="1.14" opacity="0.55"/>
<line x1="267.1" y1="251.4" x2="270.8" y2="261.2" stroke="#1a1a1a" stroke-width="0.70" opacity="0.55"/>
<line x1="124.6" y1="30.0" x2="113.9" y2="37.8" stroke="#1a1a1a" stroke-width="0.74" opacity="0.55"/>
<line x1="149.4" y1="34.9" x2="158.8" y2="39.4" stroke="#1a1a1a" stroke-width="1.21" opacity="0.55"/>
</g></svg>
<div style="left:157.0px;top:479.0px;width:972.0px;height:619.8px;border:4px solid #6486a8;border-radius:22px;background:#fff;box-sizing:border-box;"></div>
<span class="t" style="left:187.7px;top:511.5px;font-size:32.445px;line-height:32.445px;font-weight:bold;font-style:normal;color:#1f2e4a;transform:scaleX(1.0141);">Contexte de communication et stratégies d'enseignement :</span>
<div style="left:172.6px;top:555.0px;width:943.4px;height:532.0px;background:#dfe3fb;"></div>
<span class="t" style="left:174.6px;top:566.3px;font-size:32.76px;line-height:32.76px;font-weight:normal;font-style:normal;color:#0a0a0a;transform:scaleX(0.9540);">- Contexte prévisible et non exigeant;</span>
<span class="t" style="left:174.6px;top:602.6px;font-size:32.76px;line-height:32.76px;font-weight:normal;font-style:normal;color:#0a0a0a;transform:scaleX(0.9540);">- Communication très simple et très courte, informelle, en lien avec</span>
<span class="t" style="left:174.0px;top:638.9px;font-size:32.76px;line-height:32.76px;font-weight:normal;font-style:normal;color:#0a0a0a;transform:scaleX(0.9540);">les besoins immédiats;</span>
<span class="t" style="left:174.6px;top:675.2px;font-size:32.76px;line-height:32.76px;font-weight:normal;font-style:normal;color:#0a0a0a;transform:scaleX(0.9540);">- Textes très simples, très courts, limités à des mots ou des</span>
<span class="t" style="left:175.5px;top:711.5px;font-size:32.76px;line-height:32.76px;font-weight:normal;font-style:normal;color:#0a0a0a;transform:scaleX(0.9540);">tournures courantes, illustrés ou accompagnés d’autres éléments</span>
<span class="t" style="left:175.8px;top:747.8px;font-size:32.76px;line-height:32.76px;font-weight:normal;font-style:normal;color:#0a0a0a;transform:scaleX(0.9540);">visuels;</span>
<span class="t" style="left:174.6px;top:784.1px;font-size:32.76px;line-height:32.76px;font-weight:normal;font-style:normal;color:#0a0a0a;transform:scaleX(0.9540);">- Vocabulaire de base, en lien avec les besoins immédiats et</span>
<span class="t" style="left:174.0px;top:820.4px;font-size:32.76px;line-height:32.76px;font-weight:normal;font-style:normal;color:#0a0a0a;transform:scaleX(0.9540);">rudimentaires.</span>
<span class="t" style="left:174.6px;top:893.0px;font-size:32.76px;line-height:32.76px;font-weight:normal;font-style:normal;color:#0a0a0a;transform:scaleX(0.9540);">Stratégies d'enseignement :</span>
<span class="t" style="left:174.0px;top:929.3px;font-size:32.76px;line-height:32.76px;font-weight:normal;font-style:normal;color:#0a0a0a;transform:scaleX(0.9540);">ralentir le débit de parole; utiliser des ressources de base de la vie</span>
<span class="t" style="left:174.7px;top:965.6px;font-size:32.76px;line-height:32.76px;font-weight:normal;font-style:normal;color:#0a0a0a;transform:scaleX(0.9540);">de tous les jours et des textes connus; créer des versions</span>
<span class="t" style="left:175.1px;top:1001.9px;font-size:32.76px;line-height:32.76px;font-weight:normal;font-style:normal;color:#0a0a0a;transform:scaleX(0.9540);">simplifiées de formulaires en ligne, brochures ou sites Internet.</span>
<div style="left:1152.0px;top:479.0px;width:886.4px;height:619.8px;border:4px solid #6486a8;border-radius:22px;background:#fff;box-sizing:border-box;"></div>
<span class="t" style="left:1182.6px;top:508.0px;font-size:32.445px;line-height:32.445px;font-weight:bold;font-style:normal;color:#1f2e4a;transform:scaleX(1.0015);">Exemples de tâches de type sociolinguistique :</span>
<span class="t" style="left:1192.7px;top:556.9px;font-size:30.78px;line-height:30.78px;font-weight:bold;font-style:normal;color:#2f6aa8;transform:scaleX(0.9170);">Équité, diversité et inclusion</span>
<span class="t" style="left:1192.7px;top:590.8px;font-size:30.78px;line-height:30.78px;font-weight:bold;font-style:normal;color:#2f6aa8;transform:scaleX(0.9080);">Perspectives autochtones</span>
<span class="t" style="left:1618.9px;top:556.9px;font-size:30.78px;line-height:30.78px;font-weight:bold;font-style:normal;color:#2f6aa8;transform:scaleX(0.8988);">Compétences pour réussir</span>
<span class="t" style="left:1194.5px;top:831.9px;font-size:30.78px;line-height:30.78px;font-weight:bold;font-style:normal;color:#2f6aa8;transform:scaleX(0.9295);">Contexte francophone</span>
<span class="t" style="left:1617.1px;top:831.9px;font-size:30.78px;line-height:30.78px;font-weight:bold;font-style:normal;color:#2f6aa8;transform:scaleX(0.9635);">Interculturalité</span>
<div style="left:1192.0px;top:625.2px;width:392.6px;height:192.3px;border:3px solid #3b72b0;border-radius:12px;background:#fff;box-sizing:border-box;"></div>
<div style="left:1201.6px;top:636.3px;width:374.4px;height:173.7px;background:#dfe3fb;"></div>
<span class="t" style="left:1201.6px;top:647.2px;font-size:30.765px;line-height:30.765px;font-weight:normal;font-style:normal;color:#0a0a0a;transform:scaleX(0.9594);">Écouter une très courte</span>
<span class="t" style="left:1203.9px;top:681.2px;font-size:30.765px;line-height:30.765px;font-weight:normal;font-style:normal;color:#0a0a0a;transform:scaleX(0.9594);">vidéo sur la Journée du</span>
<span class="t" style="left:1202.8px;top:715.2px;font-size:30.765px;line-height:30.765px;font-weight:normal;font-style:normal;color:#0a0a0a;transform:scaleX(0.9594);">chandail orange et noter les</span>
<span class="t" style="left:1202.1px;top:749.2px;font-size:30.765px;line-height:30.765px;font-weight:normal;font-style:normal;color:#0a0a0a;transform:scaleX(0.9594);">informations pertinentes.</span>
<div style="left:1612.8px;top:625.2px;width:393.0px;height:192.3px;border:3px solid #3b72b0;border-radius:12px;background:#fff;box-sizing:border-box;"></div>
<div style="left:1622.0px;top:636.3px;width:375.5px;height:173.7px;background:#dfe3fb;"></div>
<span class="t" style="left:1623.1px;top:644.6px;font-size:28.875px;line-height:28.875px;font-weight:normal;font-style:normal;color:#0a0a0a;transform:scaleX(0.9591);">Collaboration : créer en</span>
<span class="t" style="left:1623.4px;top:676.6px;font-size:28.875px;line-height:28.875px;font-weight:normal;font-style:normal;color:#0a0a0a;transform:scaleX(0.9591);">équipe une affiche très simple</span>
<span class="t" style="left:1623.7px;top:709.6px;font-size:28.875px;line-height:28.875px;font-weight:normal;font-style:normal;color:#0a0a0a;transform:scaleX(0.9591);">sur les bienfaits du recyclage</span>
<span class="t" style="left:1623.4px;top:741.2px;font-size:28.875px;line-height:28.875px;font-weight:normal;font-style:normal;color:#0a0a0a;transform:scaleX(0.9591);">avec des mots clés.</span>
<div style="left:1192.0px;top:878.0px;width:390.0px;height:196.0px;border:3px solid #3b72b0;border-radius:12px;background:#fff;box-sizing:border-box;"></div>
<div style="left:1200.0px;top:886.0px;width:373.7px;height:178.6px;background:#dfe3fb;"></div>
<span class="t" style="left:1201.0px;top:898.0px;font-size:35.385000000000005px;line-height:35.385000000000005px;font-weight:normal;font-style:normal;color:#0a0a0a;transform:scaleX(0.9652);">Comprendre le rôle de</span>
<span class="t" style="left:1200.0px;top:937.5px;font-size:35.385000000000005px;line-height:35.385000000000005px;font-weight:normal;font-style:normal;color:#0a0a0a;transform:scaleX(0.9652);">La Fédération des</span>
<span class="t" style="left:1202.2px;top:977.0px;font-size:35.385000000000005px;line-height:35.385000000000005px;font-weight:normal;font-style:normal;color:#0a0a0a;transform:scaleX(0.9652);">francophones de la</span>
<span class="t" style="left:1201.0px;top:1016.6px;font-size:35.385000000000005px;line-height:35.385000000000005px;font-weight:normal;font-style:normal;color:#0a0a0a;transform:scaleX(0.9652);">Colombie-Britannique.</span>
<div style="left:1613.0px;top:878.0px;width:391.7px;height:196.0px;border:3px solid #3b72b0;border-radius:12px;background:#fff;box-sizing:border-box;"></div>
<div style="left:1621.5px;top:886.0px;width:374.8px;height:178.6px;background:#dfe3fb;"></div>
<span class="t" style="left:1621.8px;top:898.0px;font-size:35.49px;line-height:35.49px;font-weight:normal;font-style:normal;color:#0a0a0a;transform:scaleX(0.9642);">Écrire un court message</span>
<span class="t" style="left:1623.1px;top:937.5px;font-size:35.49px;line-height:35.49px;font-weight:normal;font-style:normal;color:#0a0a0a;transform:scaleX(0.9642);">à son ami.e pour l'inviter</span>
<span class="t" style="left:1623.1px;top:977.0px;font-size:35.49px;line-height:35.49px;font-weight:normal;font-style:normal;color:#0a0a0a;transform:scaleX(0.9642);">à une fête de son pays</span>
<span class="t" style="left:1623.1px;top:1016.6px;font-size:35.49px;line-height:35.49px;font-weight:normal;font-style:normal;color:#0a0a0a;transform:scaleX(0.9642);">d'origine.</span>
<div style="left:533.0px;top:1100.3px;width:4.0px;height:50.7px;background:#6486a8;"></div>
<div style="left:533.0px;top:1147.5px;width:53.0px;height:4.0px;background:#6486a8;"></div>
<span class="t" style="left:594.3px;top:1129.1px;font-size:45.5px;line-height:45.5px;font-weight:bold;font-style:normal;color:#1f2e4a;transform:scaleX(0.9974);">Analyse des besoins et profil du groupe-classe</span>
<div style="left:1622.5px;top:1153.5px;width:40.5px;height:4.0px;background:#6486a8;"></div>
<div style="left:1659.5px;top:1100.8px;width:4.0px;height:56.7px;background:#6486a8;"></div>
<div style="left:1100.0px;top:1181.0px;width:4.0px;height:25.0px;background:#6486a8;"></div>
<div style="left:665.0px;top:1202.5px;width:875.0px;height:4.0px;background:#6486a8;"></div>
<div style="left:664.5px;top:1202.5px;width:4.0px;height:29.5px;background:#6486a8;"></div>
<div style="left:1536.5px;top:1202.5px;width:4.0px;height:29.5px;background:#6486a8;"></div>
<div style="left:243.0px;top:1229.8px;width:602.0px;height:614.8px;border:4px solid #6486a8;border-radius:22px;background:#fff;box-sizing:border-box;"></div>
<span class="t" style="left:273.5px;top:1247.8px;font-size:32.445px;line-height:32.445px;font-weight:bold;font-style:normal;color:#1f2e4a;transform:scaleX(0.9898);">Exemples de sous-thèmes :</span>
<div style="left:268.9px;top:1293.6px;width:266.6px;height:123.4px;border:3px solid #3a76b4;border-radius:12px;background:#fff;box-sizing:border-box;"></div>
<div style="left:276.9px;top:1302.1px;width:250.1px;height:107.4px;background:#dfe3fb;"></div>
<div style="left:551.4px;top:1293.6px;width:268.4px;height:123.4px;border:3px solid #3a76b4;border-radius:12px;background:#fff;box-sizing:border-box;"></div>
<div style="left:559.4px;top:1302.1px;width:251.9px;height:107.4px;background:#dfe3fb;"></div>
<div style="left:268.9px;top:1426.6px;width:266.6px;height:124.1px;border:3px solid #3a76b4;border-radius:12px;background:#fff;box-sizing:border-box;"></div>
<div style="left:276.9px;top:1435.1px;width:250.1px;height:108.1px;background:#dfe3fb;"></div>
<div style="left:550.4px;top:1425.6px;width:270.4px;height:126.1px;border:5px solid #37328a;border-radius:12px;background:#fff;box-sizing:border-box;"></div>
<div style="left:560.4px;top:1436.6px;width:250.4px;height:105.1px;background:#dfe3fb;"></div>
<div style="left:268.9px;top:1559.6px;width:266.6px;height:124.4px;border:3px solid #3a76b4;border-radius:12px;background:#fff;box-sizing:border-box;"></div>
<div style="left:276.9px;top:1568.1px;width:250.1px;height:108.4px;background:#dfe3fb;"></div>
<div style="left:551.4px;top:1559.6px;width:268.4px;height:124.4px;border:3px solid #3a76b4;border-radius:12px;background:#fff;box-sizing:border-box;"></div>
<div style="left:559.4px;top:1568.1px;width:251.9px;height:108.4px;background:#dfe3fb;"></div>
<div style="left:268.9px;top:1692.7px;width:266.6px;height:124.8px;border:3px solid #3a76b4;border-radius:12px;background:#fff;box-sizing:border-box;"></div>
<div style="left:276.9px;top:1701.2px;width:250.1px;height:108.8px;background:#dfe3fb;"></div>
<div style="left:551.4px;top:1692.7px;width:268.4px;height:124.8px;border:3px solid #3a76b4;border-radius:12px;background:#fff;box-sizing:border-box;"></div>
<div style="left:559.4px;top:1701.2px;width:251.9px;height:108.8px;background:#dfe3fb;"></div>
<span class="t" style="left:278.6px;top:1314.7px;font-size:38.745px;line-height:38.745px;font-weight:normal;font-style:normal;color:#000;transform:scaleX(0.9689);">Droit de la</span>
<span class="t" style="left:281.0px;top:1358.7px;font-size:38.745px;line-height:38.745px;font-weight:normal;font-style:normal;color:#000;transform:scaleX(0.9524);">famille</span>
<span class="t" style="left:560.7px;top:1313.3px;font-size:39.795px;line-height:39.795px;font-weight:normal;font-style:normal;color:#000;transform:scaleX(0.9524);">Partage</span>
<span class="t" style="left:561.2px;top:1359.8px;font-size:39.795px;line-height:39.795px;font-weight:normal;font-style:normal;color:#000;transform:scaleX(0.9782);">interculturel</span>
<span class="t" style="left:278.6px;top:1447.2px;font-size:38.955000000000005px;line-height:38.955000000000005px;font-weight:normal;font-style:normal;color:#000;transform:scaleX(0.9524);">Droit de</span>
<span class="t" style="left:279.1px;top:1490.5px;font-size:38.955000000000005px;line-height:38.955000000000005px;font-weight:normal;font-style:normal;color:#000;transform:scaleX(0.9744);">l’immigration</span>
<span class="t" style="left:562.9px;top:1446.8px;font-size:35.28px;line-height:35.28px;font-weight:normal;font-style:normal;color:#000;transform:scaleX(0.9524);">Protection de</span>
<span class="t" style="left:563.4px;top:1486.6px;font-size:35.28px;line-height:35.28px;font-weight:normal;font-style:normal;color:#000;transform:scaleX(0.9618);">l'environnement</span>
<span class="t" style="left:279.8px;top:1581.8px;font-size:38.22px;line-height:38.22px;font-weight:normal;font-style:normal;color:#000;transform:scaleX(0.9524);">Gestes de</span>
<span class="t" style="left:279.2px;top:1625.8px;font-size:38.22px;line-height:38.22px;font-weight:normal;font-style:normal;color:#000;transform:scaleX(0.9797);">prévention</span>
<span class="t" style="left:561.5px;top:1582.1px;font-size:36.54px;line-height:36.54px;font-weight:normal;font-style:normal;color:#000;transform:scaleX(0.9677);">Communication</span>
<span class="t" style="left:561.9px;top:1622.6px;font-size:36.54px;line-height:36.54px;font-weight:normal;font-style:normal;color:#000;transform:scaleX(0.9524);">avec autrui</span>
<span class="t" style="left:278.6px;top:1715.5px;font-size:42.21000000000001px;line-height:42.21000000000001px;font-weight:normal;font-style:normal;color:#000;transform:scaleX(0.9779);">Recyclage</span>
<span class="t" style="left:561.2px;top:1712.8px;font-size:31.815px;line-height:31.815px;font-weight:normal;font-style:normal;color:#000;transform:scaleX(0.9524);">Environnement à</span>
<span class="t" style="left:561.6px;top:1747.6px;font-size:31.815px;line-height:31.815px;font-weight:normal;font-style:normal;color:#000;transform:scaleX(0.9650);">l’échelle mondiale</span>
<div style="left:881.0px;top:1229.8px;width:1065.0px;height:618.6px;border:4px solid #6486a8;border-radius:22px;background:#fff;box-sizing:border-box;"></div>
<div style="left:838.0px;top:1446.0px;width:10.0px;height:79.5px;background:#fff;"></div>
<div style="left:878.0px;top:1446.0px;width:10.0px;height:79.5px;background:#fff;"></div>
<div style="left:820.0px;top:1482.5px;width:50.0px;height:7.0px;background:#35307f;"></div>
<svg style="left:860px;top:1460px" width="40" height="52"><polygon points="8,6 35.4,26 8,46" fill="#35307f"/></svg>
<span class="t" style="left:902.3px;top:1252.2px;font-size:32.445px;line-height:32.445px;font-weight:bold;font-style:normal;color:#1f2e4a;transform:scaleX(0.9984);">Exemples de tâches de la vie réelle reliées au sous-thème :</span>
<span class="t" style="left:976.7px;top:1306.0px;font-size:31.92px;line-height:31.92px;font-weight:bold;font-style:normal;color:#33386b;transform:scaleX(0.8296);">Compréhension de l'oral</span>
<div style="left:975.5px;top:1342.8px;width:393.8px;height:210.2px;border:3px solid #2d2f5e;border-radius:12px;background:#fff;box-sizing:border-box;"></div>
<div style="left:985.0px;top:1354.6px;width:373.4px;height:189.2px;background:#dfe3fb;"></div>
<span class="t" style="left:985.8px;top:1367.3px;font-size:39.6px;line-height:39.6px;font-weight:normal;font-style:normal;color:#0a0a0a;transform:scaleX(0.9264);">Comprendre des</span>
<span class="t" style="left:985.2px;top:1409.0px;font-size:39.6px;line-height:39.6px;font-weight:normal;font-style:normal;color:#0a0a0a;transform:scaleX(0.9264);">instructions très</span>
<span class="t" style="left:986.5px;top:1450.6px;font-size:39.6px;line-height:39.6px;font-weight:normal;font-style:normal;color:#0a0a0a;transform:scaleX(0.9264);">simples sur le tri des</span>
<span class="t" style="left:986.1px;top:1492.9px;font-size:39.6px;line-height:39.6px;font-weight:normal;font-style:normal;color:#0a0a0a;transform:scaleX(0.9264);">déchets.</span>
<span class="t" style="left:1466.0px;top:1304.8px;font-size:31.92px;line-height:31.92px;font-weight:bold;font-style:normal;color:#8b2b2b;transform:scaleX(0.8029);">Expression orale</span>
<div style="left:1465.2px;top:1342.8px;width:393.6px;height:210.2px;border:3px solid #8b2b2b;border-radius:12px;background:#fff;box-sizing:border-box;"></div>
<div style="left:1477.0px;top:1354.8px;width:371.5px;height:188.6px;background:#dfe3fb;"></div>
<span class="t" style="left:1477.4px;top:1365.9px;font-size:31.815px;line-height:31.815px;font-weight:normal;font-style:normal;color:#0a0a0a;transform:scaleX(0.9606);">Donner des consignes très</span>
<span class="t" style="left:1478.9px;top:1401.3px;font-size:31.815px;line-height:31.815px;font-weight:normal;font-style:normal;color:#0a0a0a;transform:scaleX(0.9606);">simples et très courtes</span>
<span class="t" style="left:1477.8px;top:1436.7px;font-size:31.815px;line-height:31.815px;font-weight:normal;font-style:normal;color:#0a0a0a;transform:scaleX(0.9606);">pour réduire l'utilisation du</span>
<span class="t" style="left:1477.8px;top:1471.9px;font-size:31.815px;line-height:31.815px;font-weight:normal;font-style:normal;color:#0a0a0a;transform:scaleX(0.9606);">plastique au quotidien.</span>
<span class="t" style="left:976.7px;top:1576.4px;font-size:31.92px;line-height:31.92px;font-weight:bold;font-style:normal;color:#2e7d4f;transform:scaleX(0.8252);">Compréhension de l'écrit</span>
<div style="left:975.6px;top:1615.2px;width:393.4px;height:209.8px;border:3px solid #2f7a4a;border-radius:12px;background:#fff;box-sizing:border-box;"></div>
<div style="left:986.5px;top:1625.0px;width:371.9px;height:191.0px;background:#dfe3fb;"></div>
<span class="t" style="left:987.2px;top:1638.1px;font-size:36.225px;line-height:36.225px;font-weight:normal;font-style:normal;color:#0a0a0a;transform:scaleX(0.9628);">Repérer un magasin de</span>
<span class="t" style="left:989.0px;top:1678.6px;font-size:36.225px;line-height:36.225px;font-weight:normal;font-style:normal;color:#0a0a0a;transform:scaleX(0.9628);">seconde main dans</span>
<span class="t" style="left:987.7px;top:1719.2px;font-size:36.225px;line-height:36.225px;font-weight:normal;font-style:normal;color:#0a0a0a;transform:scaleX(0.9628);">une liste de commerces</span>
<span class="t" style="left:988.6px;top:1760.0px;font-size:36.225px;line-height:36.225px;font-weight:normal;font-style:normal;color:#0a0a0a;transform:scaleX(0.9628);">de son quartier.</span>
<span class="t" style="left:1466.0px;top:1576.0px;font-size:31.92px;line-height:31.92px;font-weight:bold;font-style:normal;color:#d9663a;transform:scaleX(0.8027);">Expression écrite</span>
<div style="left:1465.2px;top:1617.0px;width:393.6px;height:208.0px;border:3px solid #d8653c;border-radius:12px;background:#fff;box-sizing:border-box;"></div>
<div style="left:1477.0px;top:1625.4px;width:371.0px;height:188.6px;background:#dfe3fb;"></div>
<span class="t" style="left:1476.6px;top:1638.0px;font-size:37.065px;line-height:37.065px;font-weight:normal;font-style:normal;color:#0a0a0a;transform:scaleX(0.9603);">Inscrire ses données</span>
<span class="t" style="left:1477.5px;top:1679.2px;font-size:37.065px;line-height:37.065px;font-weight:normal;font-style:normal;color:#0a0a0a;transform:scaleX(0.9603);">personnelles dans un</span>
<span class="t" style="left:1479.3px;top:1720.6px;font-size:37.065px;line-height:37.065px;font-weight:normal;font-style:normal;color:#0a0a0a;transform:scaleX(0.9603);">formulaire pour obtenir</span>
<span class="t" style="left:1477.5px;top:1760.6px;font-size:37.065px;line-height:37.065px;font-weight:normal;font-style:normal;color:#0a0a0a;transform:scaleX(0.9603);">un bac de compost.</span>
<svg style="left:900px;top:1308px" width="72" height="72" viewBox="-2 -2 72 72">
<circle cx="33.4" cy="33.7" r="33" fill="#fff" stroke="#5b6b90" stroke-width="1.1"/>
<path d="M32 0.8 Q24 10 24.5 22 Q25 32 32.5 40 Q35 46 33 56 Q31 61 20 64 A33 33 0 0 1 32 0.8 Z" fill="#243663"/>
<path d="M32 0.8 A33 33 0 0 0 20 64" fill="#243663"/>
<g fill="none" stroke="#e8ecf4" stroke-width="1.5" stroke-linecap="round">
<path d="M10 24.5 Q16 30 13 38"/><path d="M13 22 Q20 29 16 41"/><path d="M16.5 19 Q25 28 20 44"/>
</g>
<path d="M32 32 Q29 24 34 22 Q38 21 38 27 Q37 31 35 33 Q35 37 38 38" fill="none" stroke="#6a7896" stroke-width="1.3"/>
<path d="M41 45.5 Q49 51 59 53" fill="none" stroke="#6a7896" stroke-width="1.2"/>
</svg>
<svg style="left:1387px;top:1308px" width="72" height="72" viewBox="-2 -2 72 72">
<circle cx="33.4" cy="33.7" r="33" fill="#fff" stroke="#a45a5a" stroke-width="1.1"/>
<path d="M29.9 0.7 A33 33 0 1 1 18.7 61.1 Q26 61 28.5 58.5 Q31 55.5 30.8 50 Q31 48.5 32.5 47.5 L32.5 43 Q31.5 41.5 32.3 40 Q32.5 38 32.5 36.8 Q34 36.5 36.3 34.8 Q34 30 32.5 24 Q30.5 14 29.9 0.7 Z" fill="#8a2727"/>
<path d="M20.6 46.2 Q27 43.5 33 43 M22.5 46.8 Q27 48.5 32.6 47.8 M26.4 36.6 Q31 35.8 36 35.4 M26.4 15 Q27.5 21 31.5 24.3" fill="none" stroke="#8a2727" stroke-width="0.9"/>
<g fill="none" stroke="#f1dede" stroke-width="1.5" stroke-linecap="round">
<path d="M40.5 38 Q45 43 41 50"/><path d="M43.5 36 Q49 43 44 53"/><path d="M47.5 34 Q54 43 47.5 56"/>
</g>
</svg>
<svg style="left:900px;top:1578px" width="72" height="72" viewBox="-2 -2 72 72">
<circle cx="31.6" cy="31.6" r="31.2" fill="#fff" stroke="#4c8a63" stroke-width="1.1"/>
<path d="M10.9 8 A31.2 31.2 0 0 1 60.8 20.5 Q45 14.5 31.8 17.3 Q22 11 10.9 8 Z" fill="#3a7746"/>
<path d="M62.6 37 A31.2 31.2 0 0 1 45.7 60 L50 54 Z" fill="#3a7746"/>
<line x1="31.8" y1="17.3" x2="9.9" y2="54.2" stroke="#4c8a63" stroke-width="1.1"/>
<path d="M66 29 L47.5 61.5 M65 26 L46.5 60.5" fill="none" stroke="#6fa283" stroke-width="0.8"/>
<path d="M31.8 17.3 Q47 15.5 63.8 22.7 L45.7 59.5 Q30 54 9.9 54.2" fill="#fff" stroke="#4c8a63" stroke-width="1.1"/>
<path d="M30.5 27.5 L39 28.5 L35.5 36 L27 35 Z" fill="#3a7746"/>
<g stroke="#5d9873" stroke-width="1.3" stroke-linecap="round">
<line x1="41" y1="28.6" x2="52.6" y2="32.3"/><line x1="39.5" y1="31.8" x2="51" y2="35.5"/><line x1="38" y1="35" x2="49.5" y2="38.7"/>
<line x1="26" y1="38.5" x2="48" y2="44"/><line x1="24.5" y1="41.8" x2="46.5" y2="47.2"/><line x1="23" y1="45" x2="45" y2="50.4"/>
<line x1="21.5" y1="48.2" x2="43" y2="53.6"/><line x1="20" y1="51.4" x2="41" y2="56.8"/><line x1="18" y1="54.6" x2="38.7" y2="59.5"/>
</g>
</svg>
<svg style="left:1387px;top:1577.5px" width="72" height="80" viewBox="-2 -2 72 80">
<path d="M1.1 44 A33 33 0 1 1 62 52.6 Q50 62 34.8 68 L23.6 72.4 L20.9 66 Q8 56 1.1 44 Z" fill="#fff" stroke="#e8a080" stroke-width="1"/>
<path d="M1.1 44 Q8 57 20.9 66 Q15 54 1.1 44 Z" fill="#e0673a" stroke="#e0673a" stroke-width="1.2"/>
<path d="M62 52.6 Q51 63 34.8 68 Q47 56 62 52.6 Z" fill="#e0673a" stroke="#e0673a" stroke-width="1.2"/>
<path d="M44.4 2.1 L52.9 7.2 L36.9 40.9 L25.7 52.6 L29.4 37.1 Z" fill="#e0673a"/>
<path d="M25.2 53.7 Q31 53 36.9 52.6" fill="none" stroke="#e8a080" stroke-width="0.9"/>
</svg>
<svg style="left:1862px;top:1459px" width="72" height="96" viewBox="0 0 72 96">
<defs><linearGradient id="lg" x1="0" y1="0" x2="1" y2="0"><stop offset="0" stop-color="#4b5f7c"/><stop offset="1" stop-color="#243f58"/></linearGradient></defs>
<rect x="3.5" y="17" width="65" height="76" rx="20" fill="url(#lg)" stroke="#7288ad" stroke-width="3.5"/>
<circle cx="35.7" cy="25.2" r="21" fill="url(#lg)" stroke="#7288ad" stroke-width="3.5"/>
<path d="M24 25.2 L45 25.2 M37 16.5 L45.5 25.2 L37 34" fill="none" stroke="#fff" stroke-width="3" stroke-linecap="round" stroke-linejoin="round"/>
<text x="36" y="64.5" text-anchor="middle" font-family="Liberation Sans" font-weight="bold" font-size="15.5" fill="#fff">Leçon</text>
<text x="36" y="78.6" text-anchor="middle" font-family="Liberation Sans" font-weight="bold" font-size="15.5" fill="#fff">type</text>
</svg>
<div style="left:606.5px;top:1843.0px;width:4.0px;height:52.5px;background:#6486a8;"></div>
<div style="left:606.0px;top:1891.5px;width:173.0px;height:4.0px;background:#6486a8;"></div>
<span class="t" style="left:779.0px;top:1869.1px;font-size:46.0px;line-height:46.0px;font-weight:bold;font-style:normal;color:#1f2e4a;transform:scaleX(0.9954);">Enseignement</span>
<span class="t" style="left:1180.3px;top:1869.1px;font-size:46.0px;line-height:46.0px;font-weight:bold;font-style:normal;color:#1f2e4a;transform:scaleX(0.9979);">Évaluation</span>
<svg style="left:1100px;top:1876px" width="72" height="36" viewBox="0 0 72 36"><path d="M9 17.6 L62 17.6 M17 9 L8.5 17.6 L17 26.2 M54 9 L62.5 17.6 L54 26.2" fill="none" stroke="#1f2e4a" stroke-width="3.6" stroke-linecap="round" stroke-linejoin="round"/></svg>
<div style="left:1417.0px;top:1893.0px;width:68.5px;height:4.0px;background:#6486a8;"></div>
<div style="left:1481.5px;top:1846.5px;width:4.0px;height:51.0px;background:#6486a8;"></div>
<div style="left:1093.0px;top:1920.0px;width:4.0px;height:22.0px;background:#6486a8;"></div>
<div style="left:415.0px;top:1940.7px;width:1365.7px;height:331.1px;border:4px solid #6486a8;border-radius:22px;background:#fff;box-sizing:border-box;"></div>
<span class="t" style="left:442.2px;top:1958.0px;font-size:32.445px;line-height:32.445px;font-weight:bold;font-style:normal;color:#1f2e4a;transform:scaleX(1.0076);">Contenu langagier relié au sous-thème :</span>
<div style="left:425.6px;top:2008.0px;width:1343.1px;height:249.5px;background:#dfe3fb;"></div>
<span class="t" style="left:427.5px;top:2018.7px;font-size:34.65px;line-height:34.65px;font-weight:normal;font-style:normal;color:#0a0a0a;transform:scaleX(0.9565);">- Vocabulaire rudimentaire relié à l'environnement;</span>
<span class="t" style="left:427.5px;top:2057.0px;font-size:34.65px;line-height:34.65px;font-weight:normal;font-style:normal;color:#0a0a0a;transform:scaleX(0.9565);">- Phrases simples à la forme déclarative, interrogative et impérative;</span>
<span class="t" style="left:427.5px;top:2095.3px;font-size:34.65px;line-height:34.65px;font-weight:normal;font-style:normal;color:#0a0a0a;transform:scaleX(0.9565);">- Phrases négatives;</span>
<span class="t" style="left:427.5px;top:2133.6px;font-size:34.65px;line-height:34.65px;font-weight:normal;font-style:normal;color:#0a0a0a;transform:scaleX(0.9565);">- Mots et expressions courantes relatives au lieu, au mouvement;</span>
<span class="t" style="left:427.5px;top:2171.9px;font-size:34.65px;line-height:34.65px;font-weight:normal;font-style:normal;color:#0a0a0a;transform:scaleX(0.9565);">- Liens entre quelques phrases simples;</span>
<span class="t" style="left:427.5px;top:2210.3px;font-size:34.65px;line-height:34.65px;font-weight:normal;font-style:normal;color:#0a0a0a;transform:scaleX(0.9565);">- Mots qui marquent l’ordre des évènements (hier, aujourd’hui).</span>
<div style="left:1093.0px;top:2270.0px;width:4.0px;height:31.0px;background:#6486a8;"></div>
<div style="left:593.3px;top:2299.5px;width:1017.2px;height:323.6px;border:4px solid #6486a8;border-radius:22px;background:#fff;box-sizing:border-box;"></div>
<span class="t" style="left:618.9px;top:2318.5px;font-size:32.445px;line-height:32.445px;font-weight:bold;font-style:normal;color:#1f2e4a;transform:scaleX(1.0045);">Ressources authentiques pour l'évaluation et l'enseignement :</span>
<div style="left:606.7px;top:2364.0px;width:989.1px;height:243.5px;background:#dfe3fb;"></div>
<span class="t" style="left:607.5px;top:2374.4px;font-size:33.81px;line-height:33.81px;font-weight:normal;font-style:normal;color:#0a0a0a;transform:scaleX(0.9556);">- Module ELBP sur Avenue : Dans votre communauté, « Participer</span>
<span class="t" style="left:607.7px;top:2411.6px;font-size:33.81px;line-height:33.81px;font-weight:normal;font-style:normal;color:#0a0a0a;transform:scaleX(0.9556);">aux activités et évènements communautaires » ;</span>
<span class="t" style="left:607.5px;top:2448.8px;font-size:33.81px;line-height:33.81px;font-weight:normal;font-style:normal;color:#0a0a0a;transform:scaleX(0.9556);">- Didacticiel sur Avenue : partir en camping avec des amis;</span>
<span class="t" style="left:607.5px;top:2486.0px;font-size:33.81px;line-height:33.81px;font-weight:normal;font-style:normal;color:#0a0a0a;transform:scaleX(0.9556);">- Site du gouvernement du Canada (protection de l'environnement) ;</span>
<span class="t" style="left:607.5px;top:2523.2px;font-size:33.81px;line-height:33.81px;font-weight:normal;font-style:normal;color:#0a0a0a;transform:scaleX(0.9556);">- Site d'information (exemple : Oceana) ;</span>
<span class="t" style="left:607.5px;top:2560.4px;font-size:33.81px;line-height:33.81px;font-weight:normal;font-style:normal;color:#0a0a0a;transform:scaleX(0.9556);">- Site d'une ville (formulaire de la ville d'Ottawa) .</span>
<div style="left:626.0px;top:2411.0px;width:378.0px;height:4.0px;background:#4a5cf0;"></div>
<div style="left:626.0px;top:2517.0px;width:486.0px;height:4.0px;background:#4a5cf0;"></div>
<div style="left:626.0px;top:2553.5px;width:250.0px;height:4.0px;background:#4a5cf0;"></div>
<div style="left:626.0px;top:2587.0px;width:211.0px;height:4.0px;background:#4a5cf0;"></div>
<span class="t" style="left:655.2px;top:2638.7px;font-size:28.14px;line-height:28.14px;font-weight:normal;font-style:italic;color:#222;transform:scaleX(0.9568);">Cette ressource n'est ni un programme d'études ni un document prescriptif.</span>
</body></html>
